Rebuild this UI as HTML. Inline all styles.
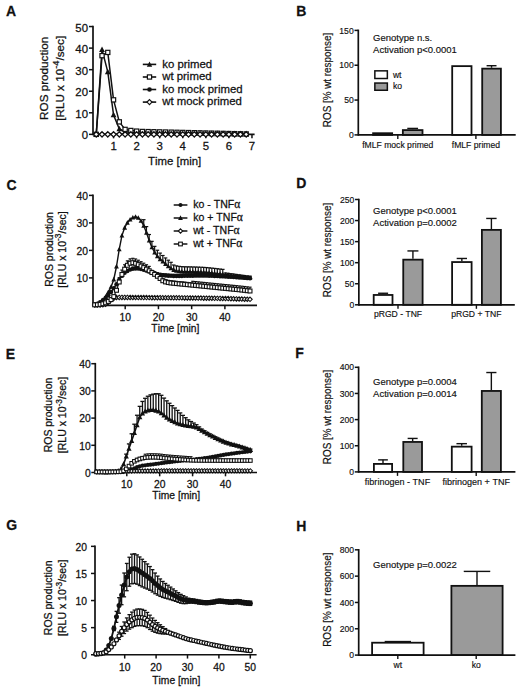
<!DOCTYPE html>
<html><head><meta charset="utf-8"><style>
html,body{margin:0;padding:0;background:#fff;}
svg{display:block;}
text{font-family:"Liberation Sans", sans-serif;font-variant-ligatures:none;font-kerning:none;}
</style></head><body>
<svg width="520" height="689" viewBox="0 0 520 689">
<rect width="520" height="689" fill="#fff"/>
<text x="6.00" y="16.00" font-size="14" text-anchor="start" font-weight="bold" fill="#111" stroke="#111" stroke-width="0.26">A</text>
<text x="296.20" y="16.20" font-size="14" text-anchor="start" font-weight="bold" fill="#111" stroke="#111" stroke-width="0.26">B</text>
<text x="6.60" y="190.20" font-size="14" text-anchor="start" font-weight="bold" fill="#111" stroke="#111" stroke-width="0.26">C</text>
<text x="296.20" y="188.20" font-size="14" text-anchor="start" font-weight="bold" fill="#111" stroke="#111" stroke-width="0.26">D</text>
<text x="5.80" y="358.80" font-size="14" text-anchor="start" font-weight="bold" fill="#111" stroke="#111" stroke-width="0.26">E</text>
<text x="295.20" y="358.10" font-size="14" text-anchor="start" font-weight="bold" fill="#111" stroke="#111" stroke-width="0.26">F</text>
<text x="6.30" y="530.30" font-size="14" text-anchor="start" font-weight="bold" fill="#111" stroke="#111" stroke-width="0.26">G</text>
<text x="296.20" y="531.00" font-size="14" text-anchor="start" font-weight="bold" fill="#111" stroke="#111" stroke-width="0.26">H</text>
<line x1="93.00" y1="25.75" x2="93.00" y2="135.15" stroke="#111" stroke-width="1.7"/>
<line x1="93.00" y1="134.35" x2="254.60" y2="134.35" stroke="#111" stroke-width="1.7"/>
<line x1="89.00" y1="134.35" x2="93.00" y2="134.35" stroke="#111" stroke-width="1.5"/>
<text x="88.00" y="139.35" font-size="11.4" text-anchor="end" font-weight="normal" fill="#111" stroke="#111" stroke-width="0.26">0</text>
<line x1="89.00" y1="112.79" x2="93.00" y2="112.79" stroke="#111" stroke-width="1.5"/>
<text x="88.00" y="117.79" font-size="11.4" text-anchor="end" font-weight="normal" fill="#111" stroke="#111" stroke-width="0.26">10</text>
<line x1="89.00" y1="91.23" x2="93.00" y2="91.23" stroke="#111" stroke-width="1.5"/>
<text x="88.00" y="96.23" font-size="11.4" text-anchor="end" font-weight="normal" fill="#111" stroke="#111" stroke-width="0.26">20</text>
<line x1="89.00" y1="69.67" x2="93.00" y2="69.67" stroke="#111" stroke-width="1.5"/>
<text x="88.00" y="74.67" font-size="11.4" text-anchor="end" font-weight="normal" fill="#111" stroke="#111" stroke-width="0.26">30</text>
<line x1="89.00" y1="48.11" x2="93.00" y2="48.11" stroke="#111" stroke-width="1.5"/>
<text x="88.00" y="53.11" font-size="11.4" text-anchor="end" font-weight="normal" fill="#111" stroke="#111" stroke-width="0.26">40</text>
<line x1="89.00" y1="26.55" x2="93.00" y2="26.55" stroke="#111" stroke-width="1.5"/>
<text x="88.00" y="31.55" font-size="11.4" text-anchor="end" font-weight="normal" fill="#111" stroke="#111" stroke-width="0.26">50</text>
<line x1="113.55" y1="134.35" x2="113.55" y2="138.35" stroke="#111" stroke-width="1.5"/>
<text x="113.55" y="150.30" font-size="11.4" text-anchor="middle" font-weight="normal" fill="#111" stroke="#111" stroke-width="0.26">1</text>
<line x1="136.62" y1="134.35" x2="136.62" y2="138.35" stroke="#111" stroke-width="1.5"/>
<text x="136.62" y="150.30" font-size="11.4" text-anchor="middle" font-weight="normal" fill="#111" stroke="#111" stroke-width="0.26">2</text>
<line x1="159.69" y1="134.35" x2="159.69" y2="138.35" stroke="#111" stroke-width="1.5"/>
<text x="159.69" y="150.30" font-size="11.4" text-anchor="middle" font-weight="normal" fill="#111" stroke="#111" stroke-width="0.26">3</text>
<line x1="182.76" y1="134.35" x2="182.76" y2="138.35" stroke="#111" stroke-width="1.5"/>
<text x="182.76" y="150.30" font-size="11.4" text-anchor="middle" font-weight="normal" fill="#111" stroke="#111" stroke-width="0.26">4</text>
<line x1="205.83" y1="134.35" x2="205.83" y2="138.35" stroke="#111" stroke-width="1.5"/>
<text x="205.83" y="150.30" font-size="11.4" text-anchor="middle" font-weight="normal" fill="#111" stroke="#111" stroke-width="0.26">5</text>
<line x1="228.90" y1="134.35" x2="228.90" y2="138.35" stroke="#111" stroke-width="1.5"/>
<text x="228.90" y="150.30" font-size="11.4" text-anchor="middle" font-weight="normal" fill="#111" stroke="#111" stroke-width="0.26">6</text>
<line x1="251.97" y1="134.35" x2="251.97" y2="138.35" stroke="#111" stroke-width="1.5"/>
<text x="251.97" y="150.30" font-size="11.4" text-anchor="middle" font-weight="normal" fill="#111" stroke="#111" stroke-width="0.26">7</text>
<text x="174.60" y="165.00" font-size="11.4" text-anchor="middle" font-weight="normal" fill="#111" stroke="#111" stroke-width="0.26">Time [min]</text>
<text transform="translate(47.60,78.30) rotate(-90)" font-size="11.7" text-anchor="middle" font-weight="normal" fill="#111" stroke="#111" stroke-width="0.26">ROS production</text>
<text transform="translate(63.8,78.3) rotate(-90)" font-size="11.7" text-anchor="middle" fill="#111" stroke="#111" stroke-width="0.26">[RLU x 10<tspan font-size="9.36" dy="-5.26">-4</tspan><tspan dy="5.26">/sec]</tspan></text>
<polyline points="96.25,134.35 102.02,134.35 107.78,134.35 113.55,134.35 119.32,134.35 125.09,134.35 130.85,134.35 136.62,134.35 142.39,134.35 148.16,134.35 153.92,134.35 159.69,134.35 165.46,134.35 171.23,134.35 176.99,134.35 182.76,134.35 188.53,134.35 194.30,134.35 200.06,134.35 205.83,134.35 211.60,134.35 217.37,134.35 223.13,134.35 228.90,134.35 234.67,134.35 240.44,134.35 246.20,134.35" fill="none" stroke="#111" stroke-width="1.4" stroke-linejoin="round"/>
<circle cx="96.25" cy="134.35" r="2.00" fill="#111"/>
<circle cx="102.02" cy="134.35" r="2.00" fill="#111"/>
<circle cx="107.78" cy="134.35" r="2.00" fill="#111"/>
<circle cx="113.55" cy="134.35" r="2.00" fill="#111"/>
<circle cx="119.32" cy="134.35" r="2.00" fill="#111"/>
<circle cx="125.09" cy="134.35" r="2.00" fill="#111"/>
<circle cx="130.85" cy="134.35" r="2.00" fill="#111"/>
<circle cx="136.62" cy="134.35" r="2.00" fill="#111"/>
<circle cx="142.39" cy="134.35" r="2.00" fill="#111"/>
<circle cx="148.16" cy="134.35" r="2.00" fill="#111"/>
<circle cx="153.92" cy="134.35" r="2.00" fill="#111"/>
<circle cx="159.69" cy="134.35" r="2.00" fill="#111"/>
<circle cx="165.46" cy="134.35" r="2.00" fill="#111"/>
<circle cx="171.23" cy="134.35" r="2.00" fill="#111"/>
<circle cx="176.99" cy="134.35" r="2.00" fill="#111"/>
<circle cx="182.76" cy="134.35" r="2.00" fill="#111"/>
<circle cx="188.53" cy="134.35" r="2.00" fill="#111"/>
<circle cx="194.30" cy="134.35" r="2.00" fill="#111"/>
<circle cx="200.06" cy="134.35" r="2.00" fill="#111"/>
<circle cx="205.83" cy="134.35" r="2.00" fill="#111"/>
<circle cx="211.60" cy="134.35" r="2.00" fill="#111"/>
<circle cx="217.37" cy="134.35" r="2.00" fill="#111"/>
<circle cx="223.13" cy="134.35" r="2.00" fill="#111"/>
<circle cx="228.90" cy="134.35" r="2.00" fill="#111"/>
<circle cx="234.67" cy="134.35" r="2.00" fill="#111"/>
<circle cx="240.44" cy="134.35" r="2.00" fill="#111"/>
<circle cx="246.20" cy="134.35" r="2.00" fill="#111"/>
<polyline points="96.25,134.35 102.02,49.62 107.78,71.83 113.55,114.95 119.32,128.96 125.09,131.76 130.85,132.41 136.62,132.84 142.39,132.91 148.16,132.98 153.92,133.05 159.69,133.12 165.46,133.18 171.23,133.25 176.99,133.32 182.76,133.39 188.53,133.46 194.30,133.53 200.06,133.60 205.83,133.66 211.60,133.73 217.37,133.80 223.13,133.87 228.90,133.94 234.67,134.01 240.44,134.03 246.20,134.03" fill="none" stroke="#111" stroke-width="1.5" stroke-linejoin="round"/>
<path d="M96.25,131.16L99.15,136.74L93.35,136.74Z" fill="#111"/>
<path d="M102.02,46.43L104.92,52.01L99.11,52.01Z" fill="#111"/>
<path d="M107.78,68.64L110.68,74.22L104.88,74.22Z" fill="#111"/>
<path d="M113.55,111.76L116.45,117.34L110.65,117.34Z" fill="#111"/>
<path d="M119.32,125.77L122.22,131.35L116.42,131.35Z" fill="#111"/>
<path d="M125.09,128.57L127.99,134.16L122.19,134.16Z" fill="#111"/>
<path d="M130.85,129.22L133.75,134.80L127.95,134.80Z" fill="#111"/>
<path d="M136.62,129.65L139.52,135.23L133.72,135.23Z" fill="#111"/>
<path d="M142.39,129.72L145.29,135.30L139.49,135.30Z" fill="#111"/>
<path d="M148.16,129.79L151.06,135.37L145.25,135.37Z" fill="#111"/>
<path d="M153.92,129.86L156.82,135.44L151.02,135.44Z" fill="#111"/>
<path d="M159.69,129.93L162.59,135.51L156.79,135.51Z" fill="#111"/>
<path d="M165.46,129.99L168.36,135.58L162.56,135.58Z" fill="#111"/>
<path d="M171.23,130.06L174.13,135.64L168.33,135.64Z" fill="#111"/>
<path d="M176.99,130.13L179.89,135.71L174.09,135.71Z" fill="#111"/>
<path d="M182.76,130.20L185.66,135.78L179.86,135.78Z" fill="#111"/>
<path d="M188.53,130.27L191.43,135.85L185.63,135.85Z" fill="#111"/>
<path d="M194.30,130.34L197.20,135.92L191.40,135.92Z" fill="#111"/>
<path d="M200.06,130.41L202.96,135.99L197.16,135.99Z" fill="#111"/>
<path d="M205.83,130.47L208.73,136.06L202.93,136.06Z" fill="#111"/>
<path d="M211.60,130.54L214.50,136.13L208.70,136.13Z" fill="#111"/>
<path d="M217.37,130.61L220.27,136.19L214.47,136.19Z" fill="#111"/>
<path d="M223.13,130.68L226.03,136.26L220.23,136.26Z" fill="#111"/>
<path d="M228.90,130.75L231.80,136.33L226.00,136.33Z" fill="#111"/>
<path d="M234.67,130.82L237.57,136.40L231.77,136.40Z" fill="#111"/>
<path d="M240.44,130.84L243.34,136.42L237.53,136.42Z" fill="#111"/>
<path d="M246.20,130.84L249.10,136.42L243.30,136.42Z" fill="#111"/>
<polyline points="96.25,134.35 102.02,55.66 107.78,52.42 113.55,99.85 119.32,121.85 125.09,129.39 130.85,130.47 136.62,131.12 142.39,131.47 148.16,131.61 153.92,131.74 159.69,131.88 165.46,132.02 171.23,132.15 176.99,132.29 182.76,132.43 188.53,132.57 194.30,132.70 200.06,132.84 205.83,132.98 211.60,133.12 217.37,133.25 223.13,133.39 228.90,133.53 234.67,133.66 240.44,133.80 246.20,133.94" fill="none" stroke="#111" stroke-width="1.5" stroke-linejoin="round"/>
<rect x="94.15" y="132.25" width="4.20" height="4.20" fill="#fff" stroke="#111" stroke-width="1.2"/>
<rect x="99.92" y="53.56" width="4.20" height="4.20" fill="#fff" stroke="#111" stroke-width="1.2"/>
<rect x="105.68" y="50.32" width="4.20" height="4.20" fill="#fff" stroke="#111" stroke-width="1.2"/>
<rect x="111.45" y="97.75" width="4.20" height="4.20" fill="#fff" stroke="#111" stroke-width="1.2"/>
<rect x="117.22" y="119.75" width="4.20" height="4.20" fill="#fff" stroke="#111" stroke-width="1.2"/>
<rect x="122.99" y="127.29" width="4.20" height="4.20" fill="#fff" stroke="#111" stroke-width="1.2"/>
<rect x="128.75" y="128.37" width="4.20" height="4.20" fill="#fff" stroke="#111" stroke-width="1.2"/>
<rect x="134.52" y="129.02" width="4.20" height="4.20" fill="#fff" stroke="#111" stroke-width="1.2"/>
<rect x="140.29" y="129.37" width="4.20" height="4.20" fill="#fff" stroke="#111" stroke-width="1.2"/>
<rect x="146.06" y="129.51" width="4.20" height="4.20" fill="#fff" stroke="#111" stroke-width="1.2"/>
<rect x="151.82" y="129.64" width="4.20" height="4.20" fill="#fff" stroke="#111" stroke-width="1.2"/>
<rect x="157.59" y="129.78" width="4.20" height="4.20" fill="#fff" stroke="#111" stroke-width="1.2"/>
<rect x="163.36" y="129.92" width="4.20" height="4.20" fill="#fff" stroke="#111" stroke-width="1.2"/>
<rect x="169.13" y="130.05" width="4.20" height="4.20" fill="#fff" stroke="#111" stroke-width="1.2"/>
<rect x="174.89" y="130.19" width="4.20" height="4.20" fill="#fff" stroke="#111" stroke-width="1.2"/>
<rect x="180.66" y="130.33" width="4.20" height="4.20" fill="#fff" stroke="#111" stroke-width="1.2"/>
<rect x="186.43" y="130.47" width="4.20" height="4.20" fill="#fff" stroke="#111" stroke-width="1.2"/>
<rect x="192.20" y="130.60" width="4.20" height="4.20" fill="#fff" stroke="#111" stroke-width="1.2"/>
<rect x="197.96" y="130.74" width="4.20" height="4.20" fill="#fff" stroke="#111" stroke-width="1.2"/>
<rect x="203.73" y="130.88" width="4.20" height="4.20" fill="#fff" stroke="#111" stroke-width="1.2"/>
<rect x="209.50" y="131.02" width="4.20" height="4.20" fill="#fff" stroke="#111" stroke-width="1.2"/>
<rect x="215.27" y="131.15" width="4.20" height="4.20" fill="#fff" stroke="#111" stroke-width="1.2"/>
<rect x="221.03" y="131.29" width="4.20" height="4.20" fill="#fff" stroke="#111" stroke-width="1.2"/>
<rect x="226.80" y="131.43" width="4.20" height="4.20" fill="#fff" stroke="#111" stroke-width="1.2"/>
<rect x="232.57" y="131.56" width="4.20" height="4.20" fill="#fff" stroke="#111" stroke-width="1.2"/>
<rect x="238.34" y="131.70" width="4.20" height="4.20" fill="#fff" stroke="#111" stroke-width="1.2"/>
<rect x="244.10" y="131.84" width="4.20" height="4.20" fill="#fff" stroke="#111" stroke-width="1.2"/>
<polyline points="96.25,134.35 102.02,134.35 107.78,134.35 113.55,134.35 119.32,134.35 125.09,134.35 130.85,134.35 136.62,134.35 142.39,134.35 148.16,134.35 153.92,134.35 159.69,134.35 165.46,134.35 171.23,134.35 176.99,134.35 182.76,134.35 188.53,134.35 194.30,134.35 200.06,134.35 205.83,134.35 211.60,134.35 217.37,134.35 223.13,134.35 228.90,134.35 234.67,134.35 240.44,134.35 246.20,134.35" fill="none" stroke="#111" stroke-width="1.4" stroke-linejoin="round"/>
<path d="M96.25,131.72L98.88,134.35L96.25,136.98L93.62,134.35Z" fill="#fff" stroke="#111" stroke-width="1.3"/>
<path d="M102.02,131.72L104.64,134.35L102.02,136.98L99.39,134.35Z" fill="#fff" stroke="#111" stroke-width="1.3"/>
<path d="M107.78,131.72L110.41,134.35L107.78,136.98L105.16,134.35Z" fill="#fff" stroke="#111" stroke-width="1.3"/>
<path d="M113.55,131.72L116.18,134.35L113.55,136.98L110.92,134.35Z" fill="#fff" stroke="#111" stroke-width="1.3"/>
<path d="M119.32,131.72L121.94,134.35L119.32,136.98L116.69,134.35Z" fill="#fff" stroke="#111" stroke-width="1.3"/>
<path d="M125.09,131.72L127.71,134.35L125.09,136.98L122.46,134.35Z" fill="#fff" stroke="#111" stroke-width="1.3"/>
<path d="M130.85,131.72L133.48,134.35L130.85,136.98L128.23,134.35Z" fill="#fff" stroke="#111" stroke-width="1.3"/>
<path d="M136.62,131.72L139.25,134.35L136.62,136.98L133.99,134.35Z" fill="#fff" stroke="#111" stroke-width="1.3"/>
<path d="M142.39,131.72L145.01,134.35L142.39,136.98L139.76,134.35Z" fill="#fff" stroke="#111" stroke-width="1.3"/>
<path d="M148.16,131.72L150.78,134.35L148.16,136.98L145.53,134.35Z" fill="#fff" stroke="#111" stroke-width="1.3"/>
<path d="M153.92,131.72L156.55,134.35L153.92,136.98L151.30,134.35Z" fill="#fff" stroke="#111" stroke-width="1.3"/>
<path d="M159.69,131.72L162.32,134.35L159.69,136.98L157.06,134.35Z" fill="#fff" stroke="#111" stroke-width="1.3"/>
<path d="M165.46,131.72L168.09,134.35L165.46,136.98L162.83,134.35Z" fill="#fff" stroke="#111" stroke-width="1.3"/>
<path d="M171.23,131.72L173.85,134.35L171.23,136.98L168.60,134.35Z" fill="#fff" stroke="#111" stroke-width="1.3"/>
<path d="M176.99,131.72L179.62,134.35L176.99,136.98L174.37,134.35Z" fill="#fff" stroke="#111" stroke-width="1.3"/>
<path d="M182.76,131.72L185.39,134.35L182.76,136.98L180.13,134.35Z" fill="#fff" stroke="#111" stroke-width="1.3"/>
<path d="M188.53,131.72L191.16,134.35L188.53,136.98L185.90,134.35Z" fill="#fff" stroke="#111" stroke-width="1.3"/>
<path d="M194.30,131.72L196.92,134.35L194.30,136.98L191.67,134.35Z" fill="#fff" stroke="#111" stroke-width="1.3"/>
<path d="M200.06,131.72L202.69,134.35L200.06,136.98L197.44,134.35Z" fill="#fff" stroke="#111" stroke-width="1.3"/>
<path d="M205.83,131.72L208.46,134.35L205.83,136.98L203.20,134.35Z" fill="#fff" stroke="#111" stroke-width="1.3"/>
<path d="M211.60,131.72L214.23,134.35L211.60,136.98L208.97,134.35Z" fill="#fff" stroke="#111" stroke-width="1.3"/>
<path d="M217.37,131.72L219.99,134.35L217.37,136.98L214.74,134.35Z" fill="#fff" stroke="#111" stroke-width="1.3"/>
<path d="M223.13,131.72L225.76,134.35L223.13,136.98L220.50,134.35Z" fill="#fff" stroke="#111" stroke-width="1.3"/>
<path d="M228.90,131.72L231.53,134.35L228.90,136.98L226.27,134.35Z" fill="#fff" stroke="#111" stroke-width="1.3"/>
<path d="M234.67,131.72L237.30,134.35L234.67,136.98L232.04,134.35Z" fill="#fff" stroke="#111" stroke-width="1.3"/>
<path d="M240.44,131.72L243.06,134.35L240.44,136.98L237.81,134.35Z" fill="#fff" stroke="#111" stroke-width="1.3"/>
<path d="M246.20,131.72L248.83,134.35L246.20,136.98L243.57,134.35Z" fill="#fff" stroke="#111" stroke-width="1.3"/>
<line x1="142.80" y1="64.40" x2="156.20" y2="64.40" stroke="#111" stroke-width="1.6"/>
<path d="M149.50,61.43L152.20,66.63L146.80,66.63Z" fill="#111"/>
<text x="162.20" y="67.60" font-size="11.4" text-anchor="start" font-weight="normal" fill="#111" stroke="#111" stroke-width="0.26">ko primed</text>
<line x1="142.80" y1="77.00" x2="156.20" y2="77.00" stroke="#111" stroke-width="1.6"/>
<rect x="147.40" y="74.90" width="4.20" height="4.20" fill="#fff" stroke="#111" stroke-width="1.2"/>
<text x="162.20" y="80.20" font-size="11.4" text-anchor="start" font-weight="normal" fill="#111" stroke="#111" stroke-width="0.26">wt primed</text>
<line x1="142.80" y1="89.50" x2="156.20" y2="89.50" stroke="#111" stroke-width="1.6"/>
<circle cx="149.50" cy="89.50" r="2.30" fill="#111"/>
<text x="162.20" y="92.70" font-size="11.4" text-anchor="start" font-weight="normal" fill="#111" stroke="#111" stroke-width="0.26">ko mock primed</text>
<line x1="142.80" y1="102.10" x2="156.20" y2="102.10" stroke="#111" stroke-width="1.6"/>
<path d="M149.50,99.59L152.00,102.10L149.50,104.60L147.00,102.10Z" fill="#fff" stroke="#111" stroke-width="1.2"/>
<text x="162.20" y="105.30" font-size="11.4" text-anchor="start" font-weight="normal" fill="#111" stroke="#111" stroke-width="0.26">wt mock primed</text>
<rect x="373.10" y="133.22" width="19.05" height="1.68" fill="#fff" stroke="#111" stroke-width="1.8"/>
<line x1="412.68" y1="128.42" x2="412.68" y2="129.19" stroke="#111" stroke-width="1.4"/>
<line x1="407.28" y1="128.42" x2="418.07" y2="128.42" stroke="#111" stroke-width="1.4"/>
<rect x="402.85" y="130.09" width="19.65" height="4.81" fill="#9a9a9a" stroke="#111" stroke-width="1.8"/>
<rect x="452.20" y="66.13" width="19.30" height="68.77" fill="#fff" stroke="#111" stroke-width="1.8"/>
<line x1="491.55" y1="65.72" x2="491.55" y2="67.74" stroke="#111" stroke-width="1.4"/>
<line x1="486.58" y1="65.72" x2="496.52" y2="65.72" stroke="#111" stroke-width="1.4"/>
<rect x="482.20" y="68.64" width="18.70" height="66.26" fill="#9a9a9a" stroke="#111" stroke-width="1.8"/>
<line x1="358.30" y1="29.60" x2="358.30" y2="135.80" stroke="#111" stroke-width="1.7"/>
<line x1="358.30" y1="134.90" x2="515.70" y2="134.90" stroke="#111" stroke-width="1.8"/>
<line x1="354.50" y1="134.90" x2="358.30" y2="134.90" stroke="#111" stroke-width="1.5"/>
<text x="353.70" y="138.00" font-size="8.6" text-anchor="end" font-weight="normal" fill="#111" stroke="#111" stroke-width="0.15">0</text>
<line x1="354.50" y1="100.06" x2="358.30" y2="100.06" stroke="#111" stroke-width="1.5"/>
<text x="353.70" y="103.16" font-size="8.6" text-anchor="end" font-weight="normal" fill="#111" stroke="#111" stroke-width="0.15">50</text>
<line x1="354.50" y1="65.23" x2="358.30" y2="65.23" stroke="#111" stroke-width="1.5"/>
<text x="353.70" y="68.33" font-size="8.6" text-anchor="end" font-weight="normal" fill="#111" stroke="#111" stroke-width="0.15">100</text>
<line x1="354.50" y1="30.40" x2="358.30" y2="30.40" stroke="#111" stroke-width="1.5"/>
<text x="353.70" y="33.50" font-size="8.6" text-anchor="end" font-weight="normal" fill="#111" stroke="#111" stroke-width="0.15">150</text>
<line x1="397.80" y1="134.90" x2="397.80" y2="138.90" stroke="#111" stroke-width="1.4"/>
<text x="397.80" y="148.00" font-size="8.6" text-anchor="middle" font-weight="normal" fill="#111" stroke="#111" stroke-width="0.15">fMLF mock primed</text>
<line x1="475.90" y1="134.90" x2="475.90" y2="138.90" stroke="#111" stroke-width="1.4"/>
<text x="475.90" y="148.00" font-size="8.6" text-anchor="middle" font-weight="normal" fill="#111" stroke="#111" stroke-width="0.15">fMLF primed</text>
<text x="373.10" y="41.30" font-size="9.5" text-anchor="start" font-weight="normal" fill="#111" stroke="#111" stroke-width="0.15">Genotype n.s.</text>
<text x="373.10" y="53.10" font-size="9.5" text-anchor="start" font-weight="normal" fill="#111" stroke="#111" stroke-width="0.15">Activation p&lt;0.0001</text>
<text transform="translate(330.6,80.00) rotate(-90) scale(0.95,1)" font-size="10.4" text-anchor="middle" fill="#111" stroke="#111" stroke-width="0.2">ROS [% wt response]</text>
<rect x="374.85" y="70.85" width="12.50" height="7.65" fill="#fff" stroke="#111" stroke-width="1.5"/>
<rect x="374.85" y="83.05" width="12.5" height="7.2" fill="#9a9a9a" stroke="#111" stroke-width="1.5"/>
<text x="392.90" y="77.50" font-size="8.6" text-anchor="start" font-weight="normal" fill="#111" stroke="#111" stroke-width="0.15">wt</text>
<text x="392.90" y="89.30" font-size="8.6" text-anchor="start" font-weight="normal" fill="#111" stroke="#111" stroke-width="0.15">ko</text>
<line x1="93.00" y1="194.60" x2="93.00" y2="306.20" stroke="#111" stroke-width="1.7"/>
<line x1="93.00" y1="305.40" x2="257.00" y2="305.40" stroke="#111" stroke-width="1.7"/>
<line x1="89.00" y1="277.90" x2="93.00" y2="277.90" stroke="#111" stroke-width="1.5"/>
<text x="87.90" y="282.20" font-size="10.3" text-anchor="end" font-weight="normal" fill="#111" stroke="#111" stroke-width="0.26">10</text>
<line x1="89.00" y1="250.40" x2="93.00" y2="250.40" stroke="#111" stroke-width="1.5"/>
<text x="87.90" y="254.70" font-size="10.3" text-anchor="end" font-weight="normal" fill="#111" stroke="#111" stroke-width="0.26">20</text>
<line x1="89.00" y1="222.90" x2="93.00" y2="222.90" stroke="#111" stroke-width="1.5"/>
<text x="87.90" y="227.20" font-size="10.3" text-anchor="end" font-weight="normal" fill="#111" stroke="#111" stroke-width="0.26">30</text>
<line x1="89.00" y1="195.40" x2="93.00" y2="195.40" stroke="#111" stroke-width="1.5"/>
<text x="87.90" y="199.70" font-size="10.3" text-anchor="end" font-weight="normal" fill="#111" stroke="#111" stroke-width="0.26">40</text>
<line x1="125.20" y1="305.40" x2="125.20" y2="309.20" stroke="#111" stroke-width="1.5"/>
<text x="125.20" y="320.70" font-size="10.3" text-anchor="middle" font-weight="normal" fill="#111" stroke="#111" stroke-width="0.26">10</text>
<line x1="158.43" y1="305.40" x2="158.43" y2="309.20" stroke="#111" stroke-width="1.5"/>
<text x="158.43" y="320.70" font-size="10.3" text-anchor="middle" font-weight="normal" fill="#111" stroke="#111" stroke-width="0.26">20</text>
<line x1="191.66" y1="305.40" x2="191.66" y2="309.20" stroke="#111" stroke-width="1.5"/>
<text x="191.66" y="320.70" font-size="10.3" text-anchor="middle" font-weight="normal" fill="#111" stroke="#111" stroke-width="0.26">30</text>
<line x1="224.89" y1="305.40" x2="224.89" y2="309.20" stroke="#111" stroke-width="1.5"/>
<text x="224.89" y="320.70" font-size="10.3" text-anchor="middle" font-weight="normal" fill="#111" stroke="#111" stroke-width="0.26">40</text>
<text x="175.40" y="332.30" font-size="10.3" text-anchor="middle" font-weight="normal" fill="#111" stroke="#111" stroke-width="0.26">Time [min]</text>
<text transform="translate(52.50,249.50) rotate(-90)" font-size="10.506" text-anchor="middle" font-weight="normal" fill="#111" stroke="#111" stroke-width="0.26">ROS production</text>
<text transform="translate(65.8,249.5) rotate(-90)" font-size="10.51" text-anchor="middle" fill="#111" stroke="#111" stroke-width="0.26">[RLU x 10<tspan font-size="8.40" dy="-4.73">-3</tspan><tspan dy="4.73">/sec]</tspan></text>
<line x1="132.84" y1="267.14" x2="132.84" y2="268.79" stroke="#111" stroke-width="1.1"/>
<line x1="131.34" y1="267.14" x2="134.34" y2="267.14" stroke="#111" stroke-width="1.1"/>
<line x1="135.57" y1="266.87" x2="135.57" y2="268.52" stroke="#111" stroke-width="1.1"/>
<line x1="134.07" y1="266.87" x2="137.07" y2="266.87" stroke="#111" stroke-width="1.1"/>
<line x1="138.29" y1="266.82" x2="138.29" y2="268.47" stroke="#111" stroke-width="1.1"/>
<line x1="136.79" y1="266.82" x2="139.79" y2="266.82" stroke="#111" stroke-width="1.1"/>
<line x1="141.02" y1="267.33" x2="141.02" y2="268.98" stroke="#111" stroke-width="1.1"/>
<line x1="139.52" y1="267.33" x2="142.52" y2="267.33" stroke="#111" stroke-width="1.1"/>
<line x1="143.74" y1="268.17" x2="143.74" y2="269.82" stroke="#111" stroke-width="1.1"/>
<line x1="142.24" y1="268.17" x2="145.24" y2="268.17" stroke="#111" stroke-width="1.1"/>
<line x1="146.47" y1="268.99" x2="146.47" y2="270.64" stroke="#111" stroke-width="1.1"/>
<line x1="144.97" y1="268.99" x2="147.97" y2="268.99" stroke="#111" stroke-width="1.1"/>
<line x1="149.19" y1="269.95" x2="149.19" y2="271.60" stroke="#111" stroke-width="1.1"/>
<line x1="147.69" y1="269.95" x2="150.69" y2="269.95" stroke="#111" stroke-width="1.1"/>
<line x1="151.92" y1="270.96" x2="151.92" y2="272.61" stroke="#111" stroke-width="1.1"/>
<line x1="150.42" y1="270.96" x2="153.42" y2="270.96" stroke="#111" stroke-width="1.1"/>
<line x1="154.64" y1="271.86" x2="154.64" y2="273.51" stroke="#111" stroke-width="1.1"/>
<line x1="153.14" y1="271.86" x2="156.14" y2="271.86" stroke="#111" stroke-width="1.1"/>
<line x1="157.37" y1="272.62" x2="157.37" y2="274.27" stroke="#111" stroke-width="1.1"/>
<line x1="155.87" y1="272.62" x2="158.87" y2="272.62" stroke="#111" stroke-width="1.1"/>
<line x1="160.09" y1="273.24" x2="160.09" y2="274.89" stroke="#111" stroke-width="1.1"/>
<line x1="158.59" y1="273.24" x2="161.59" y2="273.24" stroke="#111" stroke-width="1.1"/>
<line x1="162.82" y1="273.62" x2="162.82" y2="275.27" stroke="#111" stroke-width="1.1"/>
<line x1="161.32" y1="273.62" x2="164.32" y2="273.62" stroke="#111" stroke-width="1.1"/>
<line x1="165.54" y1="273.88" x2="165.54" y2="275.53" stroke="#111" stroke-width="1.1"/>
<line x1="164.04" y1="273.88" x2="167.04" y2="273.88" stroke="#111" stroke-width="1.1"/>
<line x1="168.27" y1="274.08" x2="168.27" y2="275.73" stroke="#111" stroke-width="1.1"/>
<line x1="166.77" y1="274.08" x2="169.77" y2="274.08" stroke="#111" stroke-width="1.1"/>
<line x1="170.99" y1="274.21" x2="170.99" y2="275.86" stroke="#111" stroke-width="1.1"/>
<line x1="169.49" y1="274.21" x2="172.49" y2="274.21" stroke="#111" stroke-width="1.1"/>
<line x1="173.72" y1="274.30" x2="173.72" y2="275.95" stroke="#111" stroke-width="1.1"/>
<line x1="172.22" y1="274.30" x2="175.22" y2="274.30" stroke="#111" stroke-width="1.1"/>
<line x1="176.44" y1="274.34" x2="176.44" y2="275.99" stroke="#111" stroke-width="1.1"/>
<line x1="174.94" y1="274.34" x2="177.94" y2="274.34" stroke="#111" stroke-width="1.1"/>
<line x1="179.17" y1="274.33" x2="179.17" y2="275.98" stroke="#111" stroke-width="1.1"/>
<line x1="177.67" y1="274.33" x2="180.67" y2="274.33" stroke="#111" stroke-width="1.1"/>
<line x1="181.89" y1="274.28" x2="181.89" y2="275.93" stroke="#111" stroke-width="1.1"/>
<line x1="180.39" y1="274.28" x2="183.39" y2="274.28" stroke="#111" stroke-width="1.1"/>
<line x1="184.62" y1="274.21" x2="184.62" y2="275.86" stroke="#111" stroke-width="1.1"/>
<line x1="183.12" y1="274.21" x2="186.12" y2="274.21" stroke="#111" stroke-width="1.1"/>
<line x1="187.34" y1="274.13" x2="187.34" y2="275.78" stroke="#111" stroke-width="1.1"/>
<line x1="185.84" y1="274.13" x2="188.84" y2="274.13" stroke="#111" stroke-width="1.1"/>
<line x1="190.06" y1="274.07" x2="190.06" y2="275.72" stroke="#111" stroke-width="1.1"/>
<line x1="188.56" y1="274.07" x2="191.56" y2="274.07" stroke="#111" stroke-width="1.1"/>
<line x1="192.79" y1="274.04" x2="192.79" y2="275.69" stroke="#111" stroke-width="1.1"/>
<line x1="191.29" y1="274.04" x2="194.29" y2="274.04" stroke="#111" stroke-width="1.1"/>
<line x1="195.51" y1="274.01" x2="195.51" y2="275.66" stroke="#111" stroke-width="1.1"/>
<line x1="194.01" y1="274.01" x2="197.01" y2="274.01" stroke="#111" stroke-width="1.1"/>
<line x1="198.24" y1="273.99" x2="198.24" y2="275.64" stroke="#111" stroke-width="1.1"/>
<line x1="196.74" y1="273.99" x2="199.74" y2="273.99" stroke="#111" stroke-width="1.1"/>
<line x1="200.96" y1="273.98" x2="200.96" y2="275.63" stroke="#111" stroke-width="1.1"/>
<line x1="199.46" y1="273.98" x2="202.46" y2="273.98" stroke="#111" stroke-width="1.1"/>
<line x1="203.69" y1="273.98" x2="203.69" y2="275.63" stroke="#111" stroke-width="1.1"/>
<line x1="202.19" y1="273.98" x2="205.19" y2="273.98" stroke="#111" stroke-width="1.1"/>
<line x1="206.41" y1="274.01" x2="206.41" y2="275.66" stroke="#111" stroke-width="1.1"/>
<line x1="204.91" y1="274.01" x2="207.91" y2="274.01" stroke="#111" stroke-width="1.1"/>
<line x1="209.14" y1="274.07" x2="209.14" y2="275.72" stroke="#111" stroke-width="1.1"/>
<line x1="207.64" y1="274.07" x2="210.64" y2="274.07" stroke="#111" stroke-width="1.1"/>
<line x1="211.86" y1="274.17" x2="211.86" y2="275.82" stroke="#111" stroke-width="1.1"/>
<line x1="210.36" y1="274.17" x2="213.36" y2="274.17" stroke="#111" stroke-width="1.1"/>
<line x1="214.59" y1="274.29" x2="214.59" y2="275.94" stroke="#111" stroke-width="1.1"/>
<line x1="213.09" y1="274.29" x2="216.09" y2="274.29" stroke="#111" stroke-width="1.1"/>
<line x1="217.31" y1="274.43" x2="217.31" y2="276.08" stroke="#111" stroke-width="1.1"/>
<line x1="215.81" y1="274.43" x2="218.81" y2="274.43" stroke="#111" stroke-width="1.1"/>
<line x1="220.04" y1="274.59" x2="220.04" y2="276.24" stroke="#111" stroke-width="1.1"/>
<line x1="218.54" y1="274.59" x2="221.54" y2="274.59" stroke="#111" stroke-width="1.1"/>
<line x1="222.76" y1="274.75" x2="222.76" y2="276.40" stroke="#111" stroke-width="1.1"/>
<line x1="221.26" y1="274.75" x2="224.26" y2="274.75" stroke="#111" stroke-width="1.1"/>
<line x1="225.49" y1="274.91" x2="225.49" y2="276.56" stroke="#111" stroke-width="1.1"/>
<line x1="223.99" y1="274.91" x2="226.99" y2="274.91" stroke="#111" stroke-width="1.1"/>
<line x1="228.21" y1="275.07" x2="228.21" y2="276.72" stroke="#111" stroke-width="1.1"/>
<line x1="226.71" y1="275.07" x2="229.71" y2="275.07" stroke="#111" stroke-width="1.1"/>
<line x1="230.94" y1="275.25" x2="230.94" y2="276.90" stroke="#111" stroke-width="1.1"/>
<line x1="229.44" y1="275.25" x2="232.44" y2="275.25" stroke="#111" stroke-width="1.1"/>
<line x1="233.66" y1="275.43" x2="233.66" y2="277.08" stroke="#111" stroke-width="1.1"/>
<line x1="232.16" y1="275.43" x2="235.16" y2="275.43" stroke="#111" stroke-width="1.1"/>
<line x1="236.39" y1="275.61" x2="236.39" y2="277.26" stroke="#111" stroke-width="1.1"/>
<line x1="234.89" y1="275.61" x2="237.89" y2="275.61" stroke="#111" stroke-width="1.1"/>
<line x1="239.11" y1="275.80" x2="239.11" y2="277.45" stroke="#111" stroke-width="1.1"/>
<line x1="237.61" y1="275.80" x2="240.61" y2="275.80" stroke="#111" stroke-width="1.1"/>
<line x1="241.84" y1="276.00" x2="241.84" y2="277.65" stroke="#111" stroke-width="1.1"/>
<line x1="240.34" y1="276.00" x2="243.34" y2="276.00" stroke="#111" stroke-width="1.1"/>
<line x1="244.56" y1="276.24" x2="244.56" y2="277.89" stroke="#111" stroke-width="1.1"/>
<line x1="243.06" y1="276.24" x2="246.06" y2="276.24" stroke="#111" stroke-width="1.1"/>
<line x1="247.29" y1="276.50" x2="247.29" y2="278.15" stroke="#111" stroke-width="1.1"/>
<line x1="245.79" y1="276.50" x2="248.79" y2="276.50" stroke="#111" stroke-width="1.1"/>
<line x1="250.01" y1="276.72" x2="250.01" y2="278.37" stroke="#111" stroke-width="1.1"/>
<line x1="248.51" y1="276.72" x2="251.51" y2="276.72" stroke="#111" stroke-width="1.1"/>
<polyline points="94.69,304.57 97.42,303.81 100.14,302.31 102.87,300.23 105.59,297.92 108.32,295.24 111.04,291.95 113.77,288.22 116.49,284.27 119.22,279.96 121.94,275.91 124.67,272.77 127.39,271.01 130.12,269.61 132.84,268.79 135.57,268.52 138.29,268.47 141.02,268.98 143.74,269.82 146.47,270.64 149.19,271.60 151.92,272.61 154.64,273.51 157.37,274.27 160.09,274.89 162.82,275.27 165.54,275.53 168.27,275.73 170.99,275.86 173.72,275.95 176.44,275.99 179.17,275.98 181.89,275.93 184.62,275.86 187.34,275.78 190.06,275.72 192.79,275.69 195.51,275.66 198.24,275.64 200.96,275.63 203.69,275.63 206.41,275.66 209.14,275.72 211.86,275.82 214.59,275.94 217.31,276.08 220.04,276.24 222.76,276.40 225.49,276.56 228.21,276.72 230.94,276.90 233.66,277.08 236.39,277.26 239.11,277.45 241.84,277.65 244.56,277.89 247.29,278.15 250.01,278.37" fill="none" stroke="#111" stroke-width="1.4" stroke-linejoin="round"/>
<circle cx="94.69" cy="304.57" r="2.20" fill="#111"/>
<circle cx="97.42" cy="303.81" r="2.20" fill="#111"/>
<circle cx="100.14" cy="302.31" r="2.20" fill="#111"/>
<circle cx="102.87" cy="300.23" r="2.20" fill="#111"/>
<circle cx="105.59" cy="297.92" r="2.20" fill="#111"/>
<circle cx="108.32" cy="295.24" r="2.20" fill="#111"/>
<circle cx="111.04" cy="291.95" r="2.20" fill="#111"/>
<circle cx="113.77" cy="288.22" r="2.20" fill="#111"/>
<circle cx="116.49" cy="284.27" r="2.20" fill="#111"/>
<circle cx="119.22" cy="279.96" r="2.20" fill="#111"/>
<circle cx="121.94" cy="275.91" r="2.20" fill="#111"/>
<circle cx="124.67" cy="272.77" r="2.20" fill="#111"/>
<circle cx="127.39" cy="271.01" r="2.20" fill="#111"/>
<circle cx="130.12" cy="269.61" r="2.20" fill="#111"/>
<circle cx="132.84" cy="268.79" r="2.20" fill="#111"/>
<circle cx="135.57" cy="268.52" r="2.20" fill="#111"/>
<circle cx="138.29" cy="268.47" r="2.20" fill="#111"/>
<circle cx="141.02" cy="268.98" r="2.20" fill="#111"/>
<circle cx="143.74" cy="269.82" r="2.20" fill="#111"/>
<circle cx="146.47" cy="270.64" r="2.20" fill="#111"/>
<circle cx="149.19" cy="271.60" r="2.20" fill="#111"/>
<circle cx="151.92" cy="272.61" r="2.20" fill="#111"/>
<circle cx="154.64" cy="273.51" r="2.20" fill="#111"/>
<circle cx="157.37" cy="274.27" r="2.20" fill="#111"/>
<circle cx="160.09" cy="274.89" r="2.20" fill="#111"/>
<circle cx="162.82" cy="275.27" r="2.20" fill="#111"/>
<circle cx="165.54" cy="275.53" r="2.20" fill="#111"/>
<circle cx="168.27" cy="275.73" r="2.20" fill="#111"/>
<circle cx="170.99" cy="275.86" r="2.20" fill="#111"/>
<circle cx="173.72" cy="275.95" r="2.20" fill="#111"/>
<circle cx="176.44" cy="275.99" r="2.20" fill="#111"/>
<circle cx="179.17" cy="275.98" r="2.20" fill="#111"/>
<circle cx="181.89" cy="275.93" r="2.20" fill="#111"/>
<circle cx="184.62" cy="275.86" r="2.20" fill="#111"/>
<circle cx="187.34" cy="275.78" r="2.20" fill="#111"/>
<circle cx="190.06" cy="275.72" r="2.20" fill="#111"/>
<circle cx="192.79" cy="275.69" r="2.20" fill="#111"/>
<circle cx="195.51" cy="275.66" r="2.20" fill="#111"/>
<circle cx="198.24" cy="275.64" r="2.20" fill="#111"/>
<circle cx="200.96" cy="275.63" r="2.20" fill="#111"/>
<circle cx="203.69" cy="275.63" r="2.20" fill="#111"/>
<circle cx="206.41" cy="275.66" r="2.20" fill="#111"/>
<circle cx="209.14" cy="275.72" r="2.20" fill="#111"/>
<circle cx="211.86" cy="275.82" r="2.20" fill="#111"/>
<circle cx="214.59" cy="275.94" r="2.20" fill="#111"/>
<circle cx="217.31" cy="276.08" r="2.20" fill="#111"/>
<circle cx="220.04" cy="276.24" r="2.20" fill="#111"/>
<circle cx="222.76" cy="276.40" r="2.20" fill="#111"/>
<circle cx="225.49" cy="276.56" r="2.20" fill="#111"/>
<circle cx="228.21" cy="276.72" r="2.20" fill="#111"/>
<circle cx="230.94" cy="276.90" r="2.20" fill="#111"/>
<circle cx="233.66" cy="277.08" r="2.20" fill="#111"/>
<circle cx="236.39" cy="277.26" r="2.20" fill="#111"/>
<circle cx="239.11" cy="277.45" r="2.20" fill="#111"/>
<circle cx="241.84" cy="277.65" r="2.20" fill="#111"/>
<circle cx="244.56" cy="277.89" r="2.20" fill="#111"/>
<circle cx="247.29" cy="278.15" r="2.20" fill="#111"/>
<circle cx="250.01" cy="278.37" r="2.20" fill="#111"/>
<line x1="143.74" y1="219.68" x2="143.74" y2="225.73" stroke="#111" stroke-width="1.2"/>
<line x1="141.94" y1="219.68" x2="145.54" y2="219.68" stroke="#111" stroke-width="1.2"/>
<line x1="146.47" y1="226.60" x2="146.47" y2="232.65" stroke="#111" stroke-width="1.2"/>
<line x1="144.67" y1="226.60" x2="148.27" y2="226.60" stroke="#111" stroke-width="1.2"/>
<line x1="149.19" y1="234.52" x2="149.19" y2="240.57" stroke="#111" stroke-width="1.2"/>
<line x1="147.39" y1="234.52" x2="150.99" y2="234.52" stroke="#111" stroke-width="1.2"/>
<line x1="151.92" y1="241.34" x2="151.92" y2="247.39" stroke="#111" stroke-width="1.2"/>
<line x1="150.12" y1="241.34" x2="153.72" y2="241.34" stroke="#111" stroke-width="1.2"/>
<line x1="154.64" y1="246.36" x2="154.64" y2="252.41" stroke="#111" stroke-width="1.2"/>
<line x1="152.84" y1="246.36" x2="156.44" y2="246.36" stroke="#111" stroke-width="1.2"/>
<line x1="157.37" y1="250.25" x2="157.37" y2="256.30" stroke="#111" stroke-width="1.2"/>
<line x1="155.57" y1="250.25" x2="159.17" y2="250.25" stroke="#111" stroke-width="1.2"/>
<line x1="160.09" y1="253.10" x2="160.09" y2="259.15" stroke="#111" stroke-width="1.2"/>
<line x1="158.29" y1="253.10" x2="161.89" y2="253.10" stroke="#111" stroke-width="1.2"/>
<line x1="162.82" y1="255.50" x2="162.82" y2="261.55" stroke="#111" stroke-width="1.2"/>
<line x1="161.02" y1="255.50" x2="164.62" y2="255.50" stroke="#111" stroke-width="1.2"/>
<line x1="165.54" y1="257.95" x2="165.54" y2="264.00" stroke="#111" stroke-width="1.2"/>
<line x1="163.74" y1="257.95" x2="167.34" y2="257.95" stroke="#111" stroke-width="1.2"/>
<line x1="168.27" y1="260.20" x2="168.27" y2="266.25" stroke="#111" stroke-width="1.2"/>
<line x1="166.47" y1="260.20" x2="170.07" y2="260.20" stroke="#111" stroke-width="1.2"/>
<line x1="170.99" y1="262.29" x2="170.99" y2="268.34" stroke="#111" stroke-width="1.2"/>
<line x1="169.19" y1="262.29" x2="172.79" y2="262.29" stroke="#111" stroke-width="1.2"/>
<line x1="173.72" y1="265.01" x2="173.72" y2="269.96" stroke="#111" stroke-width="1.2"/>
<line x1="171.92" y1="265.01" x2="175.52" y2="265.01" stroke="#111" stroke-width="1.2"/>
<line x1="176.44" y1="265.87" x2="176.44" y2="270.82" stroke="#111" stroke-width="1.2"/>
<line x1="174.64" y1="265.87" x2="178.24" y2="265.87" stroke="#111" stroke-width="1.2"/>
<line x1="179.17" y1="266.35" x2="179.17" y2="271.30" stroke="#111" stroke-width="1.2"/>
<line x1="177.37" y1="266.35" x2="180.97" y2="266.35" stroke="#111" stroke-width="1.2"/>
<line x1="181.89" y1="266.64" x2="181.89" y2="271.59" stroke="#111" stroke-width="1.2"/>
<line x1="180.09" y1="266.64" x2="183.69" y2="266.64" stroke="#111" stroke-width="1.2"/>
<line x1="184.62" y1="266.78" x2="184.62" y2="271.73" stroke="#111" stroke-width="1.2"/>
<line x1="182.82" y1="266.78" x2="186.42" y2="266.78" stroke="#111" stroke-width="1.2"/>
<line x1="187.34" y1="266.83" x2="187.34" y2="271.78" stroke="#111" stroke-width="1.2"/>
<line x1="185.54" y1="266.83" x2="189.14" y2="266.83" stroke="#111" stroke-width="1.2"/>
<line x1="190.06" y1="266.86" x2="190.06" y2="271.81" stroke="#111" stroke-width="1.2"/>
<line x1="188.26" y1="266.86" x2="191.86" y2="266.86" stroke="#111" stroke-width="1.2"/>
<line x1="192.79" y1="266.94" x2="192.79" y2="271.89" stroke="#111" stroke-width="1.2"/>
<line x1="190.99" y1="266.94" x2="194.59" y2="266.94" stroke="#111" stroke-width="1.2"/>
<line x1="195.51" y1="267.02" x2="195.51" y2="271.97" stroke="#111" stroke-width="1.2"/>
<line x1="193.71" y1="267.02" x2="197.31" y2="267.02" stroke="#111" stroke-width="1.2"/>
<line x1="198.24" y1="267.11" x2="198.24" y2="272.06" stroke="#111" stroke-width="1.2"/>
<line x1="196.44" y1="267.11" x2="200.04" y2="267.11" stroke="#111" stroke-width="1.2"/>
<line x1="200.96" y1="267.22" x2="200.96" y2="272.17" stroke="#111" stroke-width="1.2"/>
<line x1="199.16" y1="267.22" x2="202.76" y2="267.22" stroke="#111" stroke-width="1.2"/>
<line x1="203.69" y1="267.37" x2="203.69" y2="272.32" stroke="#111" stroke-width="1.2"/>
<line x1="201.89" y1="267.37" x2="205.49" y2="267.37" stroke="#111" stroke-width="1.2"/>
<line x1="206.41" y1="267.56" x2="206.41" y2="272.51" stroke="#111" stroke-width="1.2"/>
<line x1="204.61" y1="267.56" x2="208.21" y2="267.56" stroke="#111" stroke-width="1.2"/>
<line x1="209.14" y1="267.81" x2="209.14" y2="272.76" stroke="#111" stroke-width="1.2"/>
<line x1="207.34" y1="267.81" x2="210.94" y2="267.81" stroke="#111" stroke-width="1.2"/>
<line x1="211.86" y1="268.10" x2="211.86" y2="273.05" stroke="#111" stroke-width="1.2"/>
<line x1="210.06" y1="268.10" x2="213.66" y2="268.10" stroke="#111" stroke-width="1.2"/>
<line x1="214.59" y1="268.40" x2="214.59" y2="273.35" stroke="#111" stroke-width="1.2"/>
<line x1="212.79" y1="268.40" x2="216.39" y2="268.40" stroke="#111" stroke-width="1.2"/>
<line x1="217.31" y1="268.72" x2="217.31" y2="273.67" stroke="#111" stroke-width="1.2"/>
<line x1="215.51" y1="268.72" x2="219.11" y2="268.72" stroke="#111" stroke-width="1.2"/>
<line x1="220.04" y1="269.03" x2="220.04" y2="273.98" stroke="#111" stroke-width="1.2"/>
<line x1="218.24" y1="269.03" x2="221.84" y2="269.03" stroke="#111" stroke-width="1.2"/>
<line x1="222.76" y1="269.36" x2="222.76" y2="274.31" stroke="#111" stroke-width="1.2"/>
<line x1="220.96" y1="269.36" x2="224.56" y2="269.36" stroke="#111" stroke-width="1.2"/>
<line x1="225.49" y1="273.00" x2="225.49" y2="274.65" stroke="#111" stroke-width="1.2"/>
<line x1="223.69" y1="273.00" x2="227.29" y2="273.00" stroke="#111" stroke-width="1.2"/>
<line x1="228.21" y1="273.35" x2="228.21" y2="275.00" stroke="#111" stroke-width="1.2"/>
<line x1="226.41" y1="273.35" x2="230.01" y2="273.35" stroke="#111" stroke-width="1.2"/>
<line x1="230.94" y1="273.70" x2="230.94" y2="275.35" stroke="#111" stroke-width="1.2"/>
<line x1="229.14" y1="273.70" x2="232.74" y2="273.70" stroke="#111" stroke-width="1.2"/>
<line x1="233.66" y1="274.06" x2="233.66" y2="275.71" stroke="#111" stroke-width="1.2"/>
<line x1="231.86" y1="274.06" x2="235.46" y2="274.06" stroke="#111" stroke-width="1.2"/>
<line x1="236.39" y1="274.45" x2="236.39" y2="276.10" stroke="#111" stroke-width="1.2"/>
<line x1="234.59" y1="274.45" x2="238.19" y2="274.45" stroke="#111" stroke-width="1.2"/>
<line x1="239.11" y1="274.84" x2="239.11" y2="276.49" stroke="#111" stroke-width="1.2"/>
<line x1="237.31" y1="274.84" x2="240.91" y2="274.84" stroke="#111" stroke-width="1.2"/>
<line x1="241.84" y1="275.19" x2="241.84" y2="276.84" stroke="#111" stroke-width="1.2"/>
<line x1="240.04" y1="275.19" x2="243.64" y2="275.19" stroke="#111" stroke-width="1.2"/>
<line x1="244.56" y1="275.54" x2="244.56" y2="277.19" stroke="#111" stroke-width="1.2"/>
<line x1="242.76" y1="275.54" x2="246.36" y2="275.54" stroke="#111" stroke-width="1.2"/>
<line x1="247.29" y1="275.88" x2="247.29" y2="277.53" stroke="#111" stroke-width="1.2"/>
<line x1="245.49" y1="275.88" x2="249.09" y2="275.88" stroke="#111" stroke-width="1.2"/>
<line x1="250.01" y1="276.15" x2="250.01" y2="277.80" stroke="#111" stroke-width="1.2"/>
<line x1="248.21" y1="276.15" x2="251.81" y2="276.15" stroke="#111" stroke-width="1.2"/>
<polyline points="94.69,304.57 97.42,303.81 100.14,302.34 102.87,300.09 105.59,296.67 108.32,292.14 111.04,286.89 113.77,279.50 116.49,266.49 119.22,249.35 121.94,235.56 124.67,227.65 127.39,222.71 130.12,219.56 132.84,217.61 135.57,216.85 138.29,217.80 141.02,220.83 143.74,225.73 146.47,232.65 149.19,240.57 151.92,247.39 154.64,252.41 157.37,256.30 160.09,259.15 162.82,261.55 165.54,264.00 168.27,266.25 170.99,268.34 173.72,269.96 176.44,270.82 179.17,271.30 181.89,271.59 184.62,271.73 187.34,271.78 190.06,271.81 192.79,271.89 195.51,271.97 198.24,272.06 200.96,272.17 203.69,272.32 206.41,272.51 209.14,272.76 211.86,273.05 214.59,273.35 217.31,273.67 220.04,273.98 222.76,274.31 225.49,274.65 228.21,275.00 230.94,275.35 233.66,275.71 236.39,276.10 239.11,276.49 241.84,276.84 244.56,277.19 247.29,277.53 250.01,277.80" fill="none" stroke="#111" stroke-width="1.4" stroke-linejoin="round"/>
<path d="M94.69,301.94L97.09,306.56L92.29,306.56Z" fill="#111"/>
<path d="M97.42,301.17L99.82,305.79L95.02,305.79Z" fill="#111"/>
<path d="M100.14,299.70L102.54,304.32L97.74,304.32Z" fill="#111"/>
<path d="M102.87,297.45L105.27,302.07L100.47,302.07Z" fill="#111"/>
<path d="M105.59,294.03L107.99,298.65L103.19,298.65Z" fill="#111"/>
<path d="M108.32,289.50L110.72,294.12L105.92,294.12Z" fill="#111"/>
<path d="M111.04,284.25L113.44,288.87L108.64,288.87Z" fill="#111"/>
<path d="M113.77,276.86L116.17,281.48L111.37,281.48Z" fill="#111"/>
<path d="M116.49,263.85L118.89,268.47L114.09,268.47Z" fill="#111"/>
<path d="M119.22,246.71L121.62,251.33L116.82,251.33Z" fill="#111"/>
<path d="M121.94,232.92L124.34,237.54L119.54,237.54Z" fill="#111"/>
<path d="M124.67,225.01L127.07,229.63L122.27,229.63Z" fill="#111"/>
<path d="M127.39,220.07L129.79,224.69L124.99,224.69Z" fill="#111"/>
<path d="M130.12,216.92L132.52,221.54L127.72,221.54Z" fill="#111"/>
<path d="M132.84,214.97L135.24,219.59L130.44,219.59Z" fill="#111"/>
<path d="M135.57,214.21L137.97,218.83L133.17,218.83Z" fill="#111"/>
<path d="M138.29,215.16L140.69,219.78L135.89,219.78Z" fill="#111"/>
<path d="M141.02,218.19L143.42,222.81L138.62,222.81Z" fill="#111"/>
<path d="M143.74,223.09L146.14,227.71L141.34,227.71Z" fill="#111"/>
<path d="M146.47,230.01L148.87,234.63L144.07,234.63Z" fill="#111"/>
<path d="M149.19,237.93L151.59,242.55L146.79,242.55Z" fill="#111"/>
<path d="M151.92,244.75L154.32,249.37L149.52,249.37Z" fill="#111"/>
<path d="M154.64,249.77L157.04,254.39L152.24,254.39Z" fill="#111"/>
<path d="M157.37,253.66L159.77,258.28L154.97,258.28Z" fill="#111"/>
<path d="M160.09,256.51L162.49,261.13L157.69,261.13Z" fill="#111"/>
<path d="M162.82,258.91L165.22,263.53L160.42,263.53Z" fill="#111"/>
<path d="M165.54,261.36L167.94,265.98L163.14,265.98Z" fill="#111"/>
<path d="M168.27,263.61L170.67,268.23L165.87,268.23Z" fill="#111"/>
<path d="M170.99,265.70L173.39,270.32L168.59,270.32Z" fill="#111"/>
<path d="M173.72,267.32L176.12,271.94L171.32,271.94Z" fill="#111"/>
<path d="M176.44,268.18L178.84,272.80L174.04,272.80Z" fill="#111"/>
<path d="M179.17,268.66L181.57,273.28L176.77,273.28Z" fill="#111"/>
<path d="M181.89,268.95L184.29,273.57L179.49,273.57Z" fill="#111"/>
<path d="M184.62,269.09L187.02,273.71L182.22,273.71Z" fill="#111"/>
<path d="M187.34,269.14L189.74,273.76L184.94,273.76Z" fill="#111"/>
<path d="M190.06,269.17L192.46,273.79L187.66,273.79Z" fill="#111"/>
<path d="M192.79,269.25L195.19,273.87L190.39,273.87Z" fill="#111"/>
<path d="M195.51,269.33L197.91,273.95L193.11,273.95Z" fill="#111"/>
<path d="M198.24,269.42L200.64,274.04L195.84,274.04Z" fill="#111"/>
<path d="M200.96,269.53L203.36,274.15L198.56,274.15Z" fill="#111"/>
<path d="M203.69,269.68L206.09,274.30L201.29,274.30Z" fill="#111"/>
<path d="M206.41,269.87L208.81,274.49L204.01,274.49Z" fill="#111"/>
<path d="M209.14,270.12L211.54,274.74L206.74,274.74Z" fill="#111"/>
<path d="M211.86,270.41L214.26,275.03L209.46,275.03Z" fill="#111"/>
<path d="M214.59,270.71L216.99,275.33L212.19,275.33Z" fill="#111"/>
<path d="M217.31,271.03L219.71,275.65L214.91,275.65Z" fill="#111"/>
<path d="M220.04,271.34L222.44,275.96L217.64,275.96Z" fill="#111"/>
<path d="M222.76,271.67L225.16,276.29L220.36,276.29Z" fill="#111"/>
<path d="M225.49,272.01L227.89,276.63L223.09,276.63Z" fill="#111"/>
<path d="M228.21,272.36L230.61,276.98L225.81,276.98Z" fill="#111"/>
<path d="M230.94,272.71L233.34,277.33L228.54,277.33Z" fill="#111"/>
<path d="M233.66,273.07L236.06,277.69L231.26,277.69Z" fill="#111"/>
<path d="M236.39,273.46L238.79,278.08L233.99,278.08Z" fill="#111"/>
<path d="M239.11,273.85L241.51,278.47L236.71,278.47Z" fill="#111"/>
<path d="M241.84,274.20L244.24,278.82L239.44,278.82Z" fill="#111"/>
<path d="M244.56,274.55L246.96,279.17L242.16,279.17Z" fill="#111"/>
<path d="M247.29,274.89L249.69,279.51L244.89,279.51Z" fill="#111"/>
<path d="M250.01,275.16L252.41,279.78L247.61,279.78Z" fill="#111"/>
<polyline points="94.69,305.12 97.42,305.08 100.14,304.97 102.87,304.78 105.59,304.15 108.32,302.31 111.04,299.76 113.77,298.14 116.49,297.50 119.22,297.41 121.94,297.40 124.67,297.42 127.39,297.44 130.12,297.46 132.84,297.48 135.57,297.50 138.29,297.53 141.02,297.55 143.74,297.57 146.47,297.60 149.19,297.62 151.92,297.64 154.64,297.67 157.37,297.69 160.09,297.71 162.82,297.73 165.54,297.75 168.27,297.77 170.99,297.79 173.72,297.81 176.44,297.83 179.17,297.85 181.89,297.87 184.62,297.90 187.34,297.93 190.06,297.96 192.79,297.99 195.51,298.02 198.24,298.06 200.96,298.10 203.69,298.14 206.41,298.18 209.14,298.22 211.86,298.27 214.59,298.31 217.31,298.37 220.04,298.42 222.76,298.48 225.49,298.54 228.21,298.61 230.94,298.70 233.66,298.80 236.39,298.90 239.11,299.00 241.84,299.09 244.56,299.18 247.29,299.26 250.01,299.32" fill="none" stroke="#111" stroke-width="1.1" stroke-linejoin="round"/>
<path d="M94.69,302.92L96.90,305.12L94.69,307.33L92.48,305.12Z" fill="#fff" stroke="#111" stroke-width="1.1"/>
<path d="M97.42,302.87L99.63,305.08L97.42,307.29L95.21,305.08Z" fill="#fff" stroke="#111" stroke-width="1.1"/>
<path d="M100.14,302.76L102.35,304.97L100.14,307.18L97.93,304.97Z" fill="#fff" stroke="#111" stroke-width="1.1"/>
<path d="M102.87,302.57L105.08,304.78L102.87,306.99L100.66,304.78Z" fill="#fff" stroke="#111" stroke-width="1.1"/>
<path d="M105.59,301.94L107.80,304.15L105.59,306.36L103.38,304.15Z" fill="#fff" stroke="#111" stroke-width="1.1"/>
<path d="M108.32,300.10L110.53,302.31L108.32,304.52L106.11,302.31Z" fill="#fff" stroke="#111" stroke-width="1.1"/>
<path d="M111.04,297.55L113.25,299.76L111.04,301.97L108.83,299.76Z" fill="#fff" stroke="#111" stroke-width="1.1"/>
<path d="M113.77,295.93L115.98,298.14L113.77,300.35L111.56,298.14Z" fill="#fff" stroke="#111" stroke-width="1.1"/>
<path d="M116.49,295.29L118.70,297.50L116.49,299.71L114.28,297.50Z" fill="#fff" stroke="#111" stroke-width="1.1"/>
<path d="M119.22,295.20L121.43,297.41L119.22,299.62L117.01,297.41Z" fill="#fff" stroke="#111" stroke-width="1.1"/>
<path d="M121.94,295.19L124.15,297.40L121.94,299.61L119.73,297.40Z" fill="#fff" stroke="#111" stroke-width="1.1"/>
<path d="M124.67,295.21L126.88,297.42L124.67,299.63L122.46,297.42Z" fill="#fff" stroke="#111" stroke-width="1.1"/>
<path d="M127.39,295.23L129.60,297.44L127.39,299.65L125.18,297.44Z" fill="#fff" stroke="#111" stroke-width="1.1"/>
<path d="M130.12,295.25L132.33,297.46L130.12,299.67L127.91,297.46Z" fill="#fff" stroke="#111" stroke-width="1.1"/>
<path d="M132.84,295.27L135.05,297.48L132.84,299.69L130.63,297.48Z" fill="#fff" stroke="#111" stroke-width="1.1"/>
<path d="M135.57,295.29L137.78,297.50L135.57,299.71L133.36,297.50Z" fill="#fff" stroke="#111" stroke-width="1.1"/>
<path d="M138.29,295.32L140.50,297.53L138.29,299.74L136.08,297.53Z" fill="#fff" stroke="#111" stroke-width="1.1"/>
<path d="M141.02,295.34L143.23,297.55L141.02,299.76L138.81,297.55Z" fill="#fff" stroke="#111" stroke-width="1.1"/>
<path d="M143.74,295.36L145.95,297.57L143.74,299.78L141.53,297.57Z" fill="#fff" stroke="#111" stroke-width="1.1"/>
<path d="M146.47,295.39L148.68,297.60L146.47,299.81L144.26,297.60Z" fill="#fff" stroke="#111" stroke-width="1.1"/>
<path d="M149.19,295.41L151.40,297.62L149.19,299.83L146.98,297.62Z" fill="#fff" stroke="#111" stroke-width="1.1"/>
<path d="M151.92,295.43L154.13,297.64L151.92,299.85L149.71,297.64Z" fill="#fff" stroke="#111" stroke-width="1.1"/>
<path d="M154.64,295.46L156.85,297.67L154.64,299.88L152.43,297.67Z" fill="#fff" stroke="#111" stroke-width="1.1"/>
<path d="M157.37,295.48L159.58,297.69L157.37,299.90L155.16,297.69Z" fill="#fff" stroke="#111" stroke-width="1.1"/>
<path d="M160.09,295.50L162.30,297.71L160.09,299.92L157.88,297.71Z" fill="#fff" stroke="#111" stroke-width="1.1"/>
<path d="M162.82,295.52L165.03,297.73L162.82,299.94L160.61,297.73Z" fill="#fff" stroke="#111" stroke-width="1.1"/>
<path d="M165.54,295.54L167.75,297.75L165.54,299.96L163.33,297.75Z" fill="#fff" stroke="#111" stroke-width="1.1"/>
<path d="M168.27,295.56L170.48,297.77L168.27,299.98L166.06,297.77Z" fill="#fff" stroke="#111" stroke-width="1.1"/>
<path d="M170.99,295.58L173.20,297.79L170.99,300.00L168.78,297.79Z" fill="#fff" stroke="#111" stroke-width="1.1"/>
<path d="M173.72,295.60L175.93,297.81L173.72,300.02L171.51,297.81Z" fill="#fff" stroke="#111" stroke-width="1.1"/>
<path d="M176.44,295.62L178.65,297.83L176.44,300.04L174.23,297.83Z" fill="#fff" stroke="#111" stroke-width="1.1"/>
<path d="M179.17,295.64L181.38,297.85L179.17,300.06L176.96,297.85Z" fill="#fff" stroke="#111" stroke-width="1.1"/>
<path d="M181.89,295.66L184.10,297.87L181.89,300.08L179.68,297.87Z" fill="#fff" stroke="#111" stroke-width="1.1"/>
<path d="M184.62,295.69L186.83,297.90L184.62,300.11L182.41,297.90Z" fill="#fff" stroke="#111" stroke-width="1.1"/>
<path d="M187.34,295.72L189.55,297.93L187.34,300.14L185.13,297.93Z" fill="#fff" stroke="#111" stroke-width="1.1"/>
<path d="M190.06,295.75L192.27,297.96L190.06,300.17L187.85,297.96Z" fill="#fff" stroke="#111" stroke-width="1.1"/>
<path d="M192.79,295.78L195.00,297.99L192.79,300.20L190.58,297.99Z" fill="#fff" stroke="#111" stroke-width="1.1"/>
<path d="M195.51,295.81L197.72,298.02L195.51,300.23L193.30,298.02Z" fill="#fff" stroke="#111" stroke-width="1.1"/>
<path d="M198.24,295.85L200.45,298.06L198.24,300.27L196.03,298.06Z" fill="#fff" stroke="#111" stroke-width="1.1"/>
<path d="M200.96,295.89L203.17,298.10L200.96,300.31L198.75,298.10Z" fill="#fff" stroke="#111" stroke-width="1.1"/>
<path d="M203.69,295.93L205.90,298.14L203.69,300.35L201.48,298.14Z" fill="#fff" stroke="#111" stroke-width="1.1"/>
<path d="M206.41,295.97L208.62,298.18L206.41,300.39L204.20,298.18Z" fill="#fff" stroke="#111" stroke-width="1.1"/>
<path d="M209.14,296.01L211.35,298.22L209.14,300.43L206.93,298.22Z" fill="#fff" stroke="#111" stroke-width="1.1"/>
<path d="M211.86,296.06L214.07,298.27L211.86,300.48L209.65,298.27Z" fill="#fff" stroke="#111" stroke-width="1.1"/>
<path d="M214.59,296.10L216.80,298.31L214.59,300.52L212.38,298.31Z" fill="#fff" stroke="#111" stroke-width="1.1"/>
<path d="M217.31,296.16L219.52,298.37L217.31,300.58L215.10,298.37Z" fill="#fff" stroke="#111" stroke-width="1.1"/>
<path d="M220.04,296.21L222.25,298.42L220.04,300.63L217.83,298.42Z" fill="#fff" stroke="#111" stroke-width="1.1"/>
<path d="M222.76,296.27L224.97,298.48L222.76,300.69L220.55,298.48Z" fill="#fff" stroke="#111" stroke-width="1.1"/>
<path d="M225.49,296.33L227.70,298.54L225.49,300.75L223.28,298.54Z" fill="#fff" stroke="#111" stroke-width="1.1"/>
<path d="M228.21,296.40L230.42,298.61L228.21,300.82L226.00,298.61Z" fill="#fff" stroke="#111" stroke-width="1.1"/>
<path d="M230.94,296.49L233.15,298.70L230.94,300.91L228.73,298.70Z" fill="#fff" stroke="#111" stroke-width="1.1"/>
<path d="M233.66,296.59L235.87,298.80L233.66,301.01L231.45,298.80Z" fill="#fff" stroke="#111" stroke-width="1.1"/>
<path d="M236.39,296.69L238.60,298.90L236.39,301.11L234.18,298.90Z" fill="#fff" stroke="#111" stroke-width="1.1"/>
<path d="M239.11,296.79L241.32,299.00L239.11,301.21L236.90,299.00Z" fill="#fff" stroke="#111" stroke-width="1.1"/>
<path d="M241.84,296.88L244.05,299.09L241.84,301.30L239.63,299.09Z" fill="#fff" stroke="#111" stroke-width="1.1"/>
<path d="M244.56,296.97L246.77,299.18L244.56,301.39L242.35,299.18Z" fill="#fff" stroke="#111" stroke-width="1.1"/>
<path d="M247.29,297.05L249.50,299.26L247.29,301.47L245.08,299.26Z" fill="#fff" stroke="#111" stroke-width="1.1"/>
<path d="M250.01,297.11L252.22,299.32L250.01,301.53L247.80,299.32Z" fill="#fff" stroke="#111" stroke-width="1.1"/>
<line x1="119.22" y1="277.62" x2="119.22" y2="282.02" stroke="#111" stroke-width="1.15"/>
<line x1="117.62" y1="277.62" x2="120.82" y2="277.62" stroke="#111" stroke-width="1.15"/>
<line x1="121.94" y1="270.05" x2="121.94" y2="274.45" stroke="#111" stroke-width="1.15"/>
<line x1="120.34" y1="270.05" x2="123.54" y2="270.05" stroke="#111" stroke-width="1.15"/>
<line x1="124.67" y1="264.76" x2="124.67" y2="269.16" stroke="#111" stroke-width="1.15"/>
<line x1="123.07" y1="264.76" x2="126.27" y2="264.76" stroke="#111" stroke-width="1.15"/>
<line x1="127.39" y1="260.87" x2="127.39" y2="265.27" stroke="#111" stroke-width="1.15"/>
<line x1="125.79" y1="260.87" x2="128.99" y2="260.87" stroke="#111" stroke-width="1.15"/>
<line x1="130.12" y1="258.87" x2="130.12" y2="263.27" stroke="#111" stroke-width="1.15"/>
<line x1="128.52" y1="258.87" x2="131.72" y2="258.87" stroke="#111" stroke-width="1.15"/>
<line x1="132.84" y1="258.30" x2="132.84" y2="262.70" stroke="#111" stroke-width="1.15"/>
<line x1="131.24" y1="258.30" x2="134.44" y2="258.30" stroke="#111" stroke-width="1.15"/>
<line x1="135.57" y1="258.95" x2="135.57" y2="263.35" stroke="#111" stroke-width="1.15"/>
<line x1="133.97" y1="258.95" x2="137.17" y2="258.95" stroke="#111" stroke-width="1.15"/>
<line x1="138.29" y1="260.21" x2="138.29" y2="264.61" stroke="#111" stroke-width="1.15"/>
<line x1="136.69" y1="260.21" x2="139.89" y2="260.21" stroke="#111" stroke-width="1.15"/>
<line x1="141.02" y1="261.67" x2="141.02" y2="266.07" stroke="#111" stroke-width="1.15"/>
<line x1="139.42" y1="261.67" x2="142.62" y2="261.67" stroke="#111" stroke-width="1.15"/>
<line x1="143.74" y1="263.18" x2="143.74" y2="267.58" stroke="#111" stroke-width="1.15"/>
<line x1="142.14" y1="263.18" x2="145.34" y2="263.18" stroke="#111" stroke-width="1.15"/>
<line x1="146.47" y1="264.75" x2="146.47" y2="269.15" stroke="#111" stroke-width="1.15"/>
<line x1="144.87" y1="264.75" x2="148.07" y2="264.75" stroke="#111" stroke-width="1.15"/>
<line x1="149.19" y1="266.39" x2="149.19" y2="270.79" stroke="#111" stroke-width="1.15"/>
<line x1="147.59" y1="266.39" x2="150.79" y2="266.39" stroke="#111" stroke-width="1.15"/>
<line x1="151.92" y1="270.33" x2="151.92" y2="272.53" stroke="#111" stroke-width="1.15"/>
<line x1="150.32" y1="270.33" x2="153.52" y2="270.33" stroke="#111" stroke-width="1.15"/>
<line x1="154.64" y1="272.16" x2="154.64" y2="274.36" stroke="#111" stroke-width="1.15"/>
<line x1="153.04" y1="272.16" x2="156.24" y2="272.16" stroke="#111" stroke-width="1.15"/>
<line x1="157.37" y1="274.08" x2="157.37" y2="276.28" stroke="#111" stroke-width="1.15"/>
<line x1="155.77" y1="274.08" x2="158.97" y2="274.08" stroke="#111" stroke-width="1.15"/>
<line x1="160.09" y1="276.31" x2="160.09" y2="278.51" stroke="#111" stroke-width="1.15"/>
<line x1="158.49" y1="276.31" x2="161.69" y2="276.31" stroke="#111" stroke-width="1.15"/>
<line x1="162.82" y1="278.57" x2="162.82" y2="280.77" stroke="#111" stroke-width="1.15"/>
<line x1="161.22" y1="278.57" x2="164.42" y2="278.57" stroke="#111" stroke-width="1.15"/>
<line x1="165.54" y1="279.72" x2="165.54" y2="281.92" stroke="#111" stroke-width="1.15"/>
<line x1="163.94" y1="279.72" x2="167.14" y2="279.72" stroke="#111" stroke-width="1.15"/>
<line x1="168.27" y1="280.35" x2="168.27" y2="282.55" stroke="#111" stroke-width="1.15"/>
<line x1="166.67" y1="280.35" x2="169.87" y2="280.35" stroke="#111" stroke-width="1.15"/>
<line x1="170.99" y1="280.79" x2="170.99" y2="282.99" stroke="#111" stroke-width="1.15"/>
<line x1="169.39" y1="280.79" x2="172.59" y2="280.79" stroke="#111" stroke-width="1.15"/>
<line x1="173.72" y1="281.07" x2="173.72" y2="283.27" stroke="#111" stroke-width="1.15"/>
<line x1="172.12" y1="281.07" x2="175.32" y2="281.07" stroke="#111" stroke-width="1.15"/>
<line x1="176.44" y1="281.35" x2="176.44" y2="283.55" stroke="#111" stroke-width="1.15"/>
<line x1="174.84" y1="281.35" x2="178.04" y2="281.35" stroke="#111" stroke-width="1.15"/>
<line x1="179.17" y1="281.63" x2="179.17" y2="283.83" stroke="#111" stroke-width="1.15"/>
<line x1="177.57" y1="281.63" x2="180.77" y2="281.63" stroke="#111" stroke-width="1.15"/>
<line x1="181.89" y1="281.90" x2="181.89" y2="284.10" stroke="#111" stroke-width="1.15"/>
<line x1="180.29" y1="281.90" x2="183.49" y2="281.90" stroke="#111" stroke-width="1.15"/>
<line x1="184.62" y1="282.16" x2="184.62" y2="284.36" stroke="#111" stroke-width="1.15"/>
<line x1="183.02" y1="282.16" x2="186.22" y2="282.16" stroke="#111" stroke-width="1.15"/>
<line x1="187.34" y1="282.43" x2="187.34" y2="284.63" stroke="#111" stroke-width="1.15"/>
<line x1="185.74" y1="282.43" x2="188.94" y2="282.43" stroke="#111" stroke-width="1.15"/>
<line x1="190.06" y1="282.69" x2="190.06" y2="284.89" stroke="#111" stroke-width="1.15"/>
<line x1="188.46" y1="282.69" x2="191.66" y2="282.69" stroke="#111" stroke-width="1.15"/>
<line x1="192.79" y1="281.31" x2="192.79" y2="285.16" stroke="#111" stroke-width="1.15"/>
<line x1="191.19" y1="281.31" x2="194.39" y2="281.31" stroke="#111" stroke-width="1.15"/>
<line x1="195.51" y1="281.58" x2="195.51" y2="285.43" stroke="#111" stroke-width="1.15"/>
<line x1="193.91" y1="281.58" x2="197.11" y2="281.58" stroke="#111" stroke-width="1.15"/>
<line x1="198.24" y1="281.85" x2="198.24" y2="285.70" stroke="#111" stroke-width="1.15"/>
<line x1="196.64" y1="281.85" x2="199.84" y2="281.85" stroke="#111" stroke-width="1.15"/>
<line x1="200.96" y1="282.12" x2="200.96" y2="285.97" stroke="#111" stroke-width="1.15"/>
<line x1="199.36" y1="282.12" x2="202.56" y2="282.12" stroke="#111" stroke-width="1.15"/>
<line x1="203.69" y1="282.39" x2="203.69" y2="286.24" stroke="#111" stroke-width="1.15"/>
<line x1="202.09" y1="282.39" x2="205.29" y2="282.39" stroke="#111" stroke-width="1.15"/>
<line x1="206.41" y1="282.67" x2="206.41" y2="286.52" stroke="#111" stroke-width="1.15"/>
<line x1="204.81" y1="282.67" x2="208.01" y2="282.67" stroke="#111" stroke-width="1.15"/>
<line x1="209.14" y1="282.94" x2="209.14" y2="286.79" stroke="#111" stroke-width="1.15"/>
<line x1="207.54" y1="282.94" x2="210.74" y2="282.94" stroke="#111" stroke-width="1.15"/>
<line x1="211.86" y1="283.21" x2="211.86" y2="287.06" stroke="#111" stroke-width="1.15"/>
<line x1="210.26" y1="283.21" x2="213.46" y2="283.21" stroke="#111" stroke-width="1.15"/>
<line x1="214.59" y1="283.48" x2="214.59" y2="287.33" stroke="#111" stroke-width="1.15"/>
<line x1="212.99" y1="283.48" x2="216.19" y2="283.48" stroke="#111" stroke-width="1.15"/>
<line x1="217.31" y1="283.75" x2="217.31" y2="287.60" stroke="#111" stroke-width="1.15"/>
<line x1="215.71" y1="283.75" x2="218.91" y2="283.75" stroke="#111" stroke-width="1.15"/>
<line x1="220.04" y1="284.02" x2="220.04" y2="287.87" stroke="#111" stroke-width="1.15"/>
<line x1="218.44" y1="284.02" x2="221.64" y2="284.02" stroke="#111" stroke-width="1.15"/>
<line x1="222.76" y1="284.29" x2="222.76" y2="288.14" stroke="#111" stroke-width="1.15"/>
<line x1="221.16" y1="284.29" x2="224.36" y2="284.29" stroke="#111" stroke-width="1.15"/>
<line x1="225.49" y1="284.56" x2="225.49" y2="288.41" stroke="#111" stroke-width="1.15"/>
<line x1="223.89" y1="284.56" x2="227.09" y2="284.56" stroke="#111" stroke-width="1.15"/>
<line x1="228.21" y1="284.83" x2="228.21" y2="288.68" stroke="#111" stroke-width="1.15"/>
<line x1="226.61" y1="284.83" x2="229.81" y2="284.83" stroke="#111" stroke-width="1.15"/>
<line x1="230.94" y1="285.09" x2="230.94" y2="288.94" stroke="#111" stroke-width="1.15"/>
<line x1="229.34" y1="285.09" x2="232.54" y2="285.09" stroke="#111" stroke-width="1.15"/>
<line x1="233.66" y1="285.36" x2="233.66" y2="289.21" stroke="#111" stroke-width="1.15"/>
<line x1="232.06" y1="285.36" x2="235.26" y2="285.36" stroke="#111" stroke-width="1.15"/>
<line x1="236.39" y1="285.63" x2="236.39" y2="289.48" stroke="#111" stroke-width="1.15"/>
<line x1="234.79" y1="285.63" x2="237.99" y2="285.63" stroke="#111" stroke-width="1.15"/>
<line x1="239.11" y1="285.91" x2="239.11" y2="289.76" stroke="#111" stroke-width="1.15"/>
<line x1="237.51" y1="285.91" x2="240.71" y2="285.91" stroke="#111" stroke-width="1.15"/>
<line x1="241.84" y1="286.19" x2="241.84" y2="290.04" stroke="#111" stroke-width="1.15"/>
<line x1="240.24" y1="286.19" x2="243.44" y2="286.19" stroke="#111" stroke-width="1.15"/>
<line x1="244.56" y1="286.51" x2="244.56" y2="290.36" stroke="#111" stroke-width="1.15"/>
<line x1="242.96" y1="286.51" x2="246.16" y2="286.51" stroke="#111" stroke-width="1.15"/>
<line x1="247.29" y1="286.86" x2="247.29" y2="290.71" stroke="#111" stroke-width="1.15"/>
<line x1="245.69" y1="286.86" x2="248.89" y2="286.86" stroke="#111" stroke-width="1.15"/>
<line x1="250.01" y1="287.15" x2="250.01" y2="291.00" stroke="#111" stroke-width="1.15"/>
<line x1="248.41" y1="287.15" x2="251.61" y2="287.15" stroke="#111" stroke-width="1.15"/>
<polyline points="94.69,304.85 97.42,304.71 100.14,304.41 102.87,303.76 105.59,302.80 108.32,301.44 111.04,299.58 113.77,296.58 116.49,290.28 119.22,282.02 121.94,274.45 124.67,269.16 127.39,265.27 130.12,263.27 132.84,262.70 135.57,263.35 138.29,264.61 141.02,266.07 143.74,267.58 146.47,269.15 149.19,270.79 151.92,272.53 154.64,274.36 157.37,276.28 160.09,278.51 162.82,280.77 165.54,281.92 168.27,282.55 170.99,282.99 173.72,283.27 176.44,283.55 179.17,283.83 181.89,284.10 184.62,284.36 187.34,284.63 190.06,284.89 192.79,285.16 195.51,285.43 198.24,285.70 200.96,285.97 203.69,286.24 206.41,286.52 209.14,286.79 211.86,287.06 214.59,287.33 217.31,287.60 220.04,287.87 222.76,288.14 225.49,288.41 228.21,288.68 230.94,288.94 233.66,289.21 236.39,289.48 239.11,289.76 241.84,290.04 244.56,290.36 247.29,290.71 250.01,291.00" fill="none" stroke="#111" stroke-width="1.1" stroke-linejoin="round"/>
<rect x="92.74" y="302.90" width="3.90" height="3.90" fill="#fff" stroke="#111" stroke-width="1.1"/>
<rect x="95.47" y="302.76" width="3.90" height="3.90" fill="#fff" stroke="#111" stroke-width="1.1"/>
<rect x="98.19" y="302.46" width="3.90" height="3.90" fill="#fff" stroke="#111" stroke-width="1.1"/>
<rect x="100.92" y="301.81" width="3.90" height="3.90" fill="#fff" stroke="#111" stroke-width="1.1"/>
<rect x="103.64" y="300.85" width="3.90" height="3.90" fill="#fff" stroke="#111" stroke-width="1.1"/>
<rect x="106.37" y="299.49" width="3.90" height="3.90" fill="#fff" stroke="#111" stroke-width="1.1"/>
<rect x="109.09" y="297.63" width="3.90" height="3.90" fill="#fff" stroke="#111" stroke-width="1.1"/>
<rect x="111.82" y="294.63" width="3.90" height="3.90" fill="#fff" stroke="#111" stroke-width="1.1"/>
<rect x="114.54" y="288.33" width="3.90" height="3.90" fill="#fff" stroke="#111" stroke-width="1.1"/>
<rect x="117.27" y="280.07" width="3.90" height="3.90" fill="#fff" stroke="#111" stroke-width="1.1"/>
<rect x="119.99" y="272.50" width="3.90" height="3.90" fill="#fff" stroke="#111" stroke-width="1.1"/>
<rect x="122.72" y="267.21" width="3.90" height="3.90" fill="#fff" stroke="#111" stroke-width="1.1"/>
<rect x="125.44" y="263.32" width="3.90" height="3.90" fill="#fff" stroke="#111" stroke-width="1.1"/>
<rect x="128.17" y="261.32" width="3.90" height="3.90" fill="#fff" stroke="#111" stroke-width="1.1"/>
<rect x="130.89" y="260.75" width="3.90" height="3.90" fill="#fff" stroke="#111" stroke-width="1.1"/>
<rect x="133.62" y="261.40" width="3.90" height="3.90" fill="#fff" stroke="#111" stroke-width="1.1"/>
<rect x="136.34" y="262.66" width="3.90" height="3.90" fill="#fff" stroke="#111" stroke-width="1.1"/>
<rect x="139.07" y="264.12" width="3.90" height="3.90" fill="#fff" stroke="#111" stroke-width="1.1"/>
<rect x="141.79" y="265.63" width="3.90" height="3.90" fill="#fff" stroke="#111" stroke-width="1.1"/>
<rect x="144.52" y="267.20" width="3.90" height="3.90" fill="#fff" stroke="#111" stroke-width="1.1"/>
<rect x="147.24" y="268.84" width="3.90" height="3.90" fill="#fff" stroke="#111" stroke-width="1.1"/>
<rect x="149.97" y="270.58" width="3.90" height="3.90" fill="#fff" stroke="#111" stroke-width="1.1"/>
<rect x="152.69" y="272.41" width="3.90" height="3.90" fill="#fff" stroke="#111" stroke-width="1.1"/>
<rect x="155.42" y="274.33" width="3.90" height="3.90" fill="#fff" stroke="#111" stroke-width="1.1"/>
<rect x="158.14" y="276.56" width="3.90" height="3.90" fill="#fff" stroke="#111" stroke-width="1.1"/>
<rect x="160.87" y="278.82" width="3.90" height="3.90" fill="#fff" stroke="#111" stroke-width="1.1"/>
<rect x="163.59" y="279.97" width="3.90" height="3.90" fill="#fff" stroke="#111" stroke-width="1.1"/>
<rect x="166.32" y="280.60" width="3.90" height="3.90" fill="#fff" stroke="#111" stroke-width="1.1"/>
<rect x="169.04" y="281.04" width="3.90" height="3.90" fill="#fff" stroke="#111" stroke-width="1.1"/>
<rect x="171.77" y="281.32" width="3.90" height="3.90" fill="#fff" stroke="#111" stroke-width="1.1"/>
<rect x="174.49" y="281.60" width="3.90" height="3.90" fill="#fff" stroke="#111" stroke-width="1.1"/>
<rect x="177.22" y="281.88" width="3.90" height="3.90" fill="#fff" stroke="#111" stroke-width="1.1"/>
<rect x="179.94" y="282.15" width="3.90" height="3.90" fill="#fff" stroke="#111" stroke-width="1.1"/>
<rect x="182.67" y="282.41" width="3.90" height="3.90" fill="#fff" stroke="#111" stroke-width="1.1"/>
<rect x="185.39" y="282.68" width="3.90" height="3.90" fill="#fff" stroke="#111" stroke-width="1.1"/>
<rect x="188.11" y="282.94" width="3.90" height="3.90" fill="#fff" stroke="#111" stroke-width="1.1"/>
<rect x="190.84" y="283.21" width="3.90" height="3.90" fill="#fff" stroke="#111" stroke-width="1.1"/>
<rect x="193.56" y="283.48" width="3.90" height="3.90" fill="#fff" stroke="#111" stroke-width="1.1"/>
<rect x="196.29" y="283.75" width="3.90" height="3.90" fill="#fff" stroke="#111" stroke-width="1.1"/>
<rect x="199.01" y="284.02" width="3.90" height="3.90" fill="#fff" stroke="#111" stroke-width="1.1"/>
<rect x="201.74" y="284.29" width="3.90" height="3.90" fill="#fff" stroke="#111" stroke-width="1.1"/>
<rect x="204.46" y="284.57" width="3.90" height="3.90" fill="#fff" stroke="#111" stroke-width="1.1"/>
<rect x="207.19" y="284.84" width="3.90" height="3.90" fill="#fff" stroke="#111" stroke-width="1.1"/>
<rect x="209.91" y="285.11" width="3.90" height="3.90" fill="#fff" stroke="#111" stroke-width="1.1"/>
<rect x="212.64" y="285.38" width="3.90" height="3.90" fill="#fff" stroke="#111" stroke-width="1.1"/>
<rect x="215.36" y="285.65" width="3.90" height="3.90" fill="#fff" stroke="#111" stroke-width="1.1"/>
<rect x="218.09" y="285.92" width="3.90" height="3.90" fill="#fff" stroke="#111" stroke-width="1.1"/>
<rect x="220.81" y="286.19" width="3.90" height="3.90" fill="#fff" stroke="#111" stroke-width="1.1"/>
<rect x="223.54" y="286.46" width="3.90" height="3.90" fill="#fff" stroke="#111" stroke-width="1.1"/>
<rect x="226.26" y="286.73" width="3.90" height="3.90" fill="#fff" stroke="#111" stroke-width="1.1"/>
<rect x="228.99" y="286.99" width="3.90" height="3.90" fill="#fff" stroke="#111" stroke-width="1.1"/>
<rect x="231.71" y="287.26" width="3.90" height="3.90" fill="#fff" stroke="#111" stroke-width="1.1"/>
<rect x="234.44" y="287.53" width="3.90" height="3.90" fill="#fff" stroke="#111" stroke-width="1.1"/>
<rect x="237.16" y="287.81" width="3.90" height="3.90" fill="#fff" stroke="#111" stroke-width="1.1"/>
<rect x="239.89" y="288.09" width="3.90" height="3.90" fill="#fff" stroke="#111" stroke-width="1.1"/>
<rect x="242.61" y="288.41" width="3.90" height="3.90" fill="#fff" stroke="#111" stroke-width="1.1"/>
<rect x="245.34" y="288.76" width="3.90" height="3.90" fill="#fff" stroke="#111" stroke-width="1.1"/>
<rect x="248.06" y="289.05" width="3.90" height="3.90" fill="#fff" stroke="#111" stroke-width="1.1"/>
<line x1="173.70" y1="205.00" x2="187.40" y2="205.00" stroke="#111" stroke-width="1.5"/>
<circle cx="180.50" cy="205.00" r="2.00" fill="#111"/>
<text x="193.20" y="207.90" font-size="10.55" text-anchor="start" font-weight="normal" fill="#111" stroke="#111" stroke-width="0.26">ko - TNF<tspan font-family="Liberation Serif" font-size="11.5">&#945;</tspan></text>
<line x1="173.70" y1="218.00" x2="187.40" y2="218.00" stroke="#111" stroke-width="1.5"/>
<path d="M180.50,215.36L182.90,219.98L178.10,219.98Z" fill="#111"/>
<text x="193.20" y="220.90" font-size="10.55" text-anchor="start" font-weight="normal" fill="#111" stroke="#111" stroke-width="0.26">ko + TNF<tspan font-family="Liberation Serif" font-size="11.5">&#945;</tspan></text>
<line x1="173.70" y1="231.00" x2="187.40" y2="231.00" stroke="#111" stroke-width="1.5"/>
<path d="M180.50,228.79L182.71,231.00L180.50,233.21L178.29,231.00Z" fill="#fff" stroke="#111" stroke-width="1.1"/>
<text x="193.20" y="233.90" font-size="10.55" text-anchor="start" font-weight="normal" fill="#111" stroke="#111" stroke-width="0.26">wt - TNF<tspan font-family="Liberation Serif" font-size="11.5">&#945;</tspan></text>
<line x1="173.70" y1="244.00" x2="187.40" y2="244.00" stroke="#111" stroke-width="1.5"/>
<rect x="178.65" y="242.15" width="3.70" height="3.70" fill="#fff" stroke="#111" stroke-width="1.1"/>
<text x="193.20" y="246.90" font-size="10.55" text-anchor="start" font-weight="normal" fill="#111" stroke="#111" stroke-width="0.26">wt + TNF<tspan font-family="Liberation Serif" font-size="11.5">&#945;</tspan></text>
<line x1="383.10" y1="293.26" x2="383.10" y2="294.06" stroke="#111" stroke-width="1.4"/>
<line x1="378.10" y1="293.26" x2="388.10" y2="293.26" stroke="#111" stroke-width="1.4"/>
<rect x="373.70" y="294.96" width="18.80" height="9.84" fill="#fff" stroke="#111" stroke-width="1.8"/>
<line x1="412.92" y1="250.93" x2="412.92" y2="258.76" stroke="#111" stroke-width="1.4"/>
<line x1="407.42" y1="250.93" x2="418.42" y2="250.93" stroke="#111" stroke-width="1.4"/>
<rect x="403.25" y="259.66" width="19.35" height="45.14" fill="#9a9a9a" stroke="#111" stroke-width="1.8"/>
<line x1="461.85" y1="258.47" x2="461.85" y2="261.16" stroke="#111" stroke-width="1.4"/>
<line x1="456.68" y1="258.47" x2="467.03" y2="258.47" stroke="#111" stroke-width="1.4"/>
<rect x="452.10" y="262.06" width="19.50" height="42.74" fill="#fff" stroke="#111" stroke-width="1.8"/>
<line x1="491.40" y1="218.45" x2="491.40" y2="228.98" stroke="#111" stroke-width="1.4"/>
<line x1="486.20" y1="218.45" x2="496.60" y2="218.45" stroke="#111" stroke-width="1.4"/>
<rect x="481.90" y="229.88" width="19.00" height="74.92" fill="#9a9a9a" stroke="#111" stroke-width="1.8"/>
<line x1="358.85" y1="198.70" x2="358.85" y2="305.70" stroke="#111" stroke-width="1.7"/>
<line x1="358.85" y1="304.80" x2="514.80" y2="304.80" stroke="#111" stroke-width="1.8"/>
<line x1="355.05" y1="304.80" x2="358.85" y2="304.80" stroke="#111" stroke-width="1.5"/>
<text x="354.25" y="307.90" font-size="8.6" text-anchor="end" font-weight="normal" fill="#111" stroke="#111" stroke-width="0.15">0</text>
<line x1="355.05" y1="283.74" x2="358.85" y2="283.74" stroke="#111" stroke-width="1.5"/>
<text x="354.25" y="286.84" font-size="8.6" text-anchor="end" font-weight="normal" fill="#111" stroke="#111" stroke-width="0.15">50</text>
<line x1="355.05" y1="262.68" x2="358.85" y2="262.68" stroke="#111" stroke-width="1.5"/>
<text x="354.25" y="265.78" font-size="8.6" text-anchor="end" font-weight="normal" fill="#111" stroke="#111" stroke-width="0.15">100</text>
<line x1="355.05" y1="241.62" x2="358.85" y2="241.62" stroke="#111" stroke-width="1.5"/>
<text x="354.25" y="244.72" font-size="8.6" text-anchor="end" font-weight="normal" fill="#111" stroke="#111" stroke-width="0.15">150</text>
<line x1="355.05" y1="220.56" x2="358.85" y2="220.56" stroke="#111" stroke-width="1.5"/>
<text x="354.25" y="223.66" font-size="8.6" text-anchor="end" font-weight="normal" fill="#111" stroke="#111" stroke-width="0.15">200</text>
<line x1="355.05" y1="199.50" x2="358.85" y2="199.50" stroke="#111" stroke-width="1.5"/>
<text x="354.25" y="202.60" font-size="8.6" text-anchor="end" font-weight="normal" fill="#111" stroke="#111" stroke-width="0.15">250</text>
<line x1="398.00" y1="304.80" x2="398.00" y2="308.80" stroke="#111" stroke-width="1.4"/>
<text x="398.00" y="317.00" font-size="8.6" text-anchor="middle" font-weight="normal" fill="#111" stroke="#111" stroke-width="0.15">pRGD - TNF</text>
<line x1="476.40" y1="304.80" x2="476.40" y2="308.80" stroke="#111" stroke-width="1.4"/>
<text x="476.40" y="317.00" font-size="8.6" text-anchor="middle" font-weight="normal" fill="#111" stroke="#111" stroke-width="0.15">pRGD + TNF</text>
<text x="373.10" y="214.30" font-size="9.5" text-anchor="start" font-weight="normal" fill="#111" stroke="#111" stroke-width="0.15">Genotype p&lt;0.0001</text>
<text x="373.10" y="226.10" font-size="9.5" text-anchor="start" font-weight="normal" fill="#111" stroke="#111" stroke-width="0.15">Activation p=0.0002</text>
<text transform="translate(330.6,250.00) rotate(-90) scale(0.95,1)" font-size="10.4" text-anchor="middle" fill="#111" stroke="#111" stroke-width="0.2">ROS [% wt response]</text>
<line x1="95.30" y1="362.90" x2="95.30" y2="473.30" stroke="#111" stroke-width="1.7"/>
<line x1="95.30" y1="472.50" x2="257.00" y2="472.50" stroke="#111" stroke-width="1.7"/>
<line x1="91.30" y1="472.50" x2="95.30" y2="472.50" stroke="#111" stroke-width="1.5"/>
<text x="90.70" y="476.80" font-size="10.3" text-anchor="end" font-weight="normal" fill="#111" stroke="#111" stroke-width="0.26">0</text>
<line x1="91.30" y1="445.30" x2="95.30" y2="445.30" stroke="#111" stroke-width="1.5"/>
<text x="90.70" y="449.60" font-size="10.3" text-anchor="end" font-weight="normal" fill="#111" stroke="#111" stroke-width="0.26">10</text>
<line x1="91.30" y1="418.10" x2="95.30" y2="418.10" stroke="#111" stroke-width="1.5"/>
<text x="90.70" y="422.40" font-size="10.3" text-anchor="end" font-weight="normal" fill="#111" stroke="#111" stroke-width="0.26">20</text>
<line x1="91.30" y1="390.90" x2="95.30" y2="390.90" stroke="#111" stroke-width="1.5"/>
<text x="90.70" y="395.20" font-size="10.3" text-anchor="end" font-weight="normal" fill="#111" stroke="#111" stroke-width="0.26">30</text>
<line x1="91.30" y1="363.70" x2="95.30" y2="363.70" stroke="#111" stroke-width="1.5"/>
<text x="90.70" y="368.00" font-size="10.3" text-anchor="end" font-weight="normal" fill="#111" stroke="#111" stroke-width="0.26">40</text>
<line x1="126.80" y1="472.50" x2="126.80" y2="476.30" stroke="#111" stroke-width="1.5"/>
<text x="126.80" y="487.70" font-size="10.3" text-anchor="middle" font-weight="normal" fill="#111" stroke="#111" stroke-width="0.26">10</text>
<line x1="159.70" y1="472.50" x2="159.70" y2="476.30" stroke="#111" stroke-width="1.5"/>
<text x="159.70" y="487.70" font-size="10.3" text-anchor="middle" font-weight="normal" fill="#111" stroke="#111" stroke-width="0.26">20</text>
<line x1="192.60" y1="472.50" x2="192.60" y2="476.30" stroke="#111" stroke-width="1.5"/>
<text x="192.60" y="487.70" font-size="10.3" text-anchor="middle" font-weight="normal" fill="#111" stroke="#111" stroke-width="0.26">30</text>
<line x1="225.50" y1="472.50" x2="225.50" y2="476.30" stroke="#111" stroke-width="1.5"/>
<text x="225.50" y="487.70" font-size="10.3" text-anchor="middle" font-weight="normal" fill="#111" stroke="#111" stroke-width="0.26">40</text>
<text x="176.20" y="499.00" font-size="10.3" text-anchor="middle" font-weight="normal" fill="#111" stroke="#111" stroke-width="0.26">Time [min]</text>
<text transform="translate(52.40,415.00) rotate(-90)" font-size="10.506" text-anchor="middle" font-weight="normal" fill="#111" stroke="#111" stroke-width="0.26">ROS production</text>
<text transform="translate(66.3,415.0) rotate(-90)" font-size="10.51" text-anchor="middle" fill="#111" stroke="#111" stroke-width="0.26">[RLU x 10<tspan font-size="8.40" dy="-4.73">-3</tspan><tspan dy="4.73">/sec]</tspan></text>
<polyline points="96.60,471.96 99.30,471.95 101.99,471.96 104.69,471.97 107.39,471.99 110.09,471.99 112.78,471.99 115.48,471.96 118.18,471.90 120.88,471.81 123.58,471.68 126.27,471.23 128.97,470.42 131.67,469.47 134.37,468.33 137.06,467.19 139.76,466.29 142.46,465.71 145.16,465.29 147.86,464.97 150.55,464.66 153.25,464.32 155.95,463.94 158.65,463.56 161.35,463.20 164.04,462.84 166.74,462.50 169.44,462.16 172.14,461.83 174.83,461.50 177.53,461.19 180.23,460.88 182.93,460.59 185.63,460.30 188.32,460.02 191.02,459.76 193.72,459.49 196.42,459.22 199.11,458.91 201.81,458.57 204.51,458.21 207.21,457.82 209.91,457.40 212.60,456.94 215.30,456.44 218.00,455.92 220.70,455.40 223.39,454.90 226.09,454.45 228.79,454.04 231.49,453.65 234.19,453.28 236.88,452.93 239.58,452.59 242.28,452.25 244.98,451.92 247.67,451.61 250.37,451.37" fill="none" stroke="#111" stroke-width="1.3" stroke-linejoin="round"/>
<circle cx="96.60" cy="471.96" r="2.10" fill="#111"/>
<circle cx="99.30" cy="471.95" r="2.10" fill="#111"/>
<circle cx="101.99" cy="471.96" r="2.10" fill="#111"/>
<circle cx="104.69" cy="471.97" r="2.10" fill="#111"/>
<circle cx="107.39" cy="471.99" r="2.10" fill="#111"/>
<circle cx="110.09" cy="471.99" r="2.10" fill="#111"/>
<circle cx="112.78" cy="471.99" r="2.10" fill="#111"/>
<circle cx="115.48" cy="471.96" r="2.10" fill="#111"/>
<circle cx="118.18" cy="471.90" r="2.10" fill="#111"/>
<circle cx="120.88" cy="471.81" r="2.10" fill="#111"/>
<circle cx="123.58" cy="471.68" r="2.10" fill="#111"/>
<circle cx="126.27" cy="471.23" r="2.10" fill="#111"/>
<circle cx="128.97" cy="470.42" r="2.10" fill="#111"/>
<circle cx="131.67" cy="469.47" r="2.10" fill="#111"/>
<circle cx="134.37" cy="468.33" r="2.10" fill="#111"/>
<circle cx="137.06" cy="467.19" r="2.10" fill="#111"/>
<circle cx="139.76" cy="466.29" r="2.10" fill="#111"/>
<circle cx="142.46" cy="465.71" r="2.10" fill="#111"/>
<circle cx="145.16" cy="465.29" r="2.10" fill="#111"/>
<circle cx="147.86" cy="464.97" r="2.10" fill="#111"/>
<circle cx="150.55" cy="464.66" r="2.10" fill="#111"/>
<circle cx="153.25" cy="464.32" r="2.10" fill="#111"/>
<circle cx="155.95" cy="463.94" r="2.10" fill="#111"/>
<circle cx="158.65" cy="463.56" r="2.10" fill="#111"/>
<circle cx="161.35" cy="463.20" r="2.10" fill="#111"/>
<circle cx="164.04" cy="462.84" r="2.10" fill="#111"/>
<circle cx="166.74" cy="462.50" r="2.10" fill="#111"/>
<circle cx="169.44" cy="462.16" r="2.10" fill="#111"/>
<circle cx="172.14" cy="461.83" r="2.10" fill="#111"/>
<circle cx="174.83" cy="461.50" r="2.10" fill="#111"/>
<circle cx="177.53" cy="461.19" r="2.10" fill="#111"/>
<circle cx="180.23" cy="460.88" r="2.10" fill="#111"/>
<circle cx="182.93" cy="460.59" r="2.10" fill="#111"/>
<circle cx="185.63" cy="460.30" r="2.10" fill="#111"/>
<circle cx="188.32" cy="460.02" r="2.10" fill="#111"/>
<circle cx="191.02" cy="459.76" r="2.10" fill="#111"/>
<circle cx="193.72" cy="459.49" r="2.10" fill="#111"/>
<circle cx="196.42" cy="459.22" r="2.10" fill="#111"/>
<circle cx="199.11" cy="458.91" r="2.10" fill="#111"/>
<circle cx="201.81" cy="458.57" r="2.10" fill="#111"/>
<circle cx="204.51" cy="458.21" r="2.10" fill="#111"/>
<circle cx="207.21" cy="457.82" r="2.10" fill="#111"/>
<circle cx="209.91" cy="457.40" r="2.10" fill="#111"/>
<circle cx="212.60" cy="456.94" r="2.10" fill="#111"/>
<circle cx="215.30" cy="456.44" r="2.10" fill="#111"/>
<circle cx="218.00" cy="455.92" r="2.10" fill="#111"/>
<circle cx="220.70" cy="455.40" r="2.10" fill="#111"/>
<circle cx="223.39" cy="454.90" r="2.10" fill="#111"/>
<circle cx="226.09" cy="454.45" r="2.10" fill="#111"/>
<circle cx="228.79" cy="454.04" r="2.10" fill="#111"/>
<circle cx="231.49" cy="453.65" r="2.10" fill="#111"/>
<circle cx="234.19" cy="453.28" r="2.10" fill="#111"/>
<circle cx="236.88" cy="452.93" r="2.10" fill="#111"/>
<circle cx="239.58" cy="452.59" r="2.10" fill="#111"/>
<circle cx="242.28" cy="452.25" r="2.10" fill="#111"/>
<circle cx="244.98" cy="451.92" r="2.10" fill="#111"/>
<circle cx="247.67" cy="451.61" r="2.10" fill="#111"/>
<circle cx="250.37" cy="451.37" r="2.10" fill="#111"/>
<line x1="126.27" y1="454.15" x2="126.27" y2="456.39" stroke="#111" stroke-width="1.3"/>
<line x1="124.17" y1="454.15" x2="128.37" y2="454.15" stroke="#111" stroke-width="1.3"/>
<line x1="128.97" y1="443.92" x2="128.97" y2="448.54" stroke="#111" stroke-width="1.3"/>
<line x1="126.87" y1="443.92" x2="131.07" y2="443.92" stroke="#111" stroke-width="1.3"/>
<line x1="131.67" y1="433.79" x2="131.67" y2="440.73" stroke="#111" stroke-width="1.3"/>
<line x1="129.57" y1="433.79" x2="133.77" y2="433.79" stroke="#111" stroke-width="1.3"/>
<line x1="134.37" y1="424.21" x2="134.37" y2="432.92" stroke="#111" stroke-width="1.3"/>
<line x1="132.27" y1="424.21" x2="136.47" y2="424.21" stroke="#111" stroke-width="1.3"/>
<line x1="137.06" y1="415.25" x2="137.06" y2="425.08" stroke="#111" stroke-width="1.3"/>
<line x1="134.96" y1="415.25" x2="139.16" y2="415.25" stroke="#111" stroke-width="1.3"/>
<line x1="139.76" y1="406.37" x2="139.76" y2="417.17" stroke="#111" stroke-width="1.3"/>
<line x1="137.66" y1="406.37" x2="141.86" y2="406.37" stroke="#111" stroke-width="1.3"/>
<line x1="142.46" y1="401.43" x2="142.46" y2="413.37" stroke="#111" stroke-width="1.3"/>
<line x1="140.36" y1="401.43" x2="144.56" y2="401.43" stroke="#111" stroke-width="1.3"/>
<line x1="145.16" y1="398.30" x2="145.16" y2="411.37" stroke="#111" stroke-width="1.3"/>
<line x1="143.06" y1="398.30" x2="147.26" y2="398.30" stroke="#111" stroke-width="1.3"/>
<line x1="147.86" y1="396.24" x2="147.86" y2="410.31" stroke="#111" stroke-width="1.3"/>
<line x1="145.76" y1="396.24" x2="149.96" y2="396.24" stroke="#111" stroke-width="1.3"/>
<line x1="150.55" y1="394.89" x2="150.55" y2="409.86" stroke="#111" stroke-width="1.3"/>
<line x1="148.45" y1="394.89" x2="152.65" y2="394.89" stroke="#111" stroke-width="1.3"/>
<line x1="153.25" y1="394.15" x2="153.25" y2="409.97" stroke="#111" stroke-width="1.3"/>
<line x1="151.15" y1="394.15" x2="155.35" y2="394.15" stroke="#111" stroke-width="1.3"/>
<line x1="155.95" y1="393.73" x2="155.95" y2="410.48" stroke="#111" stroke-width="1.3"/>
<line x1="153.85" y1="393.73" x2="158.05" y2="393.73" stroke="#111" stroke-width="1.3"/>
<line x1="158.65" y1="393.79" x2="158.65" y2="411.33" stroke="#111" stroke-width="1.3"/>
<line x1="156.55" y1="393.79" x2="160.75" y2="393.79" stroke="#111" stroke-width="1.3"/>
<line x1="161.35" y1="395.30" x2="161.35" y2="413.01" stroke="#111" stroke-width="1.3"/>
<line x1="159.25" y1="395.30" x2="163.45" y2="395.30" stroke="#111" stroke-width="1.3"/>
<line x1="164.04" y1="398.09" x2="164.04" y2="415.46" stroke="#111" stroke-width="1.3"/>
<line x1="161.94" y1="398.09" x2="166.14" y2="398.09" stroke="#111" stroke-width="1.3"/>
<line x1="166.74" y1="400.84" x2="166.74" y2="417.59" stroke="#111" stroke-width="1.3"/>
<line x1="164.64" y1="400.84" x2="168.84" y2="400.84" stroke="#111" stroke-width="1.3"/>
<line x1="169.44" y1="403.26" x2="169.44" y2="419.28" stroke="#111" stroke-width="1.3"/>
<line x1="167.34" y1="403.26" x2="171.54" y2="403.26" stroke="#111" stroke-width="1.3"/>
<line x1="172.14" y1="405.64" x2="172.14" y2="420.81" stroke="#111" stroke-width="1.3"/>
<line x1="170.04" y1="405.64" x2="174.24" y2="405.64" stroke="#111" stroke-width="1.3"/>
<line x1="174.83" y1="407.99" x2="174.83" y2="422.15" stroke="#111" stroke-width="1.3"/>
<line x1="172.73" y1="407.99" x2="176.93" y2="407.99" stroke="#111" stroke-width="1.3"/>
<line x1="177.53" y1="410.36" x2="177.53" y2="423.25" stroke="#111" stroke-width="1.3"/>
<line x1="175.43" y1="410.36" x2="179.63" y2="410.36" stroke="#111" stroke-width="1.3"/>
<line x1="180.23" y1="412.92" x2="180.23" y2="424.10" stroke="#111" stroke-width="1.3"/>
<line x1="178.13" y1="412.92" x2="182.33" y2="412.92" stroke="#111" stroke-width="1.3"/>
<line x1="182.93" y1="415.37" x2="182.93" y2="424.76" stroke="#111" stroke-width="1.3"/>
<line x1="180.83" y1="415.37" x2="185.03" y2="415.37" stroke="#111" stroke-width="1.3"/>
<line x1="185.63" y1="417.71" x2="185.63" y2="425.36" stroke="#111" stroke-width="1.3"/>
<line x1="183.53" y1="417.71" x2="187.73" y2="417.71" stroke="#111" stroke-width="1.3"/>
<line x1="188.32" y1="419.85" x2="188.32" y2="425.83" stroke="#111" stroke-width="1.3"/>
<line x1="186.22" y1="419.85" x2="190.42" y2="419.85" stroke="#111" stroke-width="1.3"/>
<line x1="191.02" y1="421.53" x2="191.02" y2="426.13" stroke="#111" stroke-width="1.3"/>
<line x1="188.92" y1="421.53" x2="193.12" y2="421.53" stroke="#111" stroke-width="1.3"/>
<line x1="193.72" y1="423.05" x2="193.72" y2="426.52" stroke="#111" stroke-width="1.3"/>
<line x1="191.62" y1="423.05" x2="195.82" y2="423.05" stroke="#111" stroke-width="1.3"/>
<line x1="196.42" y1="424.71" x2="196.42" y2="427.27" stroke="#111" stroke-width="1.3"/>
<line x1="194.32" y1="424.71" x2="198.52" y2="424.71" stroke="#111" stroke-width="1.3"/>
<line x1="199.11" y1="426.91" x2="199.11" y2="428.74" stroke="#111" stroke-width="1.3"/>
<line x1="197.01" y1="426.91" x2="201.21" y2="426.91" stroke="#111" stroke-width="1.3"/>
<line x1="201.81" y1="429.10" x2="201.81" y2="430.49" stroke="#111" stroke-width="1.3"/>
<line x1="199.71" y1="429.10" x2="203.91" y2="429.10" stroke="#111" stroke-width="1.3"/>
<line x1="204.51" y1="430.77" x2="204.51" y2="432.06" stroke="#111" stroke-width="1.3"/>
<line x1="202.41" y1="430.77" x2="206.61" y2="430.77" stroke="#111" stroke-width="1.3"/>
<line x1="207.21" y1="432.41" x2="207.21" y2="433.63" stroke="#111" stroke-width="1.3"/>
<line x1="205.11" y1="432.41" x2="209.31" y2="432.41" stroke="#111" stroke-width="1.3"/>
<line x1="209.91" y1="433.96" x2="209.91" y2="435.11" stroke="#111" stroke-width="1.3"/>
<line x1="207.81" y1="433.96" x2="212.01" y2="433.96" stroke="#111" stroke-width="1.3"/>
<line x1="212.60" y1="435.36" x2="212.60" y2="436.46" stroke="#111" stroke-width="1.3"/>
<line x1="210.50" y1="435.36" x2="214.70" y2="435.36" stroke="#111" stroke-width="1.3"/>
<line x1="215.30" y1="436.75" x2="215.30" y2="437.79" stroke="#111" stroke-width="1.3"/>
<line x1="213.20" y1="436.75" x2="217.40" y2="436.75" stroke="#111" stroke-width="1.3"/>
<line x1="218.00" y1="438.09" x2="218.00" y2="439.09" stroke="#111" stroke-width="1.3"/>
<line x1="215.90" y1="438.09" x2="220.10" y2="438.09" stroke="#111" stroke-width="1.3"/>
<line x1="220.70" y1="439.36" x2="220.70" y2="440.33" stroke="#111" stroke-width="1.3"/>
<line x1="218.60" y1="439.36" x2="222.80" y2="439.36" stroke="#111" stroke-width="1.3"/>
<line x1="223.39" y1="440.54" x2="223.39" y2="441.48" stroke="#111" stroke-width="1.3"/>
<line x1="221.29" y1="440.54" x2="225.49" y2="440.54" stroke="#111" stroke-width="1.3"/>
<line x1="226.09" y1="441.61" x2="226.09" y2="442.53" stroke="#111" stroke-width="1.3"/>
<line x1="223.99" y1="441.61" x2="228.19" y2="441.61" stroke="#111" stroke-width="1.3"/>
<line x1="228.79" y1="442.53" x2="228.79" y2="443.43" stroke="#111" stroke-width="1.3"/>
<line x1="226.69" y1="442.53" x2="230.89" y2="442.53" stroke="#111" stroke-width="1.3"/>
<line x1="231.49" y1="443.35" x2="231.49" y2="444.24" stroke="#111" stroke-width="1.3"/>
<line x1="229.39" y1="443.35" x2="233.59" y2="443.35" stroke="#111" stroke-width="1.3"/>
<line x1="234.19" y1="444.10" x2="234.19" y2="444.98" stroke="#111" stroke-width="1.3"/>
<line x1="232.09" y1="444.10" x2="236.29" y2="444.10" stroke="#111" stroke-width="1.3"/>
<line x1="236.88" y1="444.83" x2="236.88" y2="445.70" stroke="#111" stroke-width="1.3"/>
<line x1="234.78" y1="444.83" x2="238.98" y2="444.83" stroke="#111" stroke-width="1.3"/>
<line x1="239.58" y1="445.57" x2="239.58" y2="446.44" stroke="#111" stroke-width="1.3"/>
<line x1="237.48" y1="445.57" x2="241.68" y2="445.57" stroke="#111" stroke-width="1.3"/>
<line x1="242.28" y1="446.39" x2="242.28" y2="447.24" stroke="#111" stroke-width="1.3"/>
<line x1="240.18" y1="446.39" x2="244.38" y2="446.39" stroke="#111" stroke-width="1.3"/>
<line x1="244.98" y1="447.34" x2="244.98" y2="448.19" stroke="#111" stroke-width="1.3"/>
<line x1="242.88" y1="447.34" x2="247.08" y2="447.34" stroke="#111" stroke-width="1.3"/>
<line x1="247.67" y1="448.30" x2="247.67" y2="449.14" stroke="#111" stroke-width="1.3"/>
<line x1="245.57" y1="448.30" x2="249.77" y2="448.30" stroke="#111" stroke-width="1.3"/>
<line x1="250.37" y1="449.09" x2="250.37" y2="449.91" stroke="#111" stroke-width="1.3"/>
<line x1="248.27" y1="449.09" x2="252.47" y2="449.09" stroke="#111" stroke-width="1.3"/>
<polyline points="96.60,471.96 99.30,471.95 101.99,471.97 104.69,472.00 107.39,471.99 110.09,471.92 112.78,471.76 115.48,471.51 118.18,470.90 120.88,469.14 123.58,464.19 126.27,456.39 128.97,448.54 131.67,440.73 134.37,432.92 137.06,425.08 139.76,417.17 142.46,413.37 145.16,411.37 147.86,410.31 150.55,409.86 153.25,409.97 155.95,410.48 158.65,411.33 161.35,413.01 164.04,415.46 166.74,417.59 169.44,419.28 172.14,420.81 174.83,422.15 177.53,423.25 180.23,424.10 182.93,424.76 185.63,425.36 188.32,425.83 191.02,426.13 193.72,426.52 196.42,427.27 199.11,428.74 201.81,430.49 204.51,432.06 207.21,433.63 209.91,435.11 212.60,436.46 215.30,437.79 218.00,439.09 220.70,440.33 223.39,441.48 226.09,442.53 228.79,443.43 231.49,444.24 234.19,444.98 236.88,445.70 239.58,446.44 242.28,447.24 244.98,448.19 247.67,449.14 250.37,449.91" fill="none" stroke="#111" stroke-width="1.6" stroke-linejoin="round"/>
<path d="M96.60,469.10L99.20,474.10L94.00,474.10Z" fill="#111"/>
<path d="M99.30,469.09L101.90,474.10L96.70,474.10Z" fill="#111"/>
<path d="M101.99,469.11L104.59,474.12L99.39,474.12Z" fill="#111"/>
<path d="M104.69,469.14L107.29,474.14L102.09,474.14Z" fill="#111"/>
<path d="M107.39,469.13L109.99,474.13L104.79,474.13Z" fill="#111"/>
<path d="M110.09,469.06L112.69,474.06L107.49,474.06Z" fill="#111"/>
<path d="M112.78,468.90L115.38,473.90L110.18,473.90Z" fill="#111"/>
<path d="M115.48,468.65L118.08,473.65L112.88,473.65Z" fill="#111"/>
<path d="M118.18,468.04L120.78,473.04L115.58,473.04Z" fill="#111"/>
<path d="M120.88,466.28L123.48,471.29L118.28,471.29Z" fill="#111"/>
<path d="M123.58,461.33L126.18,466.33L120.98,466.33Z" fill="#111"/>
<path d="M126.27,453.53L128.87,458.53L123.67,458.53Z" fill="#111"/>
<path d="M128.97,445.68L131.57,450.68L126.37,450.68Z" fill="#111"/>
<path d="M131.67,437.87L134.27,442.88L129.07,442.88Z" fill="#111"/>
<path d="M134.37,430.06L136.97,435.07L131.77,435.07Z" fill="#111"/>
<path d="M137.06,422.22L139.66,427.23L134.46,427.23Z" fill="#111"/>
<path d="M139.76,414.31L142.36,419.31L137.16,419.31Z" fill="#111"/>
<path d="M142.46,410.51L145.06,415.51L139.86,415.51Z" fill="#111"/>
<path d="M145.16,408.51L147.76,413.51L142.56,413.51Z" fill="#111"/>
<path d="M147.86,407.45L150.46,412.46L145.26,412.46Z" fill="#111"/>
<path d="M150.55,407.00L153.15,412.01L147.95,412.01Z" fill="#111"/>
<path d="M153.25,407.11L155.85,412.11L150.65,412.11Z" fill="#111"/>
<path d="M155.95,407.62L158.55,412.63L153.35,412.63Z" fill="#111"/>
<path d="M158.65,408.47L161.25,413.47L156.05,413.47Z" fill="#111"/>
<path d="M161.35,410.15L163.95,415.15L158.75,415.15Z" fill="#111"/>
<path d="M164.04,412.60L166.64,417.61L161.44,417.61Z" fill="#111"/>
<path d="M166.74,414.73L169.34,419.73L164.14,419.73Z" fill="#111"/>
<path d="M169.44,416.42L172.04,421.43L166.84,421.43Z" fill="#111"/>
<path d="M172.14,417.95L174.74,422.96L169.54,422.96Z" fill="#111"/>
<path d="M174.83,419.29L177.43,424.30L172.23,424.30Z" fill="#111"/>
<path d="M177.53,420.39L180.13,425.40L174.93,425.40Z" fill="#111"/>
<path d="M180.23,421.24L182.83,426.24L177.63,426.24Z" fill="#111"/>
<path d="M182.93,421.90L185.53,426.91L180.33,426.91Z" fill="#111"/>
<path d="M185.63,422.50L188.23,427.50L183.03,427.50Z" fill="#111"/>
<path d="M188.32,422.97L190.92,427.98L185.72,427.98Z" fill="#111"/>
<path d="M191.02,423.27L193.62,428.28L188.42,428.28Z" fill="#111"/>
<path d="M193.72,423.66L196.32,428.66L191.12,428.66Z" fill="#111"/>
<path d="M196.42,424.41L199.02,429.42L193.82,429.42Z" fill="#111"/>
<path d="M199.11,425.88L201.71,430.89L196.51,430.89Z" fill="#111"/>
<path d="M201.81,427.63L204.41,432.64L199.21,432.64Z" fill="#111"/>
<path d="M204.51,429.20L207.11,434.21L201.91,434.21Z" fill="#111"/>
<path d="M207.21,430.77L209.81,435.78L204.61,435.78Z" fill="#111"/>
<path d="M209.91,432.25L212.51,437.25L207.31,437.25Z" fill="#111"/>
<path d="M212.60,433.60L215.20,438.60L210.00,438.60Z" fill="#111"/>
<path d="M215.30,434.93L217.90,439.93L212.70,439.93Z" fill="#111"/>
<path d="M218.00,436.23L220.60,441.23L215.40,441.23Z" fill="#111"/>
<path d="M220.70,437.47L223.30,442.47L218.10,442.47Z" fill="#111"/>
<path d="M223.39,438.62L225.99,443.63L220.79,443.63Z" fill="#111"/>
<path d="M226.09,439.67L228.69,444.67L223.49,444.67Z" fill="#111"/>
<path d="M228.79,440.57L231.39,445.58L226.19,445.58Z" fill="#111"/>
<path d="M231.49,441.38L234.09,446.38L228.89,446.38Z" fill="#111"/>
<path d="M234.19,442.12L236.79,447.12L231.59,447.12Z" fill="#111"/>
<path d="M236.88,442.84L239.48,447.84L234.28,447.84Z" fill="#111"/>
<path d="M239.58,443.58L242.18,448.58L236.98,448.58Z" fill="#111"/>
<path d="M242.28,444.38L244.88,449.39L239.68,449.39Z" fill="#111"/>
<path d="M244.98,445.33L247.58,450.33L242.38,450.33Z" fill="#111"/>
<path d="M247.67,446.28L250.27,451.28L245.07,451.28Z" fill="#111"/>
<path d="M250.37,447.05L252.97,452.06L247.77,452.06Z" fill="#111"/>
<polyline points="96.60,471.96 99.30,471.94 101.99,471.93 104.69,471.91 107.39,471.89 110.09,471.87 112.78,471.84 115.48,471.79 118.18,471.74 120.88,471.66 123.58,471.40 126.27,471.16 128.97,471.10 131.67,471.05 134.37,471.01 137.06,470.98 139.76,470.95 142.46,470.93 145.16,470.92 147.86,470.90 150.55,470.89 153.25,470.88 155.95,470.88 158.65,470.87 161.35,470.86 164.04,470.86 166.74,470.85 169.44,470.85 172.14,470.85 174.83,470.85 177.53,470.84 180.23,470.84 182.93,470.84 185.63,470.84 188.32,470.84 191.02,470.84 193.72,470.84 196.42,470.84 199.11,470.84 201.81,470.84 204.51,470.84 207.21,470.84 209.91,470.85 212.60,470.85 215.30,470.85 218.00,470.85 220.70,470.85 223.39,470.85 226.09,470.86 228.79,470.86 231.49,470.86 234.19,470.86 236.88,470.86 239.58,470.86 242.28,470.87 244.98,470.87 247.67,470.87 250.37,470.87" fill="none" stroke="#111" stroke-width="1.1" stroke-linejoin="round"/>
<path d="M96.60,469.84L98.72,471.96L96.60,474.08L94.48,471.96Z" fill="#fff" stroke="#111" stroke-width="1.05"/>
<path d="M99.30,469.82L101.42,471.94L99.30,474.06L97.18,471.94Z" fill="#fff" stroke="#111" stroke-width="1.05"/>
<path d="M101.99,469.81L104.11,471.93L101.99,474.05L99.87,471.93Z" fill="#fff" stroke="#111" stroke-width="1.05"/>
<path d="M104.69,469.79L106.81,471.91L104.69,474.03L102.57,471.91Z" fill="#fff" stroke="#111" stroke-width="1.05"/>
<path d="M107.39,469.77L109.51,471.89L107.39,474.01L105.27,471.89Z" fill="#fff" stroke="#111" stroke-width="1.05"/>
<path d="M110.09,469.75L112.21,471.87L110.09,473.99L107.97,471.87Z" fill="#fff" stroke="#111" stroke-width="1.05"/>
<path d="M112.78,469.72L114.90,471.84L112.78,473.96L110.66,471.84Z" fill="#fff" stroke="#111" stroke-width="1.05"/>
<path d="M115.48,469.67L117.60,471.79L115.48,473.91L113.36,471.79Z" fill="#fff" stroke="#111" stroke-width="1.05"/>
<path d="M118.18,469.62L120.30,471.74L118.18,473.86L116.06,471.74Z" fill="#fff" stroke="#111" stroke-width="1.05"/>
<path d="M120.88,469.54L123.00,471.66L120.88,473.78L118.76,471.66Z" fill="#fff" stroke="#111" stroke-width="1.05"/>
<path d="M123.58,469.28L125.70,471.40L123.58,473.52L121.46,471.40Z" fill="#fff" stroke="#111" stroke-width="1.05"/>
<path d="M126.27,469.04L128.39,471.16L126.27,473.28L124.15,471.16Z" fill="#fff" stroke="#111" stroke-width="1.05"/>
<path d="M128.97,468.98L131.09,471.10L128.97,473.22L126.85,471.10Z" fill="#fff" stroke="#111" stroke-width="1.05"/>
<path d="M131.67,468.93L133.79,471.05L131.67,473.17L129.55,471.05Z" fill="#fff" stroke="#111" stroke-width="1.05"/>
<path d="M134.37,468.89L136.49,471.01L134.37,473.13L132.25,471.01Z" fill="#fff" stroke="#111" stroke-width="1.05"/>
<path d="M137.06,468.86L139.18,470.98L137.06,473.10L134.94,470.98Z" fill="#fff" stroke="#111" stroke-width="1.05"/>
<path d="M139.76,468.83L141.88,470.95L139.76,473.07L137.64,470.95Z" fill="#fff" stroke="#111" stroke-width="1.05"/>
<path d="M142.46,468.81L144.58,470.93L142.46,473.05L140.34,470.93Z" fill="#fff" stroke="#111" stroke-width="1.05"/>
<path d="M145.16,468.80L147.28,470.92L145.16,473.04L143.04,470.92Z" fill="#fff" stroke="#111" stroke-width="1.05"/>
<path d="M147.86,468.78L149.98,470.90L147.86,473.02L145.74,470.90Z" fill="#fff" stroke="#111" stroke-width="1.05"/>
<path d="M150.55,468.77L152.67,470.89L150.55,473.01L148.43,470.89Z" fill="#fff" stroke="#111" stroke-width="1.05"/>
<path d="M153.25,468.76L155.37,470.88L153.25,473.00L151.13,470.88Z" fill="#fff" stroke="#111" stroke-width="1.05"/>
<path d="M155.95,468.76L158.07,470.88L155.95,473.00L153.83,470.88Z" fill="#fff" stroke="#111" stroke-width="1.05"/>
<path d="M158.65,468.75L160.77,470.87L158.65,472.99L156.53,470.87Z" fill="#fff" stroke="#111" stroke-width="1.05"/>
<path d="M161.35,468.74L163.47,470.86L161.35,472.98L159.23,470.86Z" fill="#fff" stroke="#111" stroke-width="1.05"/>
<path d="M164.04,468.74L166.16,470.86L164.04,472.98L161.92,470.86Z" fill="#fff" stroke="#111" stroke-width="1.05"/>
<path d="M166.74,468.73L168.86,470.85L166.74,472.97L164.62,470.85Z" fill="#fff" stroke="#111" stroke-width="1.05"/>
<path d="M169.44,468.73L171.56,470.85L169.44,472.97L167.32,470.85Z" fill="#fff" stroke="#111" stroke-width="1.05"/>
<path d="M172.14,468.73L174.26,470.85L172.14,472.97L170.02,470.85Z" fill="#fff" stroke="#111" stroke-width="1.05"/>
<path d="M174.83,468.73L176.95,470.85L174.83,472.97L172.71,470.85Z" fill="#fff" stroke="#111" stroke-width="1.05"/>
<path d="M177.53,468.72L179.65,470.84L177.53,472.96L175.41,470.84Z" fill="#fff" stroke="#111" stroke-width="1.05"/>
<path d="M180.23,468.72L182.35,470.84L180.23,472.96L178.11,470.84Z" fill="#fff" stroke="#111" stroke-width="1.05"/>
<path d="M182.93,468.72L185.05,470.84L182.93,472.96L180.81,470.84Z" fill="#fff" stroke="#111" stroke-width="1.05"/>
<path d="M185.63,468.72L187.75,470.84L185.63,472.96L183.51,470.84Z" fill="#fff" stroke="#111" stroke-width="1.05"/>
<path d="M188.32,468.72L190.44,470.84L188.32,472.96L186.20,470.84Z" fill="#fff" stroke="#111" stroke-width="1.05"/>
<path d="M191.02,468.72L193.14,470.84L191.02,472.96L188.90,470.84Z" fill="#fff" stroke="#111" stroke-width="1.05"/>
<path d="M193.72,468.72L195.84,470.84L193.72,472.96L191.60,470.84Z" fill="#fff" stroke="#111" stroke-width="1.05"/>
<path d="M196.42,468.72L198.54,470.84L196.42,472.96L194.30,470.84Z" fill="#fff" stroke="#111" stroke-width="1.05"/>
<path d="M199.11,468.72L201.23,470.84L199.11,472.96L196.99,470.84Z" fill="#fff" stroke="#111" stroke-width="1.05"/>
<path d="M201.81,468.72L203.93,470.84L201.81,472.96L199.69,470.84Z" fill="#fff" stroke="#111" stroke-width="1.05"/>
<path d="M204.51,468.72L206.63,470.84L204.51,472.96L202.39,470.84Z" fill="#fff" stroke="#111" stroke-width="1.05"/>
<path d="M207.21,468.72L209.33,470.84L207.21,472.96L205.09,470.84Z" fill="#fff" stroke="#111" stroke-width="1.05"/>
<path d="M209.91,468.73L212.03,470.85L209.91,472.97L207.79,470.85Z" fill="#fff" stroke="#111" stroke-width="1.05"/>
<path d="M212.60,468.73L214.72,470.85L212.60,472.97L210.48,470.85Z" fill="#fff" stroke="#111" stroke-width="1.05"/>
<path d="M215.30,468.73L217.42,470.85L215.30,472.97L213.18,470.85Z" fill="#fff" stroke="#111" stroke-width="1.05"/>
<path d="M218.00,468.73L220.12,470.85L218.00,472.97L215.88,470.85Z" fill="#fff" stroke="#111" stroke-width="1.05"/>
<path d="M220.70,468.73L222.82,470.85L220.70,472.97L218.58,470.85Z" fill="#fff" stroke="#111" stroke-width="1.05"/>
<path d="M223.39,468.73L225.51,470.85L223.39,472.97L221.27,470.85Z" fill="#fff" stroke="#111" stroke-width="1.05"/>
<path d="M226.09,468.74L228.21,470.86L226.09,472.98L223.97,470.86Z" fill="#fff" stroke="#111" stroke-width="1.05"/>
<path d="M228.79,468.74L230.91,470.86L228.79,472.98L226.67,470.86Z" fill="#fff" stroke="#111" stroke-width="1.05"/>
<path d="M231.49,468.74L233.61,470.86L231.49,472.98L229.37,470.86Z" fill="#fff" stroke="#111" stroke-width="1.05"/>
<path d="M234.19,468.74L236.31,470.86L234.19,472.98L232.07,470.86Z" fill="#fff" stroke="#111" stroke-width="1.05"/>
<path d="M236.88,468.74L239.00,470.86L236.88,472.98L234.76,470.86Z" fill="#fff" stroke="#111" stroke-width="1.05"/>
<path d="M239.58,468.74L241.70,470.86L239.58,472.98L237.46,470.86Z" fill="#fff" stroke="#111" stroke-width="1.05"/>
<path d="M242.28,468.75L244.40,470.87L242.28,472.99L240.16,470.87Z" fill="#fff" stroke="#111" stroke-width="1.05"/>
<path d="M244.98,468.75L247.10,470.87L244.98,472.99L242.86,470.87Z" fill="#fff" stroke="#111" stroke-width="1.05"/>
<path d="M247.67,468.75L249.79,470.87L247.67,472.99L245.55,470.87Z" fill="#fff" stroke="#111" stroke-width="1.05"/>
<path d="M250.37,468.75L252.49,470.87L250.37,472.99L248.25,470.87Z" fill="#fff" stroke="#111" stroke-width="1.05"/>
<line x1="131.67" y1="461.66" x2="131.67" y2="463.29" stroke="#111" stroke-width="1.1"/>
<line x1="130.17" y1="461.66" x2="133.17" y2="461.66" stroke="#111" stroke-width="1.1"/>
<line x1="134.37" y1="459.69" x2="134.37" y2="461.32" stroke="#111" stroke-width="1.1"/>
<line x1="132.87" y1="459.69" x2="135.87" y2="459.69" stroke="#111" stroke-width="1.1"/>
<line x1="137.06" y1="458.36" x2="137.06" y2="460.00" stroke="#111" stroke-width="1.1"/>
<line x1="135.56" y1="458.36" x2="138.56" y2="458.36" stroke="#111" stroke-width="1.1"/>
<line x1="139.76" y1="457.33" x2="139.76" y2="458.97" stroke="#111" stroke-width="1.1"/>
<line x1="138.26" y1="457.33" x2="141.26" y2="457.33" stroke="#111" stroke-width="1.1"/>
<line x1="142.46" y1="456.58" x2="142.46" y2="458.22" stroke="#111" stroke-width="1.1"/>
<line x1="140.96" y1="456.58" x2="143.96" y2="456.58" stroke="#111" stroke-width="1.1"/>
<line x1="145.16" y1="454.19" x2="145.16" y2="457.73" stroke="#111" stroke-width="1.1"/>
<line x1="143.66" y1="454.19" x2="146.66" y2="454.19" stroke="#111" stroke-width="1.1"/>
<line x1="147.86" y1="453.87" x2="147.86" y2="457.41" stroke="#111" stroke-width="1.1"/>
<line x1="146.36" y1="453.87" x2="149.36" y2="453.87" stroke="#111" stroke-width="1.1"/>
<line x1="150.55" y1="453.75" x2="150.55" y2="457.28" stroke="#111" stroke-width="1.1"/>
<line x1="149.05" y1="453.75" x2="152.05" y2="453.75" stroke="#111" stroke-width="1.1"/>
<line x1="153.25" y1="453.73" x2="153.25" y2="457.27" stroke="#111" stroke-width="1.1"/>
<line x1="151.75" y1="453.73" x2="154.75" y2="453.73" stroke="#111" stroke-width="1.1"/>
<line x1="155.95" y1="453.78" x2="155.95" y2="457.32" stroke="#111" stroke-width="1.1"/>
<line x1="154.45" y1="453.78" x2="157.45" y2="453.78" stroke="#111" stroke-width="1.1"/>
<line x1="158.65" y1="453.92" x2="158.65" y2="457.46" stroke="#111" stroke-width="1.1"/>
<line x1="157.15" y1="453.92" x2="160.15" y2="453.92" stroke="#111" stroke-width="1.1"/>
<line x1="161.35" y1="454.18" x2="161.35" y2="457.71" stroke="#111" stroke-width="1.1"/>
<line x1="159.85" y1="454.18" x2="162.85" y2="454.18" stroke="#111" stroke-width="1.1"/>
<line x1="164.04" y1="454.55" x2="164.04" y2="458.08" stroke="#111" stroke-width="1.1"/>
<line x1="162.54" y1="454.55" x2="165.54" y2="454.55" stroke="#111" stroke-width="1.1"/>
<line x1="166.74" y1="454.86" x2="166.74" y2="458.40" stroke="#111" stroke-width="1.1"/>
<line x1="165.24" y1="454.86" x2="168.24" y2="454.86" stroke="#111" stroke-width="1.1"/>
<line x1="169.44" y1="455.11" x2="169.44" y2="458.65" stroke="#111" stroke-width="1.1"/>
<line x1="167.94" y1="455.11" x2="170.94" y2="455.11" stroke="#111" stroke-width="1.1"/>
<line x1="172.14" y1="455.34" x2="172.14" y2="458.88" stroke="#111" stroke-width="1.1"/>
<line x1="170.64" y1="455.34" x2="173.64" y2="455.34" stroke="#111" stroke-width="1.1"/>
<line x1="174.83" y1="455.56" x2="174.83" y2="459.10" stroke="#111" stroke-width="1.1"/>
<line x1="173.33" y1="455.56" x2="176.33" y2="455.56" stroke="#111" stroke-width="1.1"/>
<line x1="177.53" y1="455.77" x2="177.53" y2="459.30" stroke="#111" stroke-width="1.1"/>
<line x1="176.03" y1="455.77" x2="179.03" y2="455.77" stroke="#111" stroke-width="1.1"/>
<line x1="180.23" y1="455.97" x2="180.23" y2="459.50" stroke="#111" stroke-width="1.1"/>
<line x1="178.73" y1="455.97" x2="181.73" y2="455.97" stroke="#111" stroke-width="1.1"/>
<line x1="182.93" y1="456.17" x2="182.93" y2="459.71" stroke="#111" stroke-width="1.1"/>
<line x1="181.43" y1="456.17" x2="184.43" y2="456.17" stroke="#111" stroke-width="1.1"/>
<line x1="185.63" y1="456.37" x2="185.63" y2="459.90" stroke="#111" stroke-width="1.1"/>
<line x1="184.13" y1="456.37" x2="187.13" y2="456.37" stroke="#111" stroke-width="1.1"/>
<line x1="188.32" y1="456.54" x2="188.32" y2="460.08" stroke="#111" stroke-width="1.1"/>
<line x1="186.82" y1="456.54" x2="189.82" y2="456.54" stroke="#111" stroke-width="1.1"/>
<line x1="191.02" y1="456.67" x2="191.02" y2="460.21" stroke="#111" stroke-width="1.1"/>
<line x1="189.52" y1="456.67" x2="192.52" y2="456.67" stroke="#111" stroke-width="1.1"/>
<polyline points="96.60,471.96 99.30,471.95 101.99,471.94 104.69,471.94 107.39,471.93 110.09,471.91 112.78,471.88 115.48,471.83 118.18,471.76 120.88,471.63 123.58,470.83 126.27,468.89 128.97,466.09 131.67,463.29 134.37,461.32 137.06,460.00 139.76,458.97 142.46,458.22 145.16,457.73 147.86,457.41 150.55,457.28 153.25,457.27 155.95,457.32 158.65,457.46 161.35,457.71 164.04,458.08 166.74,458.40 169.44,458.65 172.14,458.88 174.83,459.10 177.53,459.30 180.23,459.50 182.93,459.71 185.63,459.90 188.32,460.08 191.02,460.21 193.72,460.29 196.42,460.34 199.11,460.38 201.81,460.42 204.51,460.44 207.21,460.46 209.91,460.48 212.60,460.49 215.30,460.50 218.00,460.51 220.70,460.51 223.39,460.52 226.09,460.53 228.79,460.54 231.49,460.55 234.19,460.55 236.88,460.55 239.58,460.55 242.28,460.54 244.98,460.54 247.67,460.53 250.37,460.53" fill="none" stroke="#111" stroke-width="1.1" stroke-linejoin="round"/>
<rect x="94.82" y="470.18" width="3.55" height="3.55" fill="#fff" stroke="#111" stroke-width="1.05"/>
<rect x="97.52" y="470.17" width="3.55" height="3.55" fill="#fff" stroke="#111" stroke-width="1.05"/>
<rect x="100.22" y="470.17" width="3.55" height="3.55" fill="#fff" stroke="#111" stroke-width="1.05"/>
<rect x="102.92" y="470.16" width="3.55" height="3.55" fill="#fff" stroke="#111" stroke-width="1.05"/>
<rect x="105.61" y="470.15" width="3.55" height="3.55" fill="#fff" stroke="#111" stroke-width="1.05"/>
<rect x="108.31" y="470.14" width="3.55" height="3.55" fill="#fff" stroke="#111" stroke-width="1.05"/>
<rect x="111.01" y="470.11" width="3.55" height="3.55" fill="#fff" stroke="#111" stroke-width="1.05"/>
<rect x="113.71" y="470.06" width="3.55" height="3.55" fill="#fff" stroke="#111" stroke-width="1.05"/>
<rect x="116.41" y="469.98" width="3.55" height="3.55" fill="#fff" stroke="#111" stroke-width="1.05"/>
<rect x="119.10" y="469.86" width="3.55" height="3.55" fill="#fff" stroke="#111" stroke-width="1.05"/>
<rect x="121.80" y="469.06" width="3.55" height="3.55" fill="#fff" stroke="#111" stroke-width="1.05"/>
<rect x="124.50" y="467.12" width="3.55" height="3.55" fill="#fff" stroke="#111" stroke-width="1.05"/>
<rect x="127.20" y="464.31" width="3.55" height="3.55" fill="#fff" stroke="#111" stroke-width="1.05"/>
<rect x="129.89" y="461.52" width="3.55" height="3.55" fill="#fff" stroke="#111" stroke-width="1.05"/>
<rect x="132.59" y="459.54" width="3.55" height="3.55" fill="#fff" stroke="#111" stroke-width="1.05"/>
<rect x="135.29" y="458.22" width="3.55" height="3.55" fill="#fff" stroke="#111" stroke-width="1.05"/>
<rect x="137.99" y="457.19" width="3.55" height="3.55" fill="#fff" stroke="#111" stroke-width="1.05"/>
<rect x="140.69" y="456.44" width="3.55" height="3.55" fill="#fff" stroke="#111" stroke-width="1.05"/>
<rect x="143.38" y="455.95" width="3.55" height="3.55" fill="#fff" stroke="#111" stroke-width="1.05"/>
<rect x="146.08" y="455.63" width="3.55" height="3.55" fill="#fff" stroke="#111" stroke-width="1.05"/>
<rect x="148.78" y="455.51" width="3.55" height="3.55" fill="#fff" stroke="#111" stroke-width="1.05"/>
<rect x="151.48" y="455.49" width="3.55" height="3.55" fill="#fff" stroke="#111" stroke-width="1.05"/>
<rect x="154.17" y="455.54" width="3.55" height="3.55" fill="#fff" stroke="#111" stroke-width="1.05"/>
<rect x="156.87" y="455.68" width="3.55" height="3.55" fill="#fff" stroke="#111" stroke-width="1.05"/>
<rect x="159.57" y="455.94" width="3.55" height="3.55" fill="#fff" stroke="#111" stroke-width="1.05"/>
<rect x="162.27" y="456.31" width="3.55" height="3.55" fill="#fff" stroke="#111" stroke-width="1.05"/>
<rect x="164.97" y="456.63" width="3.55" height="3.55" fill="#fff" stroke="#111" stroke-width="1.05"/>
<rect x="167.66" y="456.87" width="3.55" height="3.55" fill="#fff" stroke="#111" stroke-width="1.05"/>
<rect x="170.36" y="457.10" width="3.55" height="3.55" fill="#fff" stroke="#111" stroke-width="1.05"/>
<rect x="173.06" y="457.32" width="3.55" height="3.55" fill="#fff" stroke="#111" stroke-width="1.05"/>
<rect x="175.76" y="457.53" width="3.55" height="3.55" fill="#fff" stroke="#111" stroke-width="1.05"/>
<rect x="178.45" y="457.73" width="3.55" height="3.55" fill="#fff" stroke="#111" stroke-width="1.05"/>
<rect x="181.15" y="457.93" width="3.55" height="3.55" fill="#fff" stroke="#111" stroke-width="1.05"/>
<rect x="183.85" y="458.13" width="3.55" height="3.55" fill="#fff" stroke="#111" stroke-width="1.05"/>
<rect x="186.55" y="458.30" width="3.55" height="3.55" fill="#fff" stroke="#111" stroke-width="1.05"/>
<rect x="189.25" y="458.44" width="3.55" height="3.55" fill="#fff" stroke="#111" stroke-width="1.05"/>
<rect x="191.94" y="458.51" width="3.55" height="3.55" fill="#fff" stroke="#111" stroke-width="1.05"/>
<rect x="194.64" y="458.56" width="3.55" height="3.55" fill="#fff" stroke="#111" stroke-width="1.05"/>
<rect x="197.34" y="458.61" width="3.55" height="3.55" fill="#fff" stroke="#111" stroke-width="1.05"/>
<rect x="200.04" y="458.64" width="3.55" height="3.55" fill="#fff" stroke="#111" stroke-width="1.05"/>
<rect x="202.73" y="458.67" width="3.55" height="3.55" fill="#fff" stroke="#111" stroke-width="1.05"/>
<rect x="205.43" y="458.69" width="3.55" height="3.55" fill="#fff" stroke="#111" stroke-width="1.05"/>
<rect x="208.13" y="458.70" width="3.55" height="3.55" fill="#fff" stroke="#111" stroke-width="1.05"/>
<rect x="210.83" y="458.72" width="3.55" height="3.55" fill="#fff" stroke="#111" stroke-width="1.05"/>
<rect x="213.53" y="458.72" width="3.55" height="3.55" fill="#fff" stroke="#111" stroke-width="1.05"/>
<rect x="216.22" y="458.73" width="3.55" height="3.55" fill="#fff" stroke="#111" stroke-width="1.05"/>
<rect x="218.92" y="458.74" width="3.55" height="3.55" fill="#fff" stroke="#111" stroke-width="1.05"/>
<rect x="221.62" y="458.75" width="3.55" height="3.55" fill="#fff" stroke="#111" stroke-width="1.05"/>
<rect x="224.32" y="458.76" width="3.55" height="3.55" fill="#fff" stroke="#111" stroke-width="1.05"/>
<rect x="227.02" y="458.77" width="3.55" height="3.55" fill="#fff" stroke="#111" stroke-width="1.05"/>
<rect x="229.71" y="458.77" width="3.55" height="3.55" fill="#fff" stroke="#111" stroke-width="1.05"/>
<rect x="232.41" y="458.77" width="3.55" height="3.55" fill="#fff" stroke="#111" stroke-width="1.05"/>
<rect x="235.11" y="458.77" width="3.55" height="3.55" fill="#fff" stroke="#111" stroke-width="1.05"/>
<rect x="237.81" y="458.77" width="3.55" height="3.55" fill="#fff" stroke="#111" stroke-width="1.05"/>
<rect x="240.50" y="458.77" width="3.55" height="3.55" fill="#fff" stroke="#111" stroke-width="1.05"/>
<rect x="243.20" y="458.76" width="3.55" height="3.55" fill="#fff" stroke="#111" stroke-width="1.05"/>
<rect x="245.90" y="458.76" width="3.55" height="3.55" fill="#fff" stroke="#111" stroke-width="1.05"/>
<rect x="248.60" y="458.76" width="3.55" height="3.55" fill="#fff" stroke="#111" stroke-width="1.05"/>
<line x1="383.00" y1="459.87" x2="383.00" y2="463.01" stroke="#111" stroke-width="1.4"/>
<line x1="378.15" y1="459.87" x2="387.85" y2="459.87" stroke="#111" stroke-width="1.4"/>
<rect x="373.90" y="463.91" width="18.20" height="7.99" fill="#fff" stroke="#111" stroke-width="1.8"/>
<line x1="412.65" y1="438.43" x2="412.65" y2="441.04" stroke="#111" stroke-width="1.4"/>
<line x1="407.65" y1="438.43" x2="417.65" y2="438.43" stroke="#111" stroke-width="1.4"/>
<rect x="403.30" y="441.94" width="18.70" height="29.96" fill="#9a9a9a" stroke="#111" stroke-width="1.8"/>
<line x1="461.70" y1="443.66" x2="461.70" y2="445.75" stroke="#111" stroke-width="1.4"/>
<line x1="456.45" y1="443.66" x2="466.95" y2="443.66" stroke="#111" stroke-width="1.4"/>
<rect x="451.80" y="446.65" width="19.80" height="25.25" fill="#fff" stroke="#111" stroke-width="1.8"/>
<line x1="491.35" y1="372.53" x2="491.35" y2="390.05" stroke="#111" stroke-width="1.4"/>
<line x1="486.28" y1="372.53" x2="496.43" y2="372.53" stroke="#111" stroke-width="1.4"/>
<rect x="481.80" y="390.95" width="19.10" height="80.95" fill="#9a9a9a" stroke="#111" stroke-width="1.8"/>
<line x1="358.60" y1="366.50" x2="358.60" y2="472.80" stroke="#111" stroke-width="1.7"/>
<line x1="358.60" y1="471.90" x2="515.40" y2="471.90" stroke="#111" stroke-width="1.8"/>
<line x1="354.80" y1="471.90" x2="358.60" y2="471.90" stroke="#111" stroke-width="1.5"/>
<text x="354.00" y="475.00" font-size="8.6" text-anchor="end" font-weight="normal" fill="#111" stroke="#111" stroke-width="0.15">0</text>
<line x1="354.80" y1="445.75" x2="358.60" y2="445.75" stroke="#111" stroke-width="1.5"/>
<text x="354.00" y="448.85" font-size="8.6" text-anchor="end" font-weight="normal" fill="#111" stroke="#111" stroke-width="0.15">100</text>
<line x1="354.80" y1="419.60" x2="358.60" y2="419.60" stroke="#111" stroke-width="1.5"/>
<text x="354.00" y="422.70" font-size="8.6" text-anchor="end" font-weight="normal" fill="#111" stroke="#111" stroke-width="0.15">200</text>
<line x1="354.80" y1="393.45" x2="358.60" y2="393.45" stroke="#111" stroke-width="1.5"/>
<text x="354.00" y="396.55" font-size="8.6" text-anchor="end" font-weight="normal" fill="#111" stroke="#111" stroke-width="0.15">300</text>
<line x1="354.80" y1="367.30" x2="358.60" y2="367.30" stroke="#111" stroke-width="1.5"/>
<text x="354.00" y="370.40" font-size="8.6" text-anchor="end" font-weight="normal" fill="#111" stroke="#111" stroke-width="0.15">400</text>
<line x1="397.50" y1="471.90" x2="397.50" y2="475.90" stroke="#111" stroke-width="1.4"/>
<text x="397.50" y="485.20" font-size="9.05" text-anchor="middle" font-weight="normal" fill="#111" stroke="#111" stroke-width="0.15">fibrinogen - TNF</text>
<line x1="476.20" y1="471.90" x2="476.20" y2="475.90" stroke="#111" stroke-width="1.4"/>
<text x="476.20" y="485.20" font-size="9.05" text-anchor="middle" font-weight="normal" fill="#111" stroke="#111" stroke-width="0.15">fibrinogen + TNF</text>
<text x="373.10" y="385.40" font-size="9.5" text-anchor="start" font-weight="normal" fill="#111" stroke="#111" stroke-width="0.15">Genotype p=0.0004</text>
<text x="373.10" y="397.20" font-size="9.5" text-anchor="start" font-weight="normal" fill="#111" stroke="#111" stroke-width="0.15">Activation p=0.0014</text>
<text transform="translate(330.6,417.00) rotate(-90) scale(0.95,1)" font-size="10.4" text-anchor="middle" fill="#111" stroke="#111" stroke-width="0.2">ROS [% wt response]</text>
<line x1="95.00" y1="545.55" x2="95.00" y2="655.55" stroke="#111" stroke-width="1.7"/>
<line x1="95.00" y1="654.75" x2="256.60" y2="654.75" stroke="#111" stroke-width="1.7"/>
<line x1="91.00" y1="654.75" x2="95.00" y2="654.75" stroke="#111" stroke-width="1.5"/>
<text x="87.00" y="659.05" font-size="10.3" text-anchor="end" font-weight="normal" fill="#111" stroke="#111" stroke-width="0.26">0</text>
<line x1="91.00" y1="627.65" x2="95.00" y2="627.65" stroke="#111" stroke-width="1.5"/>
<text x="87.00" y="631.95" font-size="10.3" text-anchor="end" font-weight="normal" fill="#111" stroke="#111" stroke-width="0.26">5</text>
<line x1="91.00" y1="600.55" x2="95.00" y2="600.55" stroke="#111" stroke-width="1.5"/>
<text x="87.00" y="604.85" font-size="10.3" text-anchor="end" font-weight="normal" fill="#111" stroke="#111" stroke-width="0.26">10</text>
<line x1="91.00" y1="573.45" x2="95.00" y2="573.45" stroke="#111" stroke-width="1.5"/>
<text x="87.00" y="577.75" font-size="10.3" text-anchor="end" font-weight="normal" fill="#111" stroke="#111" stroke-width="0.26">15</text>
<line x1="91.00" y1="546.35" x2="95.00" y2="546.35" stroke="#111" stroke-width="1.5"/>
<text x="87.00" y="550.65" font-size="10.3" text-anchor="end" font-weight="normal" fill="#111" stroke="#111" stroke-width="0.26">20</text>
<line x1="124.70" y1="654.75" x2="124.70" y2="658.55" stroke="#111" stroke-width="1.5"/>
<text x="124.70" y="671.20" font-size="10.3" text-anchor="middle" font-weight="normal" fill="#111" stroke="#111" stroke-width="0.26">10</text>
<line x1="156.10" y1="654.75" x2="156.10" y2="658.55" stroke="#111" stroke-width="1.5"/>
<text x="156.10" y="671.20" font-size="10.3" text-anchor="middle" font-weight="normal" fill="#111" stroke="#111" stroke-width="0.26">20</text>
<line x1="187.50" y1="654.75" x2="187.50" y2="658.55" stroke="#111" stroke-width="1.5"/>
<text x="187.50" y="671.20" font-size="10.3" text-anchor="middle" font-weight="normal" fill="#111" stroke="#111" stroke-width="0.26">30</text>
<line x1="218.90" y1="654.75" x2="218.90" y2="658.55" stroke="#111" stroke-width="1.5"/>
<text x="218.90" y="671.20" font-size="10.3" text-anchor="middle" font-weight="normal" fill="#111" stroke="#111" stroke-width="0.26">40</text>
<line x1="250.30" y1="654.75" x2="250.30" y2="658.55" stroke="#111" stroke-width="1.5"/>
<text x="250.30" y="671.20" font-size="10.3" text-anchor="middle" font-weight="normal" fill="#111" stroke="#111" stroke-width="0.26">50</text>
<text x="176.30" y="683.50" font-size="10.3" text-anchor="middle" font-weight="normal" fill="#111" stroke="#111" stroke-width="0.26">Time [min]</text>
<text transform="translate(52.40,597.80) rotate(-90)" font-size="10.506" text-anchor="middle" font-weight="normal" fill="#111" stroke="#111" stroke-width="0.26">ROS production</text>
<text transform="translate(66.3,597.8) rotate(-90)" font-size="10.51" text-anchor="middle" fill="#111" stroke="#111" stroke-width="0.26">[RLU x 10<tspan font-size="8.40" dy="-4.73">-3</tspan><tspan dy="4.73">/sec]</tspan></text>
<line x1="113.90" y1="626.28" x2="113.90" y2="630.65" stroke="#111" stroke-width="1.3"/>
<line x1="112.00" y1="626.28" x2="115.80" y2="626.28" stroke="#111" stroke-width="1.3"/>
<line x1="112.00" y1="630.65" x2="115.80" y2="630.65" stroke="#111" stroke-width="1.3"/>
<line x1="116.47" y1="611.35" x2="116.47" y2="622.38" stroke="#111" stroke-width="1.3"/>
<line x1="114.57" y1="611.35" x2="118.37" y2="611.35" stroke="#111" stroke-width="1.3"/>
<line x1="114.57" y1="622.38" x2="118.37" y2="622.38" stroke="#111" stroke-width="1.3"/>
<line x1="119.05" y1="597.68" x2="119.05" y2="613.22" stroke="#111" stroke-width="1.3"/>
<line x1="117.15" y1="597.68" x2="120.95" y2="597.68" stroke="#111" stroke-width="1.3"/>
<line x1="117.15" y1="613.22" x2="120.95" y2="613.22" stroke="#111" stroke-width="1.3"/>
<line x1="121.62" y1="585.08" x2="121.62" y2="604.69" stroke="#111" stroke-width="1.3"/>
<line x1="119.72" y1="585.08" x2="123.52" y2="585.08" stroke="#111" stroke-width="1.3"/>
<line x1="119.72" y1="604.69" x2="123.52" y2="604.69" stroke="#111" stroke-width="1.3"/>
<line x1="124.20" y1="573.02" x2="124.20" y2="596.82" stroke="#111" stroke-width="1.3"/>
<line x1="122.30" y1="573.02" x2="126.10" y2="573.02" stroke="#111" stroke-width="1.3"/>
<line x1="122.30" y1="596.82" x2="126.10" y2="596.82" stroke="#111" stroke-width="1.3"/>
<line x1="126.77" y1="563.43" x2="126.77" y2="590.72" stroke="#111" stroke-width="1.3"/>
<line x1="124.87" y1="563.43" x2="128.67" y2="563.43" stroke="#111" stroke-width="1.3"/>
<line x1="124.87" y1="590.72" x2="128.67" y2="590.72" stroke="#111" stroke-width="1.3"/>
<line x1="129.35" y1="557.24" x2="129.35" y2="586.20" stroke="#111" stroke-width="1.3"/>
<line x1="127.45" y1="557.24" x2="131.25" y2="557.24" stroke="#111" stroke-width="1.3"/>
<line x1="127.45" y1="586.20" x2="131.25" y2="586.20" stroke="#111" stroke-width="1.3"/>
<line x1="131.92" y1="554.17" x2="131.92" y2="583.80" stroke="#111" stroke-width="1.3"/>
<line x1="130.02" y1="554.17" x2="133.82" y2="554.17" stroke="#111" stroke-width="1.3"/>
<line x1="130.02" y1="583.80" x2="133.82" y2="583.80" stroke="#111" stroke-width="1.3"/>
<line x1="134.50" y1="553.76" x2="134.50" y2="583.43" stroke="#111" stroke-width="1.3"/>
<line x1="132.60" y1="553.76" x2="136.40" y2="553.76" stroke="#111" stroke-width="1.3"/>
<line x1="132.60" y1="583.43" x2="136.40" y2="583.43" stroke="#111" stroke-width="1.3"/>
<line x1="137.07" y1="554.91" x2="137.07" y2="584.21" stroke="#111" stroke-width="1.3"/>
<line x1="135.17" y1="554.91" x2="138.97" y2="554.91" stroke="#111" stroke-width="1.3"/>
<line x1="135.17" y1="584.21" x2="138.97" y2="584.21" stroke="#111" stroke-width="1.3"/>
<line x1="139.65" y1="556.96" x2="139.65" y2="585.60" stroke="#111" stroke-width="1.3"/>
<line x1="137.75" y1="556.96" x2="141.55" y2="556.96" stroke="#111" stroke-width="1.3"/>
<line x1="137.75" y1="585.60" x2="141.55" y2="585.60" stroke="#111" stroke-width="1.3"/>
<line x1="142.22" y1="559.25" x2="142.22" y2="586.91" stroke="#111" stroke-width="1.3"/>
<line x1="140.32" y1="559.25" x2="144.12" y2="559.25" stroke="#111" stroke-width="1.3"/>
<line x1="140.32" y1="586.91" x2="144.12" y2="586.91" stroke="#111" stroke-width="1.3"/>
<line x1="144.80" y1="561.61" x2="144.80" y2="588.06" stroke="#111" stroke-width="1.3"/>
<line x1="142.90" y1="561.61" x2="146.70" y2="561.61" stroke="#111" stroke-width="1.3"/>
<line x1="142.90" y1="588.06" x2="146.70" y2="588.06" stroke="#111" stroke-width="1.3"/>
<line x1="147.37" y1="563.95" x2="147.37" y2="589.08" stroke="#111" stroke-width="1.3"/>
<line x1="145.47" y1="563.95" x2="149.27" y2="563.95" stroke="#111" stroke-width="1.3"/>
<line x1="145.47" y1="589.08" x2="149.27" y2="589.08" stroke="#111" stroke-width="1.3"/>
<line x1="149.95" y1="566.54" x2="149.95" y2="590.32" stroke="#111" stroke-width="1.3"/>
<line x1="148.05" y1="566.54" x2="151.85" y2="566.54" stroke="#111" stroke-width="1.3"/>
<line x1="148.05" y1="590.32" x2="151.85" y2="590.32" stroke="#111" stroke-width="1.3"/>
<line x1="152.52" y1="569.67" x2="152.52" y2="592.00" stroke="#111" stroke-width="1.3"/>
<line x1="150.62" y1="569.67" x2="154.42" y2="569.67" stroke="#111" stroke-width="1.3"/>
<line x1="150.62" y1="592.00" x2="154.42" y2="592.00" stroke="#111" stroke-width="1.3"/>
<line x1="155.10" y1="573.03" x2="155.10" y2="593.73" stroke="#111" stroke-width="1.3"/>
<line x1="153.20" y1="573.03" x2="157.00" y2="573.03" stroke="#111" stroke-width="1.3"/>
<line x1="153.20" y1="593.73" x2="157.00" y2="593.73" stroke="#111" stroke-width="1.3"/>
<line x1="157.67" y1="576.10" x2="157.67" y2="595.14" stroke="#111" stroke-width="1.3"/>
<line x1="155.77" y1="576.10" x2="159.57" y2="576.10" stroke="#111" stroke-width="1.3"/>
<line x1="155.77" y1="595.14" x2="159.57" y2="595.14" stroke="#111" stroke-width="1.3"/>
<line x1="160.24" y1="578.95" x2="160.24" y2="596.40" stroke="#111" stroke-width="1.3"/>
<line x1="158.34" y1="578.95" x2="162.14" y2="578.95" stroke="#111" stroke-width="1.3"/>
<line x1="158.34" y1="596.40" x2="162.14" y2="596.40" stroke="#111" stroke-width="1.3"/>
<line x1="162.82" y1="581.43" x2="162.82" y2="597.46" stroke="#111" stroke-width="1.3"/>
<line x1="160.92" y1="581.43" x2="164.72" y2="581.43" stroke="#111" stroke-width="1.3"/>
<line x1="160.92" y1="597.46" x2="164.72" y2="597.46" stroke="#111" stroke-width="1.3"/>
<line x1="165.39" y1="583.44" x2="165.39" y2="598.23" stroke="#111" stroke-width="1.3"/>
<line x1="163.49" y1="583.44" x2="167.29" y2="583.44" stroke="#111" stroke-width="1.3"/>
<line x1="163.49" y1="598.23" x2="167.29" y2="598.23" stroke="#111" stroke-width="1.3"/>
<line x1="167.97" y1="585.25" x2="167.97" y2="598.90" stroke="#111" stroke-width="1.3"/>
<line x1="166.07" y1="585.25" x2="169.87" y2="585.25" stroke="#111" stroke-width="1.3"/>
<line x1="166.07" y1="598.90" x2="169.87" y2="598.90" stroke="#111" stroke-width="1.3"/>
<line x1="170.54" y1="587.10" x2="170.54" y2="599.69" stroke="#111" stroke-width="1.3"/>
<line x1="168.64" y1="587.10" x2="172.44" y2="587.10" stroke="#111" stroke-width="1.3"/>
<line x1="168.64" y1="599.69" x2="172.44" y2="599.69" stroke="#111" stroke-width="1.3"/>
<line x1="173.12" y1="588.95" x2="173.12" y2="600.51" stroke="#111" stroke-width="1.3"/>
<line x1="171.22" y1="588.95" x2="175.02" y2="588.95" stroke="#111" stroke-width="1.3"/>
<line x1="171.22" y1="600.51" x2="175.02" y2="600.51" stroke="#111" stroke-width="1.3"/>
<line x1="175.69" y1="590.80" x2="175.69" y2="601.35" stroke="#111" stroke-width="1.3"/>
<line x1="173.79" y1="590.80" x2="177.59" y2="590.80" stroke="#111" stroke-width="1.3"/>
<line x1="173.79" y1="601.35" x2="177.59" y2="601.35" stroke="#111" stroke-width="1.3"/>
<line x1="178.27" y1="592.67" x2="178.27" y2="602.34" stroke="#111" stroke-width="1.3"/>
<line x1="176.37" y1="592.67" x2="180.17" y2="592.67" stroke="#111" stroke-width="1.3"/>
<line x1="176.37" y1="602.34" x2="180.17" y2="602.34" stroke="#111" stroke-width="1.3"/>
<line x1="180.84" y1="594.34" x2="180.84" y2="603.20" stroke="#111" stroke-width="1.3"/>
<line x1="178.94" y1="594.34" x2="182.74" y2="594.34" stroke="#111" stroke-width="1.3"/>
<line x1="178.94" y1="603.20" x2="182.74" y2="603.20" stroke="#111" stroke-width="1.3"/>
<line x1="183.42" y1="595.68" x2="183.42" y2="603.64" stroke="#111" stroke-width="1.3"/>
<line x1="181.52" y1="595.68" x2="185.32" y2="595.68" stroke="#111" stroke-width="1.3"/>
<line x1="181.52" y1="603.64" x2="185.32" y2="603.64" stroke="#111" stroke-width="1.3"/>
<line x1="185.99" y1="596.93" x2="185.99" y2="603.61" stroke="#111" stroke-width="1.3"/>
<line x1="184.09" y1="596.93" x2="187.89" y2="596.93" stroke="#111" stroke-width="1.3"/>
<line x1="184.09" y1="603.61" x2="187.89" y2="603.61" stroke="#111" stroke-width="1.3"/>
<line x1="188.57" y1="598.19" x2="188.57" y2="603.21" stroke="#111" stroke-width="1.3"/>
<line x1="186.67" y1="598.19" x2="190.47" y2="598.19" stroke="#111" stroke-width="1.3"/>
<line x1="186.67" y1="603.21" x2="190.47" y2="603.21" stroke="#111" stroke-width="1.3"/>
<line x1="191.14" y1="598.73" x2="191.14" y2="603.04" stroke="#111" stroke-width="1.3"/>
<line x1="189.24" y1="598.73" x2="193.04" y2="598.73" stroke="#111" stroke-width="1.3"/>
<line x1="189.24" y1="603.04" x2="193.04" y2="603.04" stroke="#111" stroke-width="1.3"/>
<line x1="193.72" y1="598.98" x2="193.72" y2="603.18" stroke="#111" stroke-width="1.3"/>
<line x1="191.82" y1="598.98" x2="195.62" y2="598.98" stroke="#111" stroke-width="1.3"/>
<line x1="191.82" y1="603.18" x2="195.62" y2="603.18" stroke="#111" stroke-width="1.3"/>
<line x1="196.29" y1="599.46" x2="196.29" y2="603.57" stroke="#111" stroke-width="1.3"/>
<line x1="194.39" y1="599.46" x2="198.19" y2="599.46" stroke="#111" stroke-width="1.3"/>
<line x1="194.39" y1="603.57" x2="198.19" y2="603.57" stroke="#111" stroke-width="1.3"/>
<line x1="198.87" y1="599.98" x2="198.87" y2="604.01" stroke="#111" stroke-width="1.3"/>
<line x1="196.97" y1="599.98" x2="200.77" y2="599.98" stroke="#111" stroke-width="1.3"/>
<line x1="196.97" y1="604.01" x2="200.77" y2="604.01" stroke="#111" stroke-width="1.3"/>
<line x1="201.44" y1="600.36" x2="201.44" y2="604.34" stroke="#111" stroke-width="1.3"/>
<line x1="199.54" y1="600.36" x2="203.34" y2="600.36" stroke="#111" stroke-width="1.3"/>
<line x1="199.54" y1="604.34" x2="203.34" y2="604.34" stroke="#111" stroke-width="1.3"/>
<line x1="204.02" y1="600.65" x2="204.02" y2="604.59" stroke="#111" stroke-width="1.3"/>
<line x1="202.12" y1="600.65" x2="205.92" y2="600.65" stroke="#111" stroke-width="1.3"/>
<line x1="202.12" y1="604.59" x2="205.92" y2="604.59" stroke="#111" stroke-width="1.3"/>
<line x1="206.59" y1="600.76" x2="206.59" y2="604.67" stroke="#111" stroke-width="1.3"/>
<line x1="204.69" y1="600.76" x2="208.49" y2="600.76" stroke="#111" stroke-width="1.3"/>
<line x1="204.69" y1="604.67" x2="208.49" y2="604.67" stroke="#111" stroke-width="1.3"/>
<line x1="209.17" y1="600.63" x2="209.17" y2="604.53" stroke="#111" stroke-width="1.3"/>
<line x1="207.27" y1="600.63" x2="211.07" y2="600.63" stroke="#111" stroke-width="1.3"/>
<line x1="207.27" y1="604.53" x2="211.07" y2="604.53" stroke="#111" stroke-width="1.3"/>
<line x1="211.74" y1="600.34" x2="211.74" y2="604.24" stroke="#111" stroke-width="1.3"/>
<line x1="209.84" y1="600.34" x2="213.64" y2="600.34" stroke="#111" stroke-width="1.3"/>
<line x1="209.84" y1="604.24" x2="213.64" y2="604.24" stroke="#111" stroke-width="1.3"/>
<line x1="214.32" y1="599.92" x2="214.32" y2="603.83" stroke="#111" stroke-width="1.3"/>
<line x1="212.42" y1="599.92" x2="216.22" y2="599.92" stroke="#111" stroke-width="1.3"/>
<line x1="212.42" y1="603.83" x2="216.22" y2="603.83" stroke="#111" stroke-width="1.3"/>
<line x1="216.89" y1="599.37" x2="216.89" y2="603.30" stroke="#111" stroke-width="1.3"/>
<line x1="214.99" y1="599.37" x2="218.79" y2="599.37" stroke="#111" stroke-width="1.3"/>
<line x1="214.99" y1="603.30" x2="218.79" y2="603.30" stroke="#111" stroke-width="1.3"/>
<line x1="219.47" y1="599.10" x2="219.47" y2="603.06" stroke="#111" stroke-width="1.3"/>
<line x1="217.57" y1="599.10" x2="221.37" y2="599.10" stroke="#111" stroke-width="1.3"/>
<line x1="217.57" y1="603.06" x2="221.37" y2="603.06" stroke="#111" stroke-width="1.3"/>
<line x1="222.04" y1="599.27" x2="222.04" y2="603.26" stroke="#111" stroke-width="1.3"/>
<line x1="220.14" y1="599.27" x2="223.94" y2="599.27" stroke="#111" stroke-width="1.3"/>
<line x1="220.14" y1="603.26" x2="223.94" y2="603.26" stroke="#111" stroke-width="1.3"/>
<line x1="224.61" y1="599.57" x2="224.61" y2="603.59" stroke="#111" stroke-width="1.3"/>
<line x1="222.71" y1="599.57" x2="226.51" y2="599.57" stroke="#111" stroke-width="1.3"/>
<line x1="222.71" y1="603.59" x2="226.51" y2="603.59" stroke="#111" stroke-width="1.3"/>
<line x1="227.19" y1="599.81" x2="227.19" y2="603.88" stroke="#111" stroke-width="1.3"/>
<line x1="225.29" y1="599.81" x2="229.09" y2="599.81" stroke="#111" stroke-width="1.3"/>
<line x1="225.29" y1="603.88" x2="229.09" y2="603.88" stroke="#111" stroke-width="1.3"/>
<line x1="229.76" y1="600.05" x2="229.76" y2="604.16" stroke="#111" stroke-width="1.3"/>
<line x1="227.86" y1="600.05" x2="231.66" y2="600.05" stroke="#111" stroke-width="1.3"/>
<line x1="227.86" y1="604.16" x2="231.66" y2="604.16" stroke="#111" stroke-width="1.3"/>
<line x1="232.34" y1="600.07" x2="232.34" y2="604.22" stroke="#111" stroke-width="1.3"/>
<line x1="230.44" y1="600.07" x2="234.24" y2="600.07" stroke="#111" stroke-width="1.3"/>
<line x1="230.44" y1="604.22" x2="234.24" y2="604.22" stroke="#111" stroke-width="1.3"/>
<line x1="234.91" y1="599.73" x2="234.91" y2="603.92" stroke="#111" stroke-width="1.3"/>
<line x1="233.01" y1="599.73" x2="236.81" y2="599.73" stroke="#111" stroke-width="1.3"/>
<line x1="233.01" y1="603.92" x2="236.81" y2="603.92" stroke="#111" stroke-width="1.3"/>
<line x1="237.49" y1="599.51" x2="237.49" y2="603.74" stroke="#111" stroke-width="1.3"/>
<line x1="235.59" y1="599.51" x2="239.39" y2="599.51" stroke="#111" stroke-width="1.3"/>
<line x1="235.59" y1="603.74" x2="239.39" y2="603.74" stroke="#111" stroke-width="1.3"/>
<line x1="240.06" y1="599.81" x2="240.06" y2="604.07" stroke="#111" stroke-width="1.3"/>
<line x1="238.16" y1="599.81" x2="241.96" y2="599.81" stroke="#111" stroke-width="1.3"/>
<line x1="238.16" y1="604.07" x2="241.96" y2="604.07" stroke="#111" stroke-width="1.3"/>
<line x1="242.64" y1="600.34" x2="242.64" y2="604.63" stroke="#111" stroke-width="1.3"/>
<line x1="240.74" y1="600.34" x2="244.54" y2="600.34" stroke="#111" stroke-width="1.3"/>
<line x1="240.74" y1="604.63" x2="244.54" y2="604.63" stroke="#111" stroke-width="1.3"/>
<line x1="245.21" y1="600.70" x2="245.21" y2="605.02" stroke="#111" stroke-width="1.3"/>
<line x1="243.31" y1="600.70" x2="247.11" y2="600.70" stroke="#111" stroke-width="1.3"/>
<line x1="243.31" y1="605.02" x2="247.11" y2="605.02" stroke="#111" stroke-width="1.3"/>
<line x1="247.79" y1="600.94" x2="247.79" y2="605.27" stroke="#111" stroke-width="1.3"/>
<line x1="245.89" y1="600.94" x2="249.69" y2="600.94" stroke="#111" stroke-width="1.3"/>
<line x1="245.89" y1="605.27" x2="249.69" y2="605.27" stroke="#111" stroke-width="1.3"/>
<line x1="250.36" y1="601.09" x2="250.36" y2="605.43" stroke="#111" stroke-width="1.3"/>
<line x1="248.46" y1="601.09" x2="252.26" y2="601.09" stroke="#111" stroke-width="1.3"/>
<line x1="248.46" y1="605.43" x2="252.26" y2="605.43" stroke="#111" stroke-width="1.3"/>
<polyline points="95.87,654.21 98.45,654.04 101.02,653.65 103.60,652.65 106.17,650.00 108.75,645.56 111.32,638.58 113.90,628.46 116.47,616.87 119.05,605.45 121.62,594.88 124.20,584.92 126.77,577.08 129.35,571.72 131.92,568.98 134.50,568.59 137.07,569.56 139.65,571.28 142.22,573.08 144.80,574.83 147.37,576.52 149.95,578.43 152.52,580.84 155.10,583.38 157.67,585.62 160.24,587.67 162.82,589.44 165.39,590.83 167.97,592.07 170.54,593.40 173.12,594.73 175.69,596.07 178.27,597.50 180.84,598.77 183.42,599.66 185.99,600.27 188.57,600.70 191.14,600.88 193.72,601.08 196.29,601.51 198.87,602.00 201.44,602.35 204.02,602.62 206.59,602.72 209.17,602.58 211.74,602.29 214.32,601.88 216.89,601.34 219.47,601.08 222.04,601.26 224.61,601.58 227.19,601.85 229.76,602.11 232.34,602.14 234.91,601.83 237.49,601.63 240.06,601.94 242.64,602.49 245.21,602.86 247.79,603.11 250.36,603.26" fill="none" stroke="#111" stroke-width="1.8" stroke-linejoin="round"/>
<circle cx="95.87" cy="654.21" r="2.50" fill="#111"/>
<circle cx="98.45" cy="654.04" r="2.50" fill="#111"/>
<circle cx="101.02" cy="653.65" r="2.50" fill="#111"/>
<circle cx="103.60" cy="652.65" r="2.50" fill="#111"/>
<circle cx="106.17" cy="650.00" r="2.50" fill="#111"/>
<circle cx="108.75" cy="645.56" r="2.50" fill="#111"/>
<circle cx="111.32" cy="638.58" r="2.50" fill="#111"/>
<circle cx="113.90" cy="628.46" r="2.50" fill="#111"/>
<circle cx="116.47" cy="616.87" r="2.50" fill="#111"/>
<circle cx="119.05" cy="605.45" r="2.50" fill="#111"/>
<circle cx="121.62" cy="594.88" r="2.50" fill="#111"/>
<circle cx="124.20" cy="584.92" r="2.50" fill="#111"/>
<circle cx="126.77" cy="577.08" r="2.50" fill="#111"/>
<circle cx="129.35" cy="571.72" r="2.50" fill="#111"/>
<circle cx="131.92" cy="568.98" r="2.50" fill="#111"/>
<circle cx="134.50" cy="568.59" r="2.50" fill="#111"/>
<circle cx="137.07" cy="569.56" r="2.50" fill="#111"/>
<circle cx="139.65" cy="571.28" r="2.50" fill="#111"/>
<circle cx="142.22" cy="573.08" r="2.50" fill="#111"/>
<circle cx="144.80" cy="574.83" r="2.50" fill="#111"/>
<circle cx="147.37" cy="576.52" r="2.50" fill="#111"/>
<circle cx="149.95" cy="578.43" r="2.50" fill="#111"/>
<circle cx="152.52" cy="580.84" r="2.50" fill="#111"/>
<circle cx="155.10" cy="583.38" r="2.50" fill="#111"/>
<circle cx="157.67" cy="585.62" r="2.50" fill="#111"/>
<circle cx="160.24" cy="587.67" r="2.50" fill="#111"/>
<circle cx="162.82" cy="589.44" r="2.50" fill="#111"/>
<circle cx="165.39" cy="590.83" r="2.50" fill="#111"/>
<circle cx="167.97" cy="592.07" r="2.50" fill="#111"/>
<circle cx="170.54" cy="593.40" r="2.50" fill="#111"/>
<circle cx="173.12" cy="594.73" r="2.50" fill="#111"/>
<circle cx="175.69" cy="596.07" r="2.50" fill="#111"/>
<circle cx="178.27" cy="597.50" r="2.50" fill="#111"/>
<circle cx="180.84" cy="598.77" r="2.50" fill="#111"/>
<circle cx="183.42" cy="599.66" r="2.50" fill="#111"/>
<circle cx="185.99" cy="600.27" r="2.50" fill="#111"/>
<circle cx="188.57" cy="600.70" r="2.50" fill="#111"/>
<circle cx="191.14" cy="600.88" r="2.50" fill="#111"/>
<circle cx="193.72" cy="601.08" r="2.50" fill="#111"/>
<circle cx="196.29" cy="601.51" r="2.50" fill="#111"/>
<circle cx="198.87" cy="602.00" r="2.50" fill="#111"/>
<circle cx="201.44" cy="602.35" r="2.50" fill="#111"/>
<circle cx="204.02" cy="602.62" r="2.50" fill="#111"/>
<circle cx="206.59" cy="602.72" r="2.50" fill="#111"/>
<circle cx="209.17" cy="602.58" r="2.50" fill="#111"/>
<circle cx="211.74" cy="602.29" r="2.50" fill="#111"/>
<circle cx="214.32" cy="601.88" r="2.50" fill="#111"/>
<circle cx="216.89" cy="601.34" r="2.50" fill="#111"/>
<circle cx="219.47" cy="601.08" r="2.50" fill="#111"/>
<circle cx="222.04" cy="601.26" r="2.50" fill="#111"/>
<circle cx="224.61" cy="601.58" r="2.50" fill="#111"/>
<circle cx="227.19" cy="601.85" r="2.50" fill="#111"/>
<circle cx="229.76" cy="602.11" r="2.50" fill="#111"/>
<circle cx="232.34" cy="602.14" r="2.50" fill="#111"/>
<circle cx="234.91" cy="601.83" r="2.50" fill="#111"/>
<circle cx="237.49" cy="601.63" r="2.50" fill="#111"/>
<circle cx="240.06" cy="601.94" r="2.50" fill="#111"/>
<circle cx="242.64" cy="602.49" r="2.50" fill="#111"/>
<circle cx="245.21" cy="602.86" r="2.50" fill="#111"/>
<circle cx="247.79" cy="603.11" r="2.50" fill="#111"/>
<circle cx="250.36" cy="603.26" r="2.50" fill="#111"/>
<line x1="116.47" y1="639.01" x2="116.47" y2="640.89" stroke="#111" stroke-width="1.25"/>
<line x1="114.57" y1="639.01" x2="118.37" y2="639.01" stroke="#111" stroke-width="1.25"/>
<line x1="114.57" y1="640.89" x2="118.37" y2="640.89" stroke="#111" stroke-width="1.25"/>
<line x1="119.05" y1="632.17" x2="119.05" y2="639.43" stroke="#111" stroke-width="1.25"/>
<line x1="117.15" y1="632.17" x2="120.95" y2="632.17" stroke="#111" stroke-width="1.25"/>
<line x1="117.15" y1="639.43" x2="120.95" y2="639.43" stroke="#111" stroke-width="1.25"/>
<line x1="121.62" y1="626.46" x2="121.62" y2="636.23" stroke="#111" stroke-width="1.25"/>
<line x1="119.72" y1="626.46" x2="123.52" y2="626.46" stroke="#111" stroke-width="1.25"/>
<line x1="119.72" y1="636.23" x2="123.52" y2="636.23" stroke="#111" stroke-width="1.25"/>
<line x1="124.20" y1="621.96" x2="124.20" y2="633.56" stroke="#111" stroke-width="1.25"/>
<line x1="122.30" y1="621.96" x2="126.10" y2="621.96" stroke="#111" stroke-width="1.25"/>
<line x1="122.30" y1="633.56" x2="126.10" y2="633.56" stroke="#111" stroke-width="1.25"/>
<line x1="126.77" y1="617.92" x2="126.77" y2="631.08" stroke="#111" stroke-width="1.25"/>
<line x1="124.87" y1="617.92" x2="128.67" y2="617.92" stroke="#111" stroke-width="1.25"/>
<line x1="124.87" y1="631.08" x2="128.67" y2="631.08" stroke="#111" stroke-width="1.25"/>
<line x1="129.35" y1="614.65" x2="129.35" y2="629.17" stroke="#111" stroke-width="1.25"/>
<line x1="127.45" y1="614.65" x2="131.25" y2="614.65" stroke="#111" stroke-width="1.25"/>
<line x1="127.45" y1="629.17" x2="131.25" y2="629.17" stroke="#111" stroke-width="1.25"/>
<line x1="131.92" y1="612.08" x2="131.92" y2="627.68" stroke="#111" stroke-width="1.25"/>
<line x1="130.02" y1="612.08" x2="133.82" y2="612.08" stroke="#111" stroke-width="1.25"/>
<line x1="130.02" y1="627.68" x2="133.82" y2="627.68" stroke="#111" stroke-width="1.25"/>
<line x1="134.50" y1="610.08" x2="134.50" y2="626.42" stroke="#111" stroke-width="1.25"/>
<line x1="132.60" y1="610.08" x2="136.40" y2="610.08" stroke="#111" stroke-width="1.25"/>
<line x1="132.60" y1="626.42" x2="136.40" y2="626.42" stroke="#111" stroke-width="1.25"/>
<line x1="137.07" y1="609.04" x2="137.07" y2="625.73" stroke="#111" stroke-width="1.25"/>
<line x1="135.17" y1="609.04" x2="138.97" y2="609.04" stroke="#111" stroke-width="1.25"/>
<line x1="135.17" y1="625.73" x2="138.97" y2="625.73" stroke="#111" stroke-width="1.25"/>
<line x1="139.65" y1="608.94" x2="139.65" y2="625.65" stroke="#111" stroke-width="1.25"/>
<line x1="137.75" y1="608.94" x2="141.55" y2="608.94" stroke="#111" stroke-width="1.25"/>
<line x1="137.75" y1="625.65" x2="141.55" y2="625.65" stroke="#111" stroke-width="1.25"/>
<line x1="142.22" y1="609.33" x2="142.22" y2="625.79" stroke="#111" stroke-width="1.25"/>
<line x1="140.32" y1="609.33" x2="144.12" y2="609.33" stroke="#111" stroke-width="1.25"/>
<line x1="140.32" y1="625.79" x2="144.12" y2="625.79" stroke="#111" stroke-width="1.25"/>
<line x1="144.80" y1="610.41" x2="144.80" y2="626.42" stroke="#111" stroke-width="1.25"/>
<line x1="142.90" y1="610.41" x2="146.70" y2="610.41" stroke="#111" stroke-width="1.25"/>
<line x1="142.90" y1="626.42" x2="146.70" y2="626.42" stroke="#111" stroke-width="1.25"/>
<line x1="147.37" y1="612.41" x2="147.37" y2="627.68" stroke="#111" stroke-width="1.25"/>
<line x1="145.47" y1="612.41" x2="149.27" y2="612.41" stroke="#111" stroke-width="1.25"/>
<line x1="145.47" y1="627.68" x2="149.27" y2="627.68" stroke="#111" stroke-width="1.25"/>
<line x1="149.95" y1="615.18" x2="149.95" y2="629.50" stroke="#111" stroke-width="1.25"/>
<line x1="148.05" y1="615.18" x2="151.85" y2="615.18" stroke="#111" stroke-width="1.25"/>
<line x1="148.05" y1="629.50" x2="151.85" y2="629.50" stroke="#111" stroke-width="1.25"/>
<line x1="152.52" y1="618.01" x2="152.52" y2="631.22" stroke="#111" stroke-width="1.25"/>
<line x1="150.62" y1="618.01" x2="154.42" y2="618.01" stroke="#111" stroke-width="1.25"/>
<line x1="150.62" y1="631.22" x2="154.42" y2="631.22" stroke="#111" stroke-width="1.25"/>
<line x1="155.10" y1="620.40" x2="155.10" y2="632.34" stroke="#111" stroke-width="1.25"/>
<line x1="153.20" y1="620.40" x2="157.00" y2="620.40" stroke="#111" stroke-width="1.25"/>
<line x1="153.20" y1="632.34" x2="157.00" y2="632.34" stroke="#111" stroke-width="1.25"/>
<line x1="157.67" y1="622.67" x2="157.67" y2="633.16" stroke="#111" stroke-width="1.25"/>
<line x1="155.77" y1="622.67" x2="159.57" y2="622.67" stroke="#111" stroke-width="1.25"/>
<line x1="155.77" y1="633.16" x2="159.57" y2="633.16" stroke="#111" stroke-width="1.25"/>
<line x1="160.24" y1="624.75" x2="160.24" y2="633.67" stroke="#111" stroke-width="1.25"/>
<line x1="158.34" y1="624.75" x2="162.14" y2="624.75" stroke="#111" stroke-width="1.25"/>
<line x1="158.34" y1="633.67" x2="162.14" y2="633.67" stroke="#111" stroke-width="1.25"/>
<line x1="162.82" y1="626.66" x2="162.82" y2="633.96" stroke="#111" stroke-width="1.25"/>
<line x1="160.92" y1="626.66" x2="164.72" y2="626.66" stroke="#111" stroke-width="1.25"/>
<line x1="160.92" y1="633.96" x2="164.72" y2="633.96" stroke="#111" stroke-width="1.25"/>
<line x1="165.39" y1="628.56" x2="165.39" y2="634.06" stroke="#111" stroke-width="1.25"/>
<line x1="163.49" y1="628.56" x2="167.29" y2="628.56" stroke="#111" stroke-width="1.25"/>
<line x1="163.49" y1="634.06" x2="167.29" y2="634.06" stroke="#111" stroke-width="1.25"/>
<line x1="167.97" y1="630.43" x2="167.97" y2="634.11" stroke="#111" stroke-width="1.25"/>
<line x1="166.07" y1="630.43" x2="169.87" y2="630.43" stroke="#111" stroke-width="1.25"/>
<line x1="166.07" y1="634.11" x2="169.87" y2="634.11" stroke="#111" stroke-width="1.25"/>
<line x1="170.54" y1="632.21" x2="170.54" y2="634.22" stroke="#111" stroke-width="1.25"/>
<line x1="168.64" y1="632.21" x2="172.44" y2="632.21" stroke="#111" stroke-width="1.25"/>
<line x1="168.64" y1="634.22" x2="172.44" y2="634.22" stroke="#111" stroke-width="1.25"/>
<polyline points="95.87,653.67 98.45,653.57 101.02,653.36 103.60,652.95 106.17,651.84 108.75,649.57 111.32,647.01 113.90,643.75 116.47,639.95 119.05,635.80 121.62,631.35 124.20,627.76 126.77,624.50 129.35,621.91 131.92,619.88 134.50,618.25 137.07,617.39 139.65,617.29 142.22,617.56 144.80,618.41 147.37,620.04 149.95,622.34 152.52,624.62 155.10,626.37 157.67,627.92 160.24,629.21 162.82,630.31 165.39,631.31 167.97,632.27 170.54,633.21 173.12,634.10 175.69,634.97 178.27,635.85 180.84,636.77 183.42,637.70 185.99,638.57 188.57,639.33 191.14,639.95 193.72,640.50 196.29,641.06 198.87,641.65 201.44,642.25 204.02,642.84 206.59,643.42 209.17,644.00 211.74,644.57 214.32,645.14 216.89,645.68 219.47,646.19 222.04,646.67 224.61,647.13 227.19,647.57 229.76,647.98 232.34,648.38 234.91,648.73 237.49,649.06 240.06,649.38 242.64,649.70 245.21,650.04 247.79,650.42 250.36,650.68" fill="none" stroke="#111" stroke-width="1.1" stroke-linejoin="round"/>
<circle cx="95.87" cy="653.67" r="2.00" fill="#fff" stroke="#111" stroke-width="1.2"/>
<circle cx="98.45" cy="653.57" r="2.00" fill="#fff" stroke="#111" stroke-width="1.2"/>
<circle cx="101.02" cy="653.36" r="2.00" fill="#fff" stroke="#111" stroke-width="1.2"/>
<circle cx="103.60" cy="652.95" r="2.00" fill="#fff" stroke="#111" stroke-width="1.2"/>
<circle cx="106.17" cy="651.84" r="2.00" fill="#fff" stroke="#111" stroke-width="1.2"/>
<circle cx="108.75" cy="649.57" r="2.00" fill="#fff" stroke="#111" stroke-width="1.2"/>
<circle cx="111.32" cy="647.01" r="2.00" fill="#fff" stroke="#111" stroke-width="1.2"/>
<circle cx="113.90" cy="643.75" r="2.00" fill="#fff" stroke="#111" stroke-width="1.2"/>
<circle cx="116.47" cy="639.95" r="2.00" fill="#fff" stroke="#111" stroke-width="1.2"/>
<circle cx="119.05" cy="635.80" r="2.00" fill="#fff" stroke="#111" stroke-width="1.2"/>
<circle cx="121.62" cy="631.35" r="2.00" fill="#fff" stroke="#111" stroke-width="1.2"/>
<circle cx="124.20" cy="627.76" r="2.00" fill="#fff" stroke="#111" stroke-width="1.2"/>
<circle cx="126.77" cy="624.50" r="2.00" fill="#fff" stroke="#111" stroke-width="1.2"/>
<circle cx="129.35" cy="621.91" r="2.00" fill="#fff" stroke="#111" stroke-width="1.2"/>
<circle cx="131.92" cy="619.88" r="2.00" fill="#fff" stroke="#111" stroke-width="1.2"/>
<circle cx="134.50" cy="618.25" r="2.00" fill="#fff" stroke="#111" stroke-width="1.2"/>
<circle cx="137.07" cy="617.39" r="2.00" fill="#fff" stroke="#111" stroke-width="1.2"/>
<circle cx="139.65" cy="617.29" r="2.00" fill="#fff" stroke="#111" stroke-width="1.2"/>
<circle cx="142.22" cy="617.56" r="2.00" fill="#fff" stroke="#111" stroke-width="1.2"/>
<circle cx="144.80" cy="618.41" r="2.00" fill="#fff" stroke="#111" stroke-width="1.2"/>
<circle cx="147.37" cy="620.04" r="2.00" fill="#fff" stroke="#111" stroke-width="1.2"/>
<circle cx="149.95" cy="622.34" r="2.00" fill="#fff" stroke="#111" stroke-width="1.2"/>
<circle cx="152.52" cy="624.62" r="2.00" fill="#fff" stroke="#111" stroke-width="1.2"/>
<circle cx="155.10" cy="626.37" r="2.00" fill="#fff" stroke="#111" stroke-width="1.2"/>
<circle cx="157.67" cy="627.92" r="2.00" fill="#fff" stroke="#111" stroke-width="1.2"/>
<circle cx="160.24" cy="629.21" r="2.00" fill="#fff" stroke="#111" stroke-width="1.2"/>
<circle cx="162.82" cy="630.31" r="2.00" fill="#fff" stroke="#111" stroke-width="1.2"/>
<circle cx="165.39" cy="631.31" r="2.00" fill="#fff" stroke="#111" stroke-width="1.2"/>
<circle cx="167.97" cy="632.27" r="2.00" fill="#fff" stroke="#111" stroke-width="1.2"/>
<circle cx="170.54" cy="633.21" r="2.00" fill="#fff" stroke="#111" stroke-width="1.2"/>
<circle cx="173.12" cy="634.10" r="2.00" fill="#fff" stroke="#111" stroke-width="1.2"/>
<circle cx="175.69" cy="634.97" r="2.00" fill="#fff" stroke="#111" stroke-width="1.2"/>
<circle cx="178.27" cy="635.85" r="2.00" fill="#fff" stroke="#111" stroke-width="1.2"/>
<circle cx="180.84" cy="636.77" r="2.00" fill="#fff" stroke="#111" stroke-width="1.2"/>
<circle cx="183.42" cy="637.70" r="2.00" fill="#fff" stroke="#111" stroke-width="1.2"/>
<circle cx="185.99" cy="638.57" r="2.00" fill="#fff" stroke="#111" stroke-width="1.2"/>
<circle cx="188.57" cy="639.33" r="2.00" fill="#fff" stroke="#111" stroke-width="1.2"/>
<circle cx="191.14" cy="639.95" r="2.00" fill="#fff" stroke="#111" stroke-width="1.2"/>
<circle cx="193.72" cy="640.50" r="2.00" fill="#fff" stroke="#111" stroke-width="1.2"/>
<circle cx="196.29" cy="641.06" r="2.00" fill="#fff" stroke="#111" stroke-width="1.2"/>
<circle cx="198.87" cy="641.65" r="2.00" fill="#fff" stroke="#111" stroke-width="1.2"/>
<circle cx="201.44" cy="642.25" r="2.00" fill="#fff" stroke="#111" stroke-width="1.2"/>
<circle cx="204.02" cy="642.84" r="2.00" fill="#fff" stroke="#111" stroke-width="1.2"/>
<circle cx="206.59" cy="643.42" r="2.00" fill="#fff" stroke="#111" stroke-width="1.2"/>
<circle cx="209.17" cy="644.00" r="2.00" fill="#fff" stroke="#111" stroke-width="1.2"/>
<circle cx="211.74" cy="644.57" r="2.00" fill="#fff" stroke="#111" stroke-width="1.2"/>
<circle cx="214.32" cy="645.14" r="2.00" fill="#fff" stroke="#111" stroke-width="1.2"/>
<circle cx="216.89" cy="645.68" r="2.00" fill="#fff" stroke="#111" stroke-width="1.2"/>
<circle cx="219.47" cy="646.19" r="2.00" fill="#fff" stroke="#111" stroke-width="1.2"/>
<circle cx="222.04" cy="646.67" r="2.00" fill="#fff" stroke="#111" stroke-width="1.2"/>
<circle cx="224.61" cy="647.13" r="2.00" fill="#fff" stroke="#111" stroke-width="1.2"/>
<circle cx="227.19" cy="647.57" r="2.00" fill="#fff" stroke="#111" stroke-width="1.2"/>
<circle cx="229.76" cy="647.98" r="2.00" fill="#fff" stroke="#111" stroke-width="1.2"/>
<circle cx="232.34" cy="648.38" r="2.00" fill="#fff" stroke="#111" stroke-width="1.2"/>
<circle cx="234.91" cy="648.73" r="2.00" fill="#fff" stroke="#111" stroke-width="1.2"/>
<circle cx="237.49" cy="649.06" r="2.00" fill="#fff" stroke="#111" stroke-width="1.2"/>
<circle cx="240.06" cy="649.38" r="2.00" fill="#fff" stroke="#111" stroke-width="1.2"/>
<circle cx="242.64" cy="649.70" r="2.00" fill="#fff" stroke="#111" stroke-width="1.2"/>
<circle cx="245.21" cy="650.04" r="2.00" fill="#fff" stroke="#111" stroke-width="1.2"/>
<circle cx="247.79" cy="650.42" r="2.00" fill="#fff" stroke="#111" stroke-width="1.2"/>
<circle cx="250.36" cy="650.68" r="2.00" fill="#fff" stroke="#111" stroke-width="1.2"/>
<line x1="397.85" y1="641.55" x2="397.85" y2="641.81" stroke="#111" stroke-width="1.4"/>
<line x1="384.68" y1="641.55" x2="411.03" y2="641.55" stroke="#111" stroke-width="1.4"/>
<rect x="372.10" y="642.71" width="51.50" height="12.39" fill="#fff" stroke="#111" stroke-width="1.8"/>
<line x1="477.00" y1="571.40" x2="477.00" y2="584.96" stroke="#111" stroke-width="1.4"/>
<line x1="463.75" y1="571.40" x2="490.25" y2="571.40" stroke="#111" stroke-width="1.4"/>
<rect x="451.40" y="585.86" width="51.20" height="69.24" fill="#9a9a9a" stroke="#111" stroke-width="1.8"/>
<line x1="358.70" y1="549.02" x2="358.70" y2="656.00" stroke="#111" stroke-width="1.7"/>
<line x1="358.70" y1="655.10" x2="515.40" y2="655.10" stroke="#111" stroke-width="1.8"/>
<line x1="354.90" y1="655.10" x2="358.70" y2="655.10" stroke="#111" stroke-width="1.5"/>
<text x="354.10" y="658.20" font-size="8.6" text-anchor="end" font-weight="normal" fill="#111" stroke="#111" stroke-width="0.15">0</text>
<line x1="354.90" y1="628.78" x2="358.70" y2="628.78" stroke="#111" stroke-width="1.5"/>
<text x="354.10" y="631.88" font-size="8.6" text-anchor="end" font-weight="normal" fill="#111" stroke="#111" stroke-width="0.15">200</text>
<line x1="354.90" y1="602.46" x2="358.70" y2="602.46" stroke="#111" stroke-width="1.5"/>
<text x="354.10" y="605.56" font-size="8.6" text-anchor="end" font-weight="normal" fill="#111" stroke="#111" stroke-width="0.15">400</text>
<line x1="354.90" y1="576.14" x2="358.70" y2="576.14" stroke="#111" stroke-width="1.5"/>
<text x="354.10" y="579.24" font-size="8.6" text-anchor="end" font-weight="normal" fill="#111" stroke="#111" stroke-width="0.15">600</text>
<line x1="354.90" y1="549.82" x2="358.70" y2="549.82" stroke="#111" stroke-width="1.5"/>
<text x="354.10" y="552.92" font-size="8.6" text-anchor="end" font-weight="normal" fill="#111" stroke="#111" stroke-width="0.15">800</text>
<line x1="397.80" y1="655.10" x2="397.80" y2="659.10" stroke="#111" stroke-width="1.4"/>
<text x="397.80" y="668.20" font-size="8.6" text-anchor="middle" font-weight="normal" fill="#111" stroke="#111" stroke-width="0.15">wt</text>
<line x1="476.20" y1="655.10" x2="476.20" y2="659.10" stroke="#111" stroke-width="1.4"/>
<text x="476.20" y="668.20" font-size="8.6" text-anchor="middle" font-weight="normal" fill="#111" stroke="#111" stroke-width="0.15">ko</text>
<text x="373.10" y="568.00" font-size="9.5" text-anchor="start" font-weight="normal" fill="#111" stroke="#111" stroke-width="0.15">Genotype p=0.0022</text>
<text transform="translate(330.6,599.70) rotate(-90) scale(0.95,1)" font-size="10.4" text-anchor="middle" fill="#111" stroke="#111" stroke-width="0.2">ROS [% wt response]</text>
</svg>
</body></html>
